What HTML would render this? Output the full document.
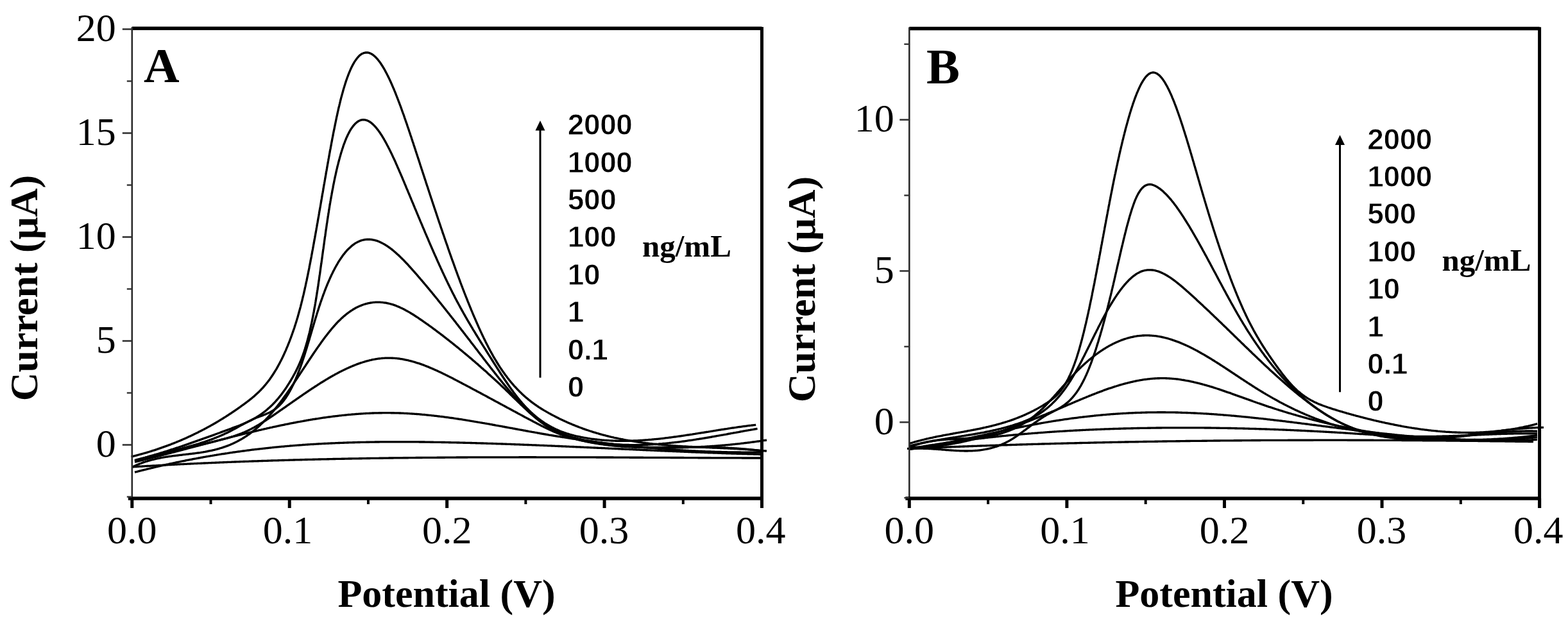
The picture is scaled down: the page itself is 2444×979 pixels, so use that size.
<!DOCTYPE html>
<html><head><meta charset="utf-8"><style>
html,body{margin:0;padding:0;background:#fff;}
svg{display:block;}
.tl{font-family:"Liberation Serif",serif;font-size:62px;fill:#000;}
.ti{font-family:"Liberation Serif",serif;font-weight:bold;font-size:62px;fill:#000;}
.pl{font-family:"Liberation Serif",serif;font-weight:bold;font-size:77px;fill:#000;}
.lg{font-family:"Liberation Sans",sans-serif;font-weight:bold;font-size:46px;fill:#000;letter-spacing:-0.4px;stroke:#fff;stroke-width:0.9px;}
.un{font-family:"Liberation Serif",serif;font-weight:bold;font-size:49px;fill:#000;}
.cv path{fill:none;stroke:#000;stroke-width:3.35;stroke-linejoin:round;stroke-linecap:butt;}
</style></head><body>
<svg width="2444" height="979" viewBox="0 0 2444 979">
<rect width="2444" height="979" fill="#fff"/>
<g class="cv">
<path d="M204.5,712.0 L206.0,711.6 L207.4,711.3 L208.9,710.9 L210.3,710.5 L211.8,710.2 L213.2,709.8 L214.7,709.4 L216.1,709.0 L217.6,708.6 L219.0,708.2 L220.5,707.8 L221.9,707.4 L223.4,707.0 L224.8,706.6 L226.3,706.2 L227.7,705.8 L229.1,705.3 L230.6,704.9 L232.0,704.5 L233.5,704.0 L234.9,703.6 L236.3,703.1 L237.8,702.7 L239.2,702.2 L240.6,701.8 L242.0,701.3 L243.5,700.8 L244.9,700.4 L246.3,699.9 L247.7,699.4 L249.2,698.9 L250.6,698.4 L252.0,697.9 L253.4,697.4 L254.8,696.9 L256.2,696.4 L257.7,695.9 L259.1,695.4 L260.5,694.9 L261.9,694.4 L263.3,693.8 L264.7,693.3 L266.1,692.8 L267.5,692.2 L268.9,691.7 L270.3,691.1 L271.7,690.6 L273.1,690.0 L274.5,689.5 L275.9,688.9 L277.3,688.3 L278.6,687.8 L280.0,687.2 L281.4,686.6 L282.8,686.0 L284.2,685.4 L285.5,684.8 L286.9,684.2 L288.3,683.6 L289.7,683.0 L291.0,682.4 L292.4,681.8 L293.8,681.1 L295.1,680.5 L296.5,679.9 L297.9,679.2 L299.2,678.6 L300.6,678.0 L301.9,677.3 L303.3,676.6 L304.6,676.0 L306.0,675.3 L307.3,674.7 L308.7,674.0 L310.0,673.3 L311.4,672.6 L312.7,672.0 L314.0,671.3 L315.4,670.6 L316.7,669.9 L318.0,669.2 L319.3,668.5 L320.7,667.8 L322.0,667.1 L323.3,666.3 L324.6,665.6 L325.9,664.9 L327.3,664.2 L328.6,663.4 L329.9,662.7 L331.2,662.0 L332.5,661.2 L333.8,660.5 L335.1,659.7 L336.4,659.0 L337.7,658.2 L339.0,657.4 L340.3,656.7 L341.6,655.9 L342.8,655.1 L344.1,654.3 L345.4,653.6 L346.7,652.8 L348.0,652.0 L349.2,651.2 L350.5,650.4 L351.8,649.6 L353.0,648.8 L354.3,648.0 L355.6,647.1 L356.8,646.3 L358.1,645.5 L359.3,644.7 L360.6,643.9 L361.8,643.0 L363.1,642.2 L364.3,641.3 L365.6,640.5 L366.8,639.7 L368.0,638.8 L369.3,637.9 L370.5,637.1 L371.7,636.2 L373.0,635.4 L374.2,634.5 L375.4,633.6 L376.6,632.7 L377.8,631.9 L379.1,631.0 L380.3,630.1 L381.5,629.2 L382.7,628.3 L383.9,627.4 L385.1,626.5 L386.3,625.6 L387.5,624.7 L388.7,623.8 L389.8,622.8 L391.0,621.9 L392.2,621.0 L393.3,620.0 L394.5,619.0 L395.6,618.1 L396.8,617.1 L397.9,616.1 L399.0,615.1 L400.1,614.1 L401.2,613.1 L402.3,612.0 L403.4,611.0 L404.5,609.9 L405.5,608.9 L406.6,607.8 L407.6,606.7 L408.6,605.6 L409.7,604.5 L410.7,603.4 L411.6,602.2 L412.6,601.1 L413.6,600.0 L414.6,598.8 L415.5,597.6 L416.4,596.5 L417.4,595.3 L418.3,594.1 L419.2,592.9 L420.1,591.7 L421.0,590.5 L421.8,589.2 L422.7,588.0 L423.5,586.8 L424.4,585.5 L425.2,584.3 L426.0,583.0 L426.8,581.8 L427.6,580.5 L428.4,579.2 L429.2,577.9 L430.0,576.6 L430.8,575.4 L431.5,574.1 L432.3,572.7 L433.0,571.4 L433.7,570.1 L434.4,568.8 L435.1,567.5 L435.9,566.2 L436.5,564.8 L437.2,563.5 L437.9,562.2 L438.6,560.8 L439.3,559.5 L439.9,558.1 L440.6,556.8 L441.2,555.4 L441.9,554.1 L442.5,552.7 L443.1,551.3 L443.7,550.0 L444.3,548.6 L445.0,547.2 L445.6,545.8 L446.1,544.5 L446.7,543.1 L447.3,541.7 L447.9,540.3 L448.5,538.9 L449.0,537.5 L449.6,536.1 L450.2,534.7 L450.7,533.3 L451.3,531.9 L451.8,530.5 L452.3,529.1 L452.9,527.7 L453.4,526.3 L453.9,524.9 L454.4,523.5 L454.9,522.1 L455.4,520.7 L455.9,519.3 L456.4,517.9 L456.9,516.4 L457.4,515.0 L457.9,513.6 L458.4,512.2 L458.9,510.7 L459.3,509.3 L459.8,507.9 L460.2,506.5 L460.7,505.0 L461.1,503.6 L461.6,502.2 L462.0,500.7 L462.5,499.3 L462.9,497.9 L463.3,496.4 L463.8,495.0 L464.2,493.5 L464.6,492.1 L465.0,490.6 L465.4,489.2 L465.8,487.8 L466.2,486.3 L466.6,484.9 L467.0,483.4 L467.4,482.0 L467.8,480.5 L468.2,479.1 L468.6,477.6 L468.9,476.2 L469.3,474.7 L469.7,473.2 L470.0,471.8 L470.4,470.3 L470.8,468.9 L471.1,467.4 L471.5,466.0 L471.8,464.5 L472.2,463.0 L472.5,461.6 L472.9,460.1 L473.2,458.7 L473.6,457.2 L473.9,455.7 L474.2,454.3 L474.6,452.8 L474.9,451.3 L475.2,449.9 L475.5,448.4 L475.9,446.9 L476.2,445.5 L476.5,444.0 L476.8,442.5 L477.1,441.1 L477.4,439.6 L477.8,438.1 L478.1,436.7 L478.4,435.2 L478.7,433.7 L479.0,432.2 L479.3,430.8 L479.6,429.3 L479.9,427.8 L480.2,426.4 L480.5,424.9 L480.8,423.4 L481.1,421.9 L481.4,420.5 L481.7,419.0 L482.0,417.5 L482.2,416.0 L482.5,414.6 L482.8,413.1 L483.1,411.6 L483.4,410.2 L483.7,408.7 L484.0,407.2 L484.2,405.7 L484.5,404.3 L484.8,402.8 L485.1,401.3 L485.4,399.8 L485.6,398.4 L485.9,396.9 L486.2,395.4 L486.5,393.9 L486.7,392.4 L487.0,391.0 L487.3,389.5 L487.6,388.0 L487.8,386.5 L488.1,385.1 L488.4,383.6 L488.6,382.1 L488.9,380.6 L489.2,379.2 L489.4,377.7 L489.7,376.2 L490.0,374.7 L490.2,373.2 L490.5,371.8 L490.8,370.3 L491.0,368.8 L491.3,367.3 L491.6,365.9 L491.8,364.4 L492.1,362.9 L492.4,361.4 L492.6,359.9 L492.9,358.5 L493.1,357.0 L493.4,355.5 L493.7,354.0 L493.9,352.5 L494.2,351.1 L494.4,349.6 L494.7,348.1 L495.0,346.6 L495.2,345.2 L495.5,343.7 L495.7,342.2 L496.0,340.7 L496.3,339.2 L496.5,337.8 L496.8,336.3 L497.0,334.8 L497.3,333.3 L497.5,331.8 L497.8,330.4 L498.0,328.9 L498.3,327.4 L498.6,325.9 L498.8,324.4 L499.1,323.0 L499.3,321.5 L499.6,320.0 L499.8,318.5 L500.1,317.0 L500.3,315.6 L500.6,314.1 L500.9,312.6 L501.1,311.1 L501.4,309.6 L501.6,308.2 L501.9,306.7 L502.1,305.2 L502.4,303.7 L502.6,302.2 L502.9,300.8 L503.2,299.3 L503.4,297.8 L503.7,296.3 L503.9,294.8 L504.2,293.4 L504.4,291.9 L504.7,290.4 L504.9,288.9 L505.2,287.4 L505.5,286.0 L505.7,284.5 L506.0,283.0 L506.2,281.5 L506.5,280.0 L506.7,278.6 L507.0,277.1 L507.3,275.6 L507.5,274.1 L507.8,272.6 L508.0,271.2 L508.3,269.7 L508.5,268.2 L508.8,266.7 L509.1,265.3 L509.3,263.8 L509.6,262.3 L509.8,260.8 L510.1,259.3 L510.4,257.9 L510.6,256.4 L510.9,254.9 L511.2,253.4 L511.4,251.9 L511.7,250.5 L511.9,249.0 L512.2,247.5 L512.5,246.0 L512.7,244.6 L513.0,243.1 L513.3,241.6 L513.5,240.1 L513.8,238.6 L514.1,237.2 L514.3,235.7 L514.6,234.2 L514.9,232.7 L515.2,231.3 L515.4,229.8 L515.7,228.3 L516.0,226.8 L516.3,225.4 L516.5,223.9 L516.8,222.4 L517.1,220.9 L517.4,219.4 L517.6,218.0 L517.9,216.5 L518.2,215.0 L518.5,213.5 L518.8,212.1 L519.1,210.6 L519.3,209.1 L519.6,207.6 L519.9,206.2 L520.2,204.7 L520.5,203.2 L520.8,201.8 L521.1,200.3 L521.4,198.8 L521.7,197.3 L522.0,195.9 L522.3,194.4 L522.6,192.9 L522.9,191.5 L523.2,190.0 L523.5,188.5 L523.8,187.0 L524.1,185.6 L524.4,184.1 L524.7,182.6 L525.0,181.2 L525.4,179.7 L525.7,178.2 L526.0,176.8 L526.3,175.3 L526.6,173.8 L527.0,172.4 L527.3,170.9 L527.6,169.4 L528.0,168.0 L528.3,166.5 L528.7,165.1 L529.0,163.6 L529.4,162.1 L529.7,160.7 L530.1,159.2 L530.4,157.8 L530.8,156.3 L531.2,154.8 L531.5,153.4 L531.9,151.9 L532.3,150.5 L532.7,149.0 L533.1,147.6 L533.5,146.1 L533.9,144.7 L534.3,143.2 L534.7,141.8 L535.1,140.3 L535.5,138.9 L535.9,137.5 L536.4,136.0 L536.8,134.6 L537.2,133.2 L537.7,131.7 L538.1,130.3 L538.6,128.9 L539.1,127.4 L539.5,126.0 L540.0,124.6 L540.5,123.2 L541.0,121.8 L541.5,120.3 L542.1,118.9 L542.6,117.5 L543.1,116.1 L543.7,114.7 L544.2,113.3 L544.8,112.0 L545.4,110.6 L546.0,109.2 L546.6,107.8 L547.2,106.5 L547.9,105.1 L548.5,103.8 L549.2,102.4 L549.9,101.1 L550.6,99.8 L551.4,98.5 L552.1,97.2 L552.9,95.9 L553.8,94.6 L554.6,93.4 L555.5,92.2 L556.4,91.0 L557.4,89.8 L558.4,88.7 L559.4,87.6 L560.5,86.6 L561.6,85.6 L562.9,84.7 L564.1,83.9 L565.5,83.3 L566.8,82.7 L568.3,82.3 L569.8,82.0 L571.3,81.9 L572.8,82.0 L574.2,82.2 L575.7,82.6 L577.1,83.1 L578.4,83.8 L579.8,84.5 L581.0,85.3 L582.2,86.2 L583.4,87.2 L584.5,88.2 L585.6,89.2 L586.6,90.3 L587.6,91.4 L588.6,92.5 L589.6,93.7 L590.5,94.9 L591.4,96.1 L592.3,97.3 L593.2,98.5 L594.0,99.8 L594.8,101.0 L595.6,102.3 L596.4,103.5 L597.2,104.8 L598.0,106.1 L598.7,107.4 L599.5,108.7 L600.2,110.0 L600.9,111.4 L601.6,112.7 L602.3,114.0 L603.0,115.3 L603.7,116.7 L604.4,118.0 L605.0,119.4 L605.7,120.7 L606.4,122.1 L607.0,123.4 L607.6,124.8 L608.3,126.2 L608.9,127.5 L609.5,128.9 L610.1,130.3 L610.7,131.6 L611.3,133.0 L611.9,134.4 L612.5,135.8 L613.1,137.2 L613.7,138.5 L614.3,139.9 L614.8,141.3 L615.4,142.7 L616.0,144.1 L616.5,145.5 L617.1,146.9 L617.6,148.3 L618.2,149.7 L618.7,151.1 L619.3,152.5 L619.8,153.9 L620.4,155.3 L620.9,156.7 L621.4,158.1 L622.0,159.5 L622.5,160.9 L623.0,162.3 L623.5,163.7 L624.1,165.1 L624.6,166.5 L625.1,167.9 L625.6,169.3 L626.1,170.8 L626.6,172.2 L627.1,173.6 L627.6,175.0 L628.1,176.4 L628.7,177.8 L629.2,179.2 L629.7,180.7 L630.2,182.1 L630.6,183.5 L631.1,184.9 L631.6,186.3 L632.1,187.7 L632.6,189.2 L633.1,190.6 L633.6,192.0 L634.1,193.4 L634.6,194.8 L635.0,196.3 L635.5,197.7 L636.0,199.1 L636.5,200.5 L637.0,202.0 L637.5,203.4 L637.9,204.8 L638.4,206.2 L638.9,207.6 L639.4,209.1 L639.8,210.5 L640.3,211.9 L640.8,213.3 L641.3,214.8 L641.7,216.2 L642.2,217.6 L642.7,219.1 L643.1,220.5 L643.6,221.9 L644.1,223.3 L644.6,224.8 L645.0,226.2 L645.5,227.6 L646.0,229.0 L646.4,230.5 L646.9,231.9 L647.4,233.3 L647.8,234.7 L648.3,236.2 L648.8,237.6 L649.2,239.0 L649.7,240.5 L650.2,241.9 L650.6,243.3 L651.1,244.7 L651.6,246.2 L652.0,247.6 L652.5,249.0 L653.0,250.4 L653.4,251.9 L653.9,253.3 L654.4,254.7 L654.8,256.2 L655.3,257.6 L655.7,259.0 L656.2,260.4 L656.7,261.9 L657.1,263.3 L657.6,264.7 L658.1,266.1 L658.5,267.6 L659.0,269.0 L659.5,270.4 L659.9,271.9 L660.4,273.3 L660.9,274.7 L661.3,276.1 L661.8,277.6 L662.3,279.0 L662.7,280.4 L663.2,281.8 L663.7,283.3 L664.1,284.7 L664.6,286.1 L665.1,287.6 L665.5,289.0 L666.0,290.4 L666.5,291.8 L667.0,293.3 L667.4,294.7 L667.9,296.1 L668.4,297.5 L668.8,299.0 L669.3,300.4 L669.8,301.8 L670.2,303.3 L670.7,304.7 L671.2,306.1 L671.6,307.5 L672.1,309.0 L672.6,310.4 L673.1,311.8 L673.5,313.2 L674.0,314.7 L674.5,316.1 L674.9,317.5 L675.4,318.9 L675.9,320.4 L676.4,321.8 L676.8,323.2 L677.3,324.6 L677.8,326.1 L678.3,327.5 L678.7,328.9 L679.2,330.3 L679.7,331.8 L680.2,333.2 L680.6,334.6 L681.1,336.0 L681.6,337.5 L682.1,338.9 L682.5,340.3 L683.0,341.7 L683.5,343.2 L684.0,344.6 L684.4,346.0 L684.9,347.4 L685.4,348.8 L685.9,350.3 L686.4,351.7 L686.8,353.1 L687.3,354.5 L687.8,356.0 L688.3,357.4 L688.8,358.8 L689.3,360.2 L689.7,361.6 L690.2,363.1 L690.7,364.5 L691.2,365.9 L691.7,367.3 L692.2,368.7 L692.7,370.2 L693.1,371.6 L693.6,373.0 L694.1,374.4 L694.6,375.9 L695.1,377.3 L695.6,378.7 L696.1,380.1 L696.6,381.5 L697.1,382.9 L697.6,384.4 L698.1,385.8 L698.5,387.2 L699.0,388.6 L699.5,390.0 L700.0,391.5 L700.5,392.9 L701.0,394.3 L701.5,395.7 L702.0,397.1 L702.5,398.5 L703.0,399.9 L703.5,401.4 L704.0,402.8 L704.5,404.2 L705.0,405.6 L705.5,407.0 L706.1,408.4 L706.6,409.9 L707.1,411.3 L707.6,412.7 L708.1,414.1 L708.6,415.5 L709.1,416.9 L709.6,418.3 L710.1,419.7 L710.6,421.1 L711.2,422.6 L711.7,424.0 L712.2,425.4 L712.7,426.8 L713.2,428.2 L713.7,429.6 L714.3,431.0 L714.8,432.4 L715.3,433.8 L715.8,435.2 L716.4,436.6 L716.9,438.1 L717.4,439.5 L717.9,440.9 L718.5,442.3 L719.0,443.7 L719.5,445.1 L720.1,446.5 L720.6,447.9 L721.1,449.3 L721.7,450.7 L722.2,452.1 L722.8,453.5 L723.3,454.9 L723.8,456.3 L724.4,457.7 L724.9,459.1 L725.5,460.5 L726.0,461.9 L726.6,463.3 L727.1,464.7 L727.7,466.1 L728.2,467.5 L728.8,468.9 L729.3,470.3 L729.9,471.7 L730.5,473.1 L731.0,474.4 L731.6,475.8 L732.1,477.2 L732.7,478.6 L733.3,480.0 L733.9,481.4 L734.4,482.8 L735.0,484.2 L735.6,485.6 L736.2,486.9 L736.7,488.3 L737.3,489.7 L737.9,491.1 L738.5,492.5 L739.1,493.9 L739.7,495.2 L740.3,496.6 L740.9,498.0 L741.5,499.4 L742.1,500.8 L742.7,502.1 L743.3,503.5 L743.9,504.9 L744.5,506.3 L745.1,507.6 L745.7,509.0 L746.3,510.4 L746.9,511.7 L747.6,513.1 L748.2,514.5 L748.8,515.8 L749.4,517.2 L750.1,518.6 L750.7,519.9 L751.3,521.3 L752.0,522.6 L752.6,524.0 L753.3,525.3 L753.9,526.7 L754.6,528.0 L755.2,529.4 L755.9,530.7 L756.6,532.1 L757.2,533.4 L757.9,534.8 L758.6,536.1 L759.3,537.5 L760.0,538.8 L760.6,540.1 L761.3,541.5 L762.0,542.8 L762.7,544.1 L763.4,545.4 L764.1,546.8 L764.9,548.1 L765.6,549.4 L766.3,550.7 L767.0,552.0 L767.8,553.3 L768.5,554.7 L769.2,556.0 L770.0,557.3 L770.8,558.6 L771.5,559.9 L772.3,561.1 L773.1,562.4 L773.8,563.7 L774.6,565.0 L775.4,566.3 L776.2,567.5 L777.0,568.8 L777.8,570.1 L778.6,571.3 L779.4,572.6 L780.3,573.9 L781.1,575.1 L781.9,576.3 L782.8,577.6 L783.6,578.8 L784.5,580.1 L785.4,581.3 L786.3,582.5 L787.1,583.7 L788.0,584.9 L788.9,586.1 L789.8,587.3 L790.7,588.5 L791.6,589.7 L792.6,590.9 L793.5,592.1 L794.4,593.2 L795.4,594.4 L796.3,595.6 L797.3,596.7 L798.3,597.9 L799.3,599.0 L800.2,600.1 L801.2,601.3 L802.2,602.4 L803.3,603.5 L804.3,604.6 L805.3,605.7 L806.3,606.8 L807.4,607.9 L808.4,608.9 L809.5,610.0 L810.6,611.1 L811.6,612.1 L812.7,613.1 L813.8,614.2 L814.9,615.2 L816.0,616.2 L817.1,617.2 L818.2,618.2 L819.4,619.2 L820.5,620.2 L821.7,621.1 L822.8,622.1 L824.0,623.1 L825.2,624.0 L826.3,624.9 L827.5,625.9 L828.7,626.8 L829.9,627.7 L831.1,628.6 L832.3,629.4 L833.5,630.3 L834.8,631.2 L836.0,632.0 L837.2,632.9 L838.5,633.7 L839.7,634.6 L841.0,635.4 L842.3,636.2 L843.5,637.0 L844.8,637.8 L846.1,638.6 L847.4,639.4 L848.7,640.1 L850.0,640.9 L851.3,641.6 L852.6,642.4 L853.9,643.1 L855.2,643.9 L856.5,644.6 L857.8,645.3 L859.1,646.0 L860.4,646.7 L861.8,647.4 L863.1,648.1 L864.4,648.8 L865.8,649.5 L867.1,650.2 L868.4,650.9 L869.8,651.5 L871.1,652.2 L872.5,652.9 L873.8,653.5 L875.2,654.2 L876.5,654.8 L877.9,655.5 L879.3,656.1 L880.6,656.7 L882.0,657.3 L883.4,658.0 L884.7,658.6 L886.1,659.2 L887.5,659.8 L888.9,660.4 L890.3,660.9 L891.6,661.5 L893.0,662.1 L894.4,662.7 L895.8,663.2 L897.2,663.8 L898.6,664.3 L900.0,664.9 L901.4,665.4 L902.8,666.0 L904.2,666.5 L905.6,667.0 L907.0,667.5 L908.4,668.1 L909.8,668.6 L911.3,669.1 L912.7,669.6 L914.1,670.1 L915.5,670.5 L916.9,671.0 L918.4,671.5 L919.8,672.0 L921.2,672.4 L922.7,672.9 L924.1,673.3 L925.5,673.8 L927.0,674.2 L928.4,674.7 L929.8,675.1 L931.3,675.5 L932.7,675.9 L934.2,676.4 L935.6,676.8 L937.0,677.2 L938.5,677.6 L939.9,678.0 L941.4,678.3 L942.8,678.7 L944.3,679.1 L945.8,679.5 L947.2,679.8 L948.7,680.2 L950.1,680.6 L951.6,680.9 L953.0,681.3 L954.5,681.6 L956.0,681.9 L957.4,682.3 L958.9,682.6 L960.4,682.9 L961.8,683.2 L963.3,683.5 L964.8,683.9 L966.2,684.2 L967.7,684.5 L969.2,684.7 L970.7,685.0 L972.1,685.3 L973.6,685.6 L975.1,685.9 L976.6,686.1 L978.0,686.4 L979.5,686.7 L981.0,686.9 L982.5,687.2 L984.0,687.4 L985.4,687.7 L986.9,687.9 L988.4,688.1 L989.9,688.4 L991.4,688.6 L992.9,688.8 L994.4,689.1 L995.8,689.3 L997.3,689.5 L998.8,689.7 L1000.3,689.9 L1001.8,690.1 L1003.3,690.3 L1004.8,690.5 L1006.3,690.7 L1007.7,690.9 L1009.2,691.0 L1010.7,691.2 L1012.2,691.4 L1013.7,691.6 L1015.2,691.7 L1016.7,691.9 L1018.2,692.1 L1019.7,692.2 L1021.2,692.4 L1022.7,692.5 L1024.2,692.7 L1025.7,692.8 L1027.2,693.0 L1028.6,693.1 L1030.1,693.2 L1031.6,693.4 L1033.1,693.5 L1034.6,693.6 L1036.1,693.8 L1037.6,693.9 L1039.1,694.0 L1040.6,694.1 L1042.1,694.3 L1043.6,694.4 L1045.1,694.5 L1046.6,694.6 L1048.1,694.7 L1049.6,694.8 L1051.1,694.9 L1052.6,695.0 L1054.1,695.1 L1055.6,695.2 L1057.1,695.3 L1058.6,695.4 L1060.1,695.5 L1061.6,695.6 L1063.1,695.7 L1064.6,695.8 L1066.1,695.8 L1067.6,695.9 L1069.1,696.0 L1070.6,696.1 L1072.1,696.2 L1073.6,696.3 L1075.1,696.3 L1076.6,696.4 L1078.1,696.5 L1079.6,696.6 L1081.1,696.6 L1082.6,696.7 L1084.1,696.8 L1085.6,696.8 L1087.1,696.9 L1088.6,697.0 L1090.1,697.1 L1091.6,697.1 L1093.1,697.2 L1094.6,697.2 L1096.1,697.3 L1097.6,697.4 L1099.1,697.4 L1100.6,697.5 L1102.1,697.6 L1103.6,697.6 L1105.1,697.7 L1106.6,697.8 L1108.1,697.8 L1109.6,697.9 L1111.1,698.0 L1112.6,698.0 L1114.1,698.1 L1115.6,698.1 L1117.1,698.2 L1118.6,698.3 L1120.1,698.3 L1121.6,698.4 L1123.1,698.5 L1124.6,698.5 L1126.1,698.6 L1127.6,698.7 L1129.1,698.7 L1130.6,698.8 L1132.1,698.9 L1133.6,698.9 L1135.1,699.0 L1136.6,699.1 L1138.1,699.2 L1139.6,699.2 L1141.1,699.3 L1142.6,699.4 L1144.1,699.5 L1145.6,699.5 L1147.1,699.6 L1148.6,699.7 L1150.1,699.8 L1151.6,699.9 L1153.1,700.0 L1154.6,700.0 L1156.1,700.1 L1157.6,700.2 L1159.1,700.3 L1160.6,700.4 L1162.1,700.5 L1163.6,700.6 L1165.1,700.7 L1166.6,700.8 L1168.1,700.9 L1169.6,701.0 L1171.1,701.1 L1172.6,701.2 L1174.1,701.3 L1175.6,701.5 L1177.1,701.6 L1178.5,701.7 L1180.0,701.8 L1181.5,701.9 L1183.0,702.1 L1184.5,702.2 L1186.0,702.3 L1187.5,702.5 L1189.0,702.6 L1190.5,702.8 L1192.0,702.9 L1193.5,703.0 L1195.0,703.2"/>
<path d="M210.0,717.4 L211.5,717.1 L212.9,716.7 L214.4,716.3 L215.8,715.9 L217.3,715.6 L218.7,715.2 L220.2,714.8 L221.6,714.4 L223.1,714.0 L224.5,713.6 L226.0,713.3 L227.4,712.9 L228.9,712.5 L230.3,712.1 L231.8,711.6 L233.2,711.2 L234.7,710.8 L236.1,710.4 L237.6,710.0 L239.0,709.6 L240.4,709.2 L241.9,708.7 L243.3,708.3 L244.8,707.9 L246.2,707.5 L247.6,707.0 L249.1,706.6 L250.5,706.2 L252.0,705.7 L253.4,705.3 L254.8,704.8 L256.3,704.4 L257.7,703.9 L259.1,703.5 L260.6,703.0 L262.0,702.6 L263.4,702.1 L264.9,701.7 L266.3,701.2 L267.7,700.7 L269.1,700.3 L270.6,699.8 L272.0,699.4 L273.4,698.9 L274.9,698.4 L276.3,697.9 L277.7,697.5 L279.1,697.0 L280.6,696.5 L282.0,696.0 L283.4,695.6 L284.8,695.1 L286.3,694.6 L287.7,694.1 L289.1,693.6 L290.5,693.1 L291.9,692.7 L293.4,692.2 L294.8,691.7 L296.2,691.2 L297.6,690.7 L299.0,690.2 L300.5,689.7 L301.9,689.2 L303.3,688.7 L304.7,688.2 L306.1,687.7 L307.5,687.2 L309.0,686.7 L310.4,686.2 L311.8,685.7 L313.2,685.2 L314.6,684.7 L316.0,684.2 L317.4,683.7 L318.9,683.2 L320.3,682.7 L321.7,682.2 L323.1,681.7 L324.5,681.1 L325.9,680.6 L327.3,680.1 L328.8,679.6 L330.2,679.1 L331.6,678.6 L333.0,678.1 L334.4,677.6 L335.8,677.0 L337.2,676.5 L338.6,676.0 L340.0,675.5 L341.5,675.0 L342.9,674.5 L344.3,673.9 L345.7,673.4 L347.1,672.9 L348.5,672.4 L349.9,671.9 L351.3,671.4 L352.7,670.8 L354.2,670.3 L355.6,669.8 L357.0,669.3 L358.4,668.8 L359.8,668.3 L361.2,667.7 L362.6,667.2 L364.0,666.7 L365.4,666.2 L366.8,665.7 L368.2,665.1 L369.7,664.6 L371.1,664.1 L372.5,663.5 L373.9,663.0 L375.3,662.4 L376.6,661.9 L378.0,661.3 L379.4,660.7 L380.8,660.1 L382.2,659.5 L383.5,658.9 L384.9,658.3 L386.3,657.6 L387.6,657.0 L389.0,656.3 L390.3,655.7 L391.7,655.0 L393.0,654.3 L394.3,653.6 L395.6,652.8 L396.9,652.1 L398.2,651.3 L399.5,650.6 L400.8,649.8 L402.1,649.0 L403.3,648.2 L404.6,647.4 L405.8,646.5 L407.1,645.7 L408.3,644.8 L409.5,643.9 L410.7,643.0 L411.9,642.1 L413.1,641.2 L414.3,640.2 L415.4,639.3 L416.6,638.3 L417.7,637.3 L418.8,636.3 L420.0,635.3 L421.1,634.3 L422.2,633.3 L423.2,632.2 L424.3,631.2 L425.4,630.1 L426.4,629.0 L427.5,628.0 L428.5,626.9 L429.5,625.8 L430.5,624.6 L431.5,623.5 L432.5,622.4 L433.5,621.2 L434.4,620.1 L435.4,618.9 L436.3,617.7 L437.3,616.6 L438.2,615.4 L439.1,614.2 L440.0,613.0 L440.9,611.8 L441.8,610.6 L442.6,609.4 L443.5,608.1 L444.4,606.9 L445.2,605.7 L446.1,604.4 L446.9,603.2 L447.7,601.9 L448.5,600.6 L449.3,599.4 L450.1,598.1 L450.9,596.8 L451.7,595.5 L452.5,594.3 L453.3,593.0 L454.0,591.7 L454.8,590.4 L455.5,589.1 L456.3,587.8 L457.0,586.5 L457.7,585.1 L458.5,583.8 L459.2,582.5 L459.9,581.2 L460.6,579.8 L461.3,578.5 L461.9,577.2 L462.6,575.8 L463.3,574.5 L463.9,573.1 L464.6,571.8 L465.2,570.4 L465.8,569.0 L466.4,567.7 L467.0,566.3 L467.6,564.9 L468.2,563.5 L468.8,562.1 L469.3,560.7 L469.9,559.3 L470.4,557.9 L471.0,556.5 L471.5,555.1 L472.0,553.7 L472.5,552.3 L473.0,550.9 L473.5,549.5 L474.0,548.0 L474.4,546.6 L474.9,545.2 L475.4,543.8 L475.8,542.3 L476.3,540.9 L476.7,539.4 L477.1,538.0 L477.5,536.6 L478.0,535.1 L478.4,533.7 L478.8,532.2 L479.2,530.8 L479.6,529.3 L479.9,527.9 L480.3,526.4 L480.7,525.0 L481.1,523.5 L481.4,522.1 L481.8,520.6 L482.2,519.1 L482.5,517.7 L482.9,516.2 L483.2,514.8 L483.5,513.3 L483.9,511.8 L484.2,510.4 L484.5,508.9 L484.8,507.4 L485.2,506.0 L485.5,504.5 L485.8,503.0 L486.1,501.5 L486.4,500.1 L486.7,498.6 L487.0,497.1 L487.3,495.7 L487.6,494.2 L487.9,492.7 L488.2,491.2 L488.4,489.8 L488.7,488.3 L489.0,486.8 L489.3,485.3 L489.5,483.9 L489.8,482.4 L490.1,480.9 L490.3,479.4 L490.6,477.9 L490.9,476.5 L491.1,475.0 L491.4,473.5 L491.6,472.0 L491.9,470.5 L492.1,469.1 L492.4,467.6 L492.6,466.1 L492.9,464.6 L493.1,463.1 L493.3,461.6 L493.6,460.2 L493.8,458.7 L494.0,457.2 L494.3,455.7 L494.5,454.2 L494.7,452.7 L495.0,451.3 L495.2,449.8 L495.4,448.3 L495.6,446.8 L495.9,445.3 L496.1,443.8 L496.3,442.3 L496.5,440.9 L496.7,439.4 L497.0,437.9 L497.2,436.4 L497.4,434.9 L497.6,433.4 L497.8,431.9 L498.0,430.4 L498.2,429.0 L498.5,427.5 L498.7,426.0 L498.9,424.5 L499.1,423.0 L499.3,421.5 L499.5,420.0 L499.7,418.5 L499.9,417.1 L500.1,415.6 L500.3,414.1 L500.5,412.6 L500.8,411.1 L501.0,409.6 L501.2,408.1 L501.4,406.6 L501.6,405.2 L501.8,403.7 L502.0,402.2 L502.2,400.7 L502.4,399.2 L502.6,397.7 L502.8,396.2 L503.0,394.7 L503.2,393.3 L503.4,391.8 L503.6,390.3 L503.8,388.8 L504.1,387.3 L504.3,385.8 L504.5,384.3 L504.7,382.8 L504.9,381.3 L505.1,379.9 L505.3,378.4 L505.5,376.9 L505.7,375.4 L505.9,373.9 L506.1,372.4 L506.3,370.9 L506.5,369.4 L506.8,368.0 L507.0,366.5 L507.2,365.0 L507.4,363.5 L507.6,362.0 L507.8,360.5 L508.0,359.0 L508.2,357.5 L508.5,356.1 L508.7,354.6 L508.9,353.1 L509.1,351.6 L509.3,350.1 L509.5,348.6 L509.8,347.1 L510.0,345.7 L510.2,344.2 L510.4,342.7 L510.7,341.2 L510.9,339.7 L511.1,338.2 L511.3,336.7 L511.6,335.3 L511.8,333.8 L512.0,332.3 L512.3,330.8 L512.5,329.3 L512.7,327.8 L513.0,326.4 L513.2,324.9 L513.5,323.4 L513.7,321.9 L513.9,320.4 L514.2,318.9 L514.4,317.5 L514.7,316.0 L514.9,314.5 L515.2,313.0 L515.4,311.5 L515.7,310.1 L516.0,308.6 L516.2,307.1 L516.5,305.6 L516.8,304.1 L517.0,302.7 L517.3,301.2 L517.6,299.7 L517.8,298.2 L518.1,296.8 L518.4,295.3 L518.7,293.8 L519.0,292.3 L519.2,290.9 L519.5,289.4 L519.8,287.9 L520.1,286.4 L520.4,285.0 L520.7,283.5 L521.0,282.0 L521.3,280.5 L521.6,279.1 L521.9,277.6 L522.2,276.1 L522.5,274.7 L522.9,273.2 L523.2,271.7 L523.5,270.3 L523.8,268.8 L524.2,267.3 L524.5,265.9 L524.8,264.4 L525.2,262.9 L525.5,261.5 L525.9,260.0 L526.2,258.6 L526.6,257.1 L527.0,255.6 L527.3,254.2 L527.7,252.7 L528.1,251.3 L528.5,249.8 L528.9,248.4 L529.3,246.9 L529.6,245.5 L530.1,244.0 L530.5,242.6 L530.9,241.1 L531.3,239.7 L531.7,238.3 L532.2,236.8 L532.6,235.4 L533.1,234.0 L533.5,232.5 L534.0,231.1 L534.5,229.7 L534.9,228.2 L535.4,226.8 L535.9,225.4 L536.4,224.0 L537.0,222.6 L537.5,221.2 L538.0,219.8 L538.6,218.4 L539.2,217.0 L539.7,215.6 L540.3,214.2 L541.0,212.9 L541.6,211.5 L542.2,210.1 L542.9,208.8 L543.6,207.4 L544.3,206.1 L545.0,204.8 L545.7,203.5 L546.5,202.2 L547.3,200.9 L548.1,199.7 L549.0,198.5 L549.9,197.2 L550.8,196.1 L551.8,194.9 L552.8,193.8 L553.8,192.7 L554.9,191.7 L556.1,190.7 L557.3,189.8 L558.6,189.0 L559.9,188.3 L561.3,187.7 L562.7,187.2 L564.1,186.9 L565.6,186.7 L567.1,186.7 L568.6,186.9 L570.1,187.2 L571.6,187.6 L573.0,188.1 L574.3,188.8 L575.6,189.5 L576.9,190.3 L578.1,191.2 L579.3,192.1 L580.4,193.1 L581.6,194.1 L582.6,195.1 L583.7,196.2 L584.7,197.3 L585.7,198.4 L586.7,199.6 L587.6,200.7 L588.5,201.9 L589.5,203.1 L590.3,204.3 L591.2,205.5 L592.1,206.8 L592.9,208.0 L593.7,209.3 L594.6,210.5 L595.4,211.8 L596.2,213.1 L596.9,214.4 L597.7,215.7 L598.5,217.0 L599.2,218.3 L600.0,219.6 L600.7,220.9 L601.4,222.2 L602.1,223.5 L602.8,224.8 L603.5,226.2 L604.2,227.5 L604.9,228.8 L605.6,230.2 L606.3,231.5 L607.0,232.8 L607.6,234.2 L608.3,235.5 L609.0,236.9 L609.6,238.2 L610.3,239.6 L610.9,240.9 L611.6,242.3 L612.2,243.7 L612.8,245.0 L613.5,246.4 L614.1,247.7 L614.7,249.1 L615.4,250.5 L616.0,251.8 L616.6,253.2 L617.2,254.6 L617.8,256.0 L618.4,257.3 L619.0,258.7 L619.6,260.1 L620.2,261.5 L620.8,262.8 L621.4,264.2 L622.0,265.6 L622.6,267.0 L623.2,268.4 L623.8,269.7 L624.4,271.1 L625.0,272.5 L625.6,273.9 L626.2,275.3 L626.8,276.6 L627.3,278.0 L627.9,279.4 L628.5,280.8 L629.1,282.2 L629.7,283.6 L630.3,285.0 L630.8,286.3 L631.4,287.7 L632.0,289.1 L632.6,290.5 L633.1,291.9 L633.7,293.3 L634.3,294.7 L634.9,296.0 L635.5,297.4 L636.0,298.8 L636.6,300.2 L637.2,301.6 L637.8,303.0 L638.4,304.4 L638.9,305.7 L639.5,307.1 L640.1,308.5 L640.7,309.9 L641.2,311.3 L641.8,312.7 L642.4,314.1 L643.0,315.5 L643.6,316.8 L644.1,318.2 L644.7,319.6 L645.3,321.0 L645.9,322.4 L646.4,323.8 L647.0,325.2 L647.6,326.5 L648.2,327.9 L648.8,329.3 L649.3,330.7 L649.9,332.1 L650.5,333.5 L651.1,334.9 L651.7,336.2 L652.2,337.6 L652.8,339.0 L653.4,340.4 L654.0,341.8 L654.6,343.2 L655.1,344.6 L655.7,345.9 L656.3,347.3 L656.9,348.7 L657.5,350.1 L658.1,351.5 L658.6,352.9 L659.2,354.3 L659.8,355.6 L660.4,357.0 L661.0,358.4 L661.6,359.8 L662.1,361.2 L662.7,362.6 L663.3,363.9 L663.9,365.3 L664.5,366.7 L665.1,368.1 L665.7,369.5 L666.3,370.8 L666.9,372.2 L667.5,373.6 L668.0,375.0 L668.6,376.4 L669.2,377.7 L669.8,379.1 L670.4,380.5 L671.0,381.9 L671.6,383.3 L672.2,384.6 L672.8,386.0 L673.4,387.4 L674.0,388.8 L674.6,390.1 L675.2,391.5 L675.8,392.9 L676.4,394.3 L677.0,395.6 L677.6,397.0 L678.3,398.4 L678.9,399.8 L679.5,401.1 L680.1,402.5 L680.7,403.9 L681.3,405.3 L681.9,406.6 L682.5,408.0 L683.2,409.4 L683.8,410.7 L684.4,412.1 L685.0,413.5 L685.6,414.8 L686.3,416.2 L686.9,417.6 L687.5,418.9 L688.1,420.3 L688.8,421.7 L689.4,423.0 L690.0,424.4 L690.7,425.8 L691.3,427.1 L691.9,428.5 L692.6,429.8 L693.2,431.2 L693.8,432.6 L694.5,433.9 L695.1,435.3 L695.8,436.6 L696.4,438.0 L697.1,439.3 L697.7,440.7 L698.4,442.0 L699.0,443.4 L699.7,444.7 L700.4,446.1 L701.0,447.4 L701.7,448.8 L702.4,450.1 L703.0,451.5 L703.7,452.8 L704.4,454.2 L705.0,455.5 L705.7,456.9 L706.4,458.2 L707.1,459.5 L707.8,460.9 L708.5,462.2 L709.1,463.5 L709.8,464.9 L710.5,466.2 L711.2,467.5 L711.9,468.9 L712.6,470.2 L713.3,471.5 L714.1,472.8 L714.8,474.2 L715.5,475.5 L716.2,476.8 L716.9,478.1 L717.6,479.4 L718.4,480.8 L719.1,482.1 L719.8,483.4 L720.5,484.7 L721.3,486.0 L722.0,487.3 L722.7,488.6 L723.5,489.9 L724.2,491.2 L725.0,492.6 L725.7,493.9 L726.5,495.2 L727.2,496.5 L728.0,497.8 L728.7,499.1 L729.5,500.4 L730.2,501.7 L731.0,503.0 L731.8,504.2 L732.5,505.5 L733.3,506.8 L734.1,508.1 L734.8,509.4 L735.6,510.7 L736.4,512.0 L737.1,513.3 L737.9,514.6 L738.7,515.8 L739.5,517.1 L740.3,518.4 L741.0,519.7 L741.8,521.0 L742.6,522.3 L743.4,523.5 L744.2,524.8 L745.0,526.1 L745.8,527.4 L746.5,528.7 L747.3,529.9 L748.1,531.2 L748.9,532.5 L749.7,533.8 L750.5,535.0 L751.3,536.3 L752.1,537.6 L752.9,538.9 L753.7,540.1 L754.5,541.4 L755.3,542.7 L756.1,543.9 L756.9,545.2 L757.7,546.5 L758.5,547.8 L759.3,549.0 L760.1,550.3 L760.9,551.6 L761.7,552.9 L762.5,554.1 L763.3,555.4 L764.1,556.7 L764.9,557.9 L765.7,559.2 L766.5,560.5 L767.3,561.8 L768.1,563.0 L768.9,564.3 L769.7,565.6 L770.5,566.8 L771.3,568.1 L772.1,569.4 L772.9,570.6 L773.7,571.9 L774.5,573.2 L775.3,574.4 L776.1,575.7 L777.0,577.0 L777.8,578.2 L778.6,579.5 L779.4,580.8 L780.2,582.0 L781.0,583.3 L781.9,584.5 L782.7,585.8 L783.5,587.0 L784.3,588.3 L785.2,589.5 L786.0,590.8 L786.8,592.0 L787.7,593.3 L788.5,594.5 L789.4,595.8 L790.2,597.0 L791.1,598.3 L791.9,599.5 L792.8,600.7 L793.6,602.0 L794.5,603.2 L795.4,604.4 L796.2,605.6 L797.1,606.9 L798.0,608.1 L798.9,609.3 L799.7,610.5 L800.6,611.7 L801.5,612.9 L802.4,614.1 L803.3,615.3 L804.3,616.5 L805.2,617.7 L806.1,618.9 L807.0,620.1 L808.0,621.2 L808.9,622.4 L809.9,623.6 L810.8,624.7 L811.8,625.9 L812.8,627.0 L813.7,628.2 L814.7,629.3 L815.7,630.4 L816.7,631.5 L817.7,632.7 L818.8,633.8 L819.8,634.9 L820.8,635.9 L821.9,637.0 L822.9,638.1 L824.0,639.1 L825.1,640.2 L826.1,641.2 L827.2,642.3 L828.3,643.3 L829.4,644.3 L830.5,645.3 L831.7,646.3 L832.8,647.3 L833.9,648.3 L835.1,649.2 L836.3,650.2 L837.4,651.1 L838.6,652.1 L839.8,653.0 L841.0,653.9 L842.2,654.8 L843.4,655.7 L844.6,656.5 L845.9,657.4 L847.1,658.2 L848.4,659.1 L849.6,659.9 L850.9,660.7 L852.2,661.5 L853.5,662.3 L854.8,663.0 L856.1,663.8 L857.4,664.5 L858.7,665.2 L860.0,666.0 L861.3,666.6 L862.7,667.3 L864.0,668.0 L865.4,668.6 L866.7,669.3 L868.1,669.9 L869.5,670.5 L870.9,671.1 L872.3,671.7 L873.6,672.2 L875.0,672.8 L876.4,673.3 L877.9,673.8 L879.3,674.4 L880.7,674.8 L882.1,675.3 L883.5,675.8 L885.0,676.2 L886.4,676.7 L887.8,677.1 L889.3,677.5 L890.7,677.9 L892.2,678.3 L893.6,678.7 L895.1,679.1 L896.6,679.4 L898.0,679.8 L899.5,680.1 L901.0,680.4 L902.4,680.7 L903.9,681.0 L905.4,681.3 L906.8,681.6 L908.3,681.9 L909.8,682.2 L911.3,682.4 L912.8,682.7 L914.2,682.9 L915.7,683.2 L917.2,683.4 L918.7,683.6 L920.2,683.9 L921.7,684.1 L923.1,684.3 L924.6,684.5 L926.1,684.7 L927.6,684.9 L929.1,685.0 L930.6,685.2 L932.1,685.4 L933.6,685.5 L935.1,685.7 L936.6,685.8 L938.1,686.0 L939.6,686.1 L941.1,686.2 L942.6,686.3 L944.1,686.4 L945.6,686.5 L947.1,686.6 L948.6,686.7 L950.1,686.8 L951.6,686.9 L953.1,687.0 L954.6,687.0 L956.1,687.1 L957.6,687.1 L959.1,687.2 L960.6,687.2 L962.1,687.3 L963.6,687.3 L965.1,687.3 L966.6,687.3 L968.1,687.3 L969.6,687.3 L971.1,687.3 L972.6,687.3 L974.1,687.3 L975.6,687.3 L977.1,687.3 L978.6,687.3 L980.1,687.2 L981.6,687.2 L983.1,687.2 L984.6,687.1 L986.1,687.1 L987.6,687.0 L989.1,687.0 L990.6,686.9 L992.1,686.8 L993.6,686.8 L995.1,686.7 L996.6,686.6 L998.1,686.5 L999.6,686.4 L1001.1,686.3 L1002.6,686.2 L1004.1,686.1 L1005.6,686.0 L1007.1,685.9 L1008.6,685.8 L1010.1,685.7 L1011.6,685.5 L1013.1,685.4 L1014.6,685.3 L1016.1,685.1 L1017.6,685.0 L1019.1,684.9 L1020.6,684.7 L1022.1,684.6 L1023.6,684.4 L1025.1,684.3 L1026.6,684.1 L1028.0,684.0 L1029.5,683.8 L1031.0,683.6 L1032.5,683.5 L1034.0,683.3 L1035.5,683.1 L1037.0,682.9 L1038.5,682.7 L1040.0,682.6 L1041.5,682.4 L1043.0,682.2 L1044.5,682.0 L1045.9,681.8 L1047.4,681.6 L1048.9,681.4 L1050.4,681.2 L1051.9,681.0 L1053.4,680.8 L1054.9,680.6 L1056.4,680.4 L1057.8,680.2 L1059.3,680.0 L1060.8,679.8 L1062.3,679.5 L1063.8,679.3 L1065.3,679.1 L1066.8,678.9 L1068.3,678.7 L1069.7,678.4 L1071.2,678.2 L1072.7,678.0 L1074.2,677.8 L1075.7,677.5 L1077.2,677.3 L1078.7,677.1 L1080.1,676.8 L1081.6,676.6 L1083.1,676.4 L1084.6,676.1 L1086.1,675.9 L1087.6,675.7 L1089.0,675.4 L1090.5,675.2 L1092.0,675.0 L1093.5,674.7 L1095.0,674.5 L1096.5,674.3 L1097.9,674.0 L1099.4,673.8 L1100.9,673.5 L1102.4,673.3 L1103.9,673.1 L1105.4,672.8 L1106.8,672.6 L1108.3,672.3 L1109.8,672.1 L1111.3,671.9 L1112.8,671.6 L1114.3,671.4 L1115.7,671.2 L1117.2,670.9 L1118.7,670.7 L1120.2,670.4 L1121.7,670.2 L1123.2,670.0 L1124.6,669.7 L1126.1,669.5 L1127.6,669.3 L1129.1,669.0 L1130.6,668.8 L1132.1,668.6 L1133.5,668.4 L1135.0,668.1 L1136.5,667.9 L1138.0,667.7 L1139.5,667.4 L1141.0,667.2 L1142.5,667.0 L1143.9,666.8 L1145.4,666.6 L1146.9,666.4 L1148.4,666.1 L1149.9,665.9 L1151.4,665.7 L1152.9,665.5 L1154.4,665.3 L1155.8,665.1 L1157.3,664.9 L1158.8,664.7 L1160.3,664.5 L1161.8,664.3 L1163.3,664.1 L1164.8,663.9 L1166.3,663.7 L1167.8,663.5 L1169.2,663.3 L1170.7,663.2 L1172.2,663.0 L1173.7,662.8 L1175.2,662.6 L1176.7,662.5 L1178.2,662.3"/>
<path d="M210.0,718.5 L211.4,718.1 L212.9,717.6 L214.3,717.1 L215.7,716.7 L217.2,716.2 L218.6,715.8 L220.0,715.3 L221.5,714.9 L222.9,714.5 L224.3,714.1 L225.8,713.6 L227.2,713.2 L228.7,712.8 L230.1,712.4 L231.6,712.0 L233.0,711.6 L234.5,711.2 L235.9,710.8 L237.4,710.4 L238.8,710.1 L240.3,709.7 L241.7,709.3 L243.2,708.9 L244.6,708.5 L246.1,708.2 L247.6,707.8 L249.0,707.4 L250.5,707.1 L251.9,706.7 L253.4,706.3 L254.8,706.0 L256.3,705.6 L257.8,705.3 L259.2,704.9 L260.7,704.6 L262.1,704.2 L263.6,703.8 L265.1,703.5 L266.5,703.1 L268.0,702.8 L269.4,702.4 L270.9,702.1 L272.4,701.7 L273.8,701.3 L275.3,701.0 L276.7,700.6 L278.2,700.2 L279.6,699.9 L281.1,699.5 L282.6,699.1 L284.0,698.8 L285.5,698.4 L286.9,698.0 L288.4,697.6 L289.8,697.3 L291.3,696.9 L292.7,696.5 L294.2,696.1 L295.6,695.7 L297.1,695.3 L298.5,694.9 L300.0,694.5 L301.4,694.1 L302.9,693.7 L304.3,693.3 L305.7,692.8 L307.2,692.4 L308.6,692.0 L310.1,691.5 L311.5,691.1 L312.9,690.6 L314.4,690.2 L315.8,689.7 L317.2,689.3 L318.7,688.8 L320.1,688.3 L321.5,687.8 L322.9,687.4 L324.3,686.9 L325.8,686.4 L327.2,685.8 L328.6,685.3 L330.0,684.8 L331.4,684.3 L332.8,683.8 L334.2,683.2 L335.6,682.7 L337.0,682.1 L338.4,681.5 L339.8,681.0 L341.2,680.4 L342.6,679.8 L343.9,679.2 L345.3,678.6 L346.7,678.0 L348.1,677.4 L349.4,676.8 L350.8,676.1 L352.1,675.5 L353.5,674.9 L354.9,674.2 L356.2,673.5 L357.5,672.9 L358.9,672.2 L360.2,671.5 L361.6,670.8 L362.9,670.1 L364.2,669.4 L365.5,668.7 L366.9,668.0 L368.2,667.3 L369.5,666.5 L370.8,665.8 L372.1,665.1 L373.4,664.4 L374.8,663.6 L376.1,662.9 L377.4,662.2 L378.7,661.5 L380.0,660.8 L381.3,660.0 L382.7,659.3 L384.0,658.6 L385.3,657.9 L386.7,657.2 L388.0,656.6 L389.3,655.9 L390.7,655.2 L392.1,654.6 L393.4,653.9 L394.8,653.3 L396.2,652.7 L397.5,652.1 L398.9,651.5 L400.3,651.0 L401.7,650.4 L403.1,649.9 L404.5,649.4 L405.9,648.8 L407.3,648.3 L408.8,647.8 L410.2,647.3 L411.6,646.7 L413.0,646.2 L414.4,645.6 L415.7,645.0 L417.1,644.4 L418.5,643.8 L419.8,643.2 L421.2,642.5 L422.5,641.8 L423.8,641.0 L425.1,640.2 L426.4,639.4 L427.6,638.6 L428.8,637.7 L430.0,636.8 L431.2,635.9 L432.4,634.9 L433.5,634.0 L434.6,632.9 L435.7,631.9 L436.7,630.8 L437.8,629.7 L438.8,628.6 L439.8,627.5 L440.7,626.4 L441.7,625.2 L442.6,624.0 L443.5,622.8 L444.4,621.6 L445.3,620.4 L446.1,619.1 L446.9,617.9 L447.7,616.6 L448.5,615.3 L449.3,614.0 L450.1,612.7 L450.8,611.4 L451.6,610.1 L452.3,608.8 L453.0,607.5 L453.7,606.2 L454.4,604.8 L455.1,603.5 L455.7,602.1 L456.4,600.8 L457.1,599.4 L457.7,598.1 L458.3,596.7 L459.0,595.3 L459.6,594.0 L460.2,592.6 L460.8,591.2 L461.4,589.8 L461.9,588.5 L462.5,587.1 L463.1,585.7 L463.7,584.3 L464.2,582.9 L464.8,581.5 L465.3,580.1 L465.9,578.7 L466.4,577.3 L466.9,575.9 L467.4,574.5 L468.0,573.1 L468.5,571.7 L469.0,570.2 L469.5,568.8 L470.0,567.4 L470.5,566.0 L471.0,564.6 L471.4,563.1 L471.9,561.7 L472.4,560.3 L472.9,558.9 L473.3,557.4 L473.8,556.0 L474.3,554.6 L474.7,553.2 L475.2,551.7 L475.6,550.3 L476.1,548.9 L476.5,547.4 L477.0,546.0 L477.4,544.5 L477.9,543.1 L478.3,541.7 L478.7,540.2 L479.2,538.8 L479.6,537.4 L480.0,535.9 L480.5,534.5 L480.9,533.0 L481.3,531.6 L481.8,530.2 L482.2,528.7 L482.6,527.3 L483.0,525.8 L483.5,524.4 L483.9,523.0 L484.3,521.5 L484.7,520.1 L485.2,518.6 L485.6,517.2 L486.0,515.8 L486.4,514.3 L486.9,512.9 L487.3,511.4 L487.7,510.0 L488.2,508.6 L488.6,507.1 L489.0,505.7 L489.4,504.2 L489.9,502.8 L490.3,501.4 L490.7,499.9 L491.2,498.5 L491.6,497.0 L492.0,495.6 L492.5,494.2 L492.9,492.7 L493.4,491.3 L493.8,489.9 L494.2,488.4 L494.7,487.0 L495.1,485.6 L495.6,484.1 L496.1,482.7 L496.5,481.3 L497.0,479.8 L497.4,478.4 L497.9,477.0 L498.4,475.6 L498.9,474.1 L499.3,472.7 L499.8,471.3 L500.3,469.9 L500.8,468.4 L501.3,467.0 L501.8,465.6 L502.3,464.2 L502.8,462.8 L503.3,461.4 L503.8,459.9 L504.3,458.5 L504.9,457.1 L505.4,455.7 L505.9,454.3 L506.4,452.9 L507.0,451.5 L507.5,450.1 L508.1,448.7 L508.6,447.3 L509.2,445.9 L509.8,444.5 L510.3,443.1 L510.9,441.8 L511.5,440.4 L512.1,439.0 L512.7,437.6 L513.3,436.2 L513.9,434.9 L514.5,433.5 L515.1,432.1 L515.8,430.8 L516.4,429.4 L517.0,428.0 L517.7,426.7 L518.4,425.3 L519.0,424.0 L519.7,422.6 L520.4,421.3 L521.1,420.0 L521.8,418.6 L522.5,417.3 L523.2,416.0 L523.9,414.7 L524.7,413.4 L525.4,412.1 L526.2,410.8 L526.9,409.5 L527.7,408.2 L528.5,406.9 L529.3,405.7 L530.1,404.4 L531.0,403.2 L531.8,401.9 L532.7,400.7 L533.5,399.5 L534.4,398.2 L535.3,397.0 L536.3,395.9 L537.2,394.7 L538.1,393.5 L539.1,392.4 L540.1,391.2 L541.1,390.1 L542.1,389.0 L543.2,388.0 L544.3,386.9 L545.4,385.9 L546.5,384.9 L547.6,383.9 L548.8,382.9 L549.9,382.0 L551.2,381.1 L552.4,380.2 L553.6,379.4 L554.9,378.6 L556.2,377.9 L557.6,377.2 L558.9,376.6 L560.3,376.0 L561.7,375.4 L563.1,374.9 L564.6,374.5 L566.0,374.1 L567.5,373.8 L569.0,373.5 L570.4,373.4 L571.9,373.2 L573.4,373.2 L575.0,373.2 L576.5,373.2 L577.9,373.4 L579.4,373.5 L580.9,373.8 L582.4,374.1 L583.9,374.4 L585.3,374.8 L586.7,375.2 L588.2,375.7 L589.6,376.2 L591.0,376.8 L592.4,377.4 L593.7,378.0 L595.1,378.7 L596.4,379.4 L597.7,380.1 L599.0,380.8 L600.3,381.6 L601.6,382.4 L602.9,383.2 L604.1,384.0 L605.3,384.9 L606.6,385.7 L607.8,386.6 L609.0,387.5 L610.2,388.4 L611.4,389.4 L612.5,390.3 L613.7,391.3 L614.8,392.2 L616.0,393.2 L617.1,394.2 L618.2,395.2 L619.3,396.2 L620.5,397.2 L621.6,398.3 L622.6,399.3 L623.7,400.3 L624.8,401.4 L625.9,402.4 L626.9,403.5 L628.0,404.6 L629.1,405.6 L630.1,406.7 L631.1,407.8 L632.2,408.9 L633.2,410.0 L634.3,411.0 L635.3,412.1 L636.3,413.2 L637.3,414.4 L638.3,415.5 L639.3,416.6 L640.3,417.7 L641.3,418.8 L642.3,419.9 L643.3,421.1 L644.3,422.2 L645.3,423.3 L646.3,424.4 L647.3,425.6 L648.3,426.7 L649.3,427.8 L650.3,429.0 L651.3,430.1 L652.2,431.2 L653.2,432.4 L654.2,433.5 L655.2,434.7 L656.1,435.8 L657.1,436.9 L658.1,438.1 L659.1,439.2 L660.0,440.4 L661.0,441.5 L662.0,442.7 L662.9,443.8 L663.9,445.0 L664.9,446.1 L665.8,447.3 L666.8,448.4 L667.8,449.6 L668.7,450.7 L669.7,451.9 L670.6,453.1 L671.6,454.2 L672.6,455.4 L673.5,456.5 L674.5,457.7 L675.4,458.9 L676.4,460.0 L677.3,461.2 L678.3,462.4 L679.2,463.5 L680.2,464.7 L681.1,465.8 L682.1,467.0 L683.0,468.2 L683.9,469.4 L684.9,470.5 L685.8,471.7 L686.8,472.9 L687.7,474.0 L688.7,475.2 L689.6,476.4 L690.5,477.5 L691.5,478.7 L692.4,479.9 L693.3,481.1 L694.3,482.2 L695.2,483.4 L696.1,484.6 L697.1,485.8 L698.0,487.0 L698.9,488.1 L699.9,489.3 L700.8,490.5 L701.7,491.7 L702.7,492.9 L703.6,494.0 L704.5,495.2 L705.5,496.4 L706.4,497.6 L707.3,498.8 L708.2,499.9 L709.2,501.1 L710.1,502.3 L711.0,503.5 L711.9,504.7 L712.9,505.9 L713.8,507.0 L714.7,508.2 L715.6,509.4 L716.5,510.6 L717.5,511.8 L718.4,513.0 L719.3,514.2 L720.2,515.4 L721.2,516.5 L722.1,517.7 L723.0,518.9 L723.9,520.1 L724.8,521.3 L725.7,522.5 L726.7,523.7 L727.6,524.9 L728.5,526.0 L729.4,527.2 L730.3,528.4 L731.3,529.6 L732.2,530.8 L733.1,532.0 L734.0,533.2 L734.9,534.4 L735.8,535.6 L736.8,536.8 L737.7,538.0 L738.6,539.1 L739.5,540.3 L740.4,541.5 L741.3,542.7 L742.2,543.9 L743.2,545.1 L744.1,546.3 L745.0,547.5 L745.9,548.7 L746.8,549.9 L747.7,551.1 L748.6,552.3 L749.6,553.4 L750.5,554.6 L751.4,555.8 L752.3,557.0 L753.2,558.2 L754.1,559.4 L755.0,560.6 L756.0,561.8 L756.9,563.0 L757.8,564.2 L758.7,565.4 L759.6,566.5 L760.6,567.7 L761.5,568.9 L762.4,570.1 L763.3,571.3 L764.2,572.5 L765.2,573.7 L766.1,574.9 L767.0,576.0 L767.9,577.2 L768.9,578.4 L769.8,579.6 L770.7,580.8 L771.6,582.0 L772.6,583.1 L773.5,584.3 L774.4,585.5 L775.4,586.7 L776.3,587.8 L777.2,589.0 L778.2,590.2 L779.1,591.4 L780.1,592.5 L781.0,593.7 L782.0,594.9 L782.9,596.0 L783.9,597.2 L784.8,598.4 L785.8,599.5 L786.7,600.7 L787.7,601.8 L788.6,603.0 L789.6,604.1 L790.6,605.3 L791.5,606.4 L792.5,607.6 L793.5,608.7 L794.4,609.9 L795.4,611.0 L796.4,612.2 L797.4,613.3 L798.4,614.4 L799.4,615.6 L800.4,616.7 L801.4,617.8 L802.3,618.9 L803.4,620.1 L804.4,621.2 L805.4,622.3 L806.4,623.4 L807.4,624.5 L808.4,625.6 L809.4,626.7 L810.5,627.8 L811.5,628.9 L812.5,630.0 L813.6,631.1 L814.6,632.1 L815.7,633.2 L816.7,634.3 L817.8,635.4 L818.8,636.4 L819.9,637.5 L821.0,638.5 L822.1,639.6 L823.1,640.6 L824.2,641.6 L825.3,642.7 L826.4,643.7 L827.5,644.7 L828.6,645.7 L829.8,646.7 L830.9,647.7 L832.0,648.7 L833.2,649.7 L834.3,650.7 L835.4,651.6 L836.6,652.6 L837.8,653.5 L838.9,654.5 L840.1,655.4 L841.3,656.3 L842.5,657.2 L843.7,658.1 L844.9,659.0 L846.1,659.9 L847.4,660.8 L848.6,661.6 L849.9,662.5 L851.1,663.3 L852.4,664.1 L853.6,664.9 L854.9,665.7 L856.2,666.5 L857.5,667.2 L858.8,668.0 L860.1,668.7 L861.5,669.4 L862.8,670.1 L864.1,670.8 L865.5,671.5 L866.8,672.1 L868.2,672.8 L869.5,673.4 L870.9,674.0 L872.3,674.6 L873.7,675.2 L875.1,675.7 L876.5,676.3 L877.9,676.8 L879.3,677.4 L880.7,677.9 L882.1,678.4 L883.5,678.9 L884.9,679.4 L886.4,679.8 L887.8,680.3 L889.2,680.7 L890.7,681.1 L892.1,681.6 L893.6,682.0 L895.0,682.4 L896.5,682.7 L897.9,683.1 L899.4,683.5 L900.8,683.8 L902.3,684.2 L903.8,684.5 L905.2,684.8 L906.7,685.2 L908.2,685.5 L909.6,685.8 L911.1,686.1 L912.6,686.4 L914.1,686.7 L915.5,687.0 L917.0,687.2 L918.5,687.5 L920.0,687.8 L921.4,688.0 L922.9,688.3 L924.4,688.5 L925.9,688.8 L927.4,689.0 L928.9,689.2 L930.3,689.5 L931.8,689.7 L933.3,689.9 L934.8,690.1 L936.3,690.3 L937.8,690.5 L939.3,690.7 L940.8,690.8 L942.3,691.0 L943.8,691.2 L945.3,691.4 L946.7,691.5 L948.2,691.7 L949.7,691.8 L951.2,691.9 L952.7,692.1 L954.2,692.2 L955.7,692.3 L957.2,692.5 L958.7,692.6 L960.2,692.7 L961.7,692.8 L963.2,692.9 L964.7,693.0 L966.2,693.0 L967.7,693.1 L969.2,693.2 L970.7,693.3 L972.2,693.3 L973.7,693.4 L975.2,693.4 L976.7,693.5 L978.2,693.5 L979.7,693.5 L981.2,693.6 L982.7,693.6 L984.2,693.6 L985.7,693.6 L987.2,693.6 L988.7,693.6 L990.2,693.6 L991.7,693.6 L993.2,693.6 L994.7,693.6 L996.3,693.6 L997.8,693.6 L999.3,693.5 L1000.8,693.5 L1002.3,693.4 L1003.8,693.4 L1005.3,693.3 L1006.8,693.3 L1008.3,693.2 L1009.8,693.2 L1011.3,693.1 L1012.8,693.0 L1014.3,692.9 L1015.8,692.9 L1017.3,692.8 L1018.8,692.7 L1020.3,692.6 L1021.8,692.5 L1023.3,692.4 L1024.8,692.3 L1026.3,692.2 L1027.8,692.0 L1029.3,691.9 L1030.8,691.8 L1032.3,691.7 L1033.7,691.5 L1035.2,691.4 L1036.7,691.3 L1038.2,691.1 L1039.7,691.0 L1041.2,690.8 L1042.7,690.7 L1044.2,690.5 L1045.7,690.4 L1047.2,690.2 L1048.7,690.0 L1050.2,689.9 L1051.7,689.7 L1053.2,689.5 L1054.7,689.3 L1056.2,689.1 L1057.6,689.0 L1059.1,688.8 L1060.6,688.6 L1062.1,688.4 L1063.6,688.2 L1065.1,688.0 L1066.6,687.8 L1068.1,687.6 L1069.6,687.4 L1071.0,687.2 L1072.5,686.9 L1074.0,686.7 L1075.5,686.5 L1077.0,686.3 L1078.5,686.1 L1080.0,685.9 L1081.5,685.6 L1082.9,685.4 L1084.4,685.2 L1085.9,684.9 L1087.4,684.7 L1088.9,684.5 L1090.4,684.2 L1091.8,684.0 L1093.3,683.8 L1094.8,683.5 L1096.3,683.3 L1097.8,683.0 L1099.3,682.8 L1100.7,682.5 L1102.2,682.3 L1103.7,682.0 L1105.2,681.8 L1106.7,681.5 L1108.1,681.3 L1109.6,681.0 L1111.1,680.7 L1112.6,680.5 L1114.1,680.2 L1115.5,680.0 L1117.0,679.7 L1118.5,679.4 L1120.0,679.2 L1121.5,678.9 L1122.9,678.7 L1124.4,678.4 L1125.9,678.1 L1127.4,677.9 L1128.8,677.6 L1130.3,677.3 L1131.8,677.1 L1133.3,676.8 L1134.8,676.5 L1136.2,676.2 L1137.7,676.0 L1139.2,675.7 L1140.7,675.4 L1142.2,675.2 L1143.6,674.9 L1145.1,674.6 L1146.6,674.4 L1148.1,674.1 L1149.5,673.8 L1151.0,673.6 L1152.5,673.3 L1154.0,673.0 L1155.5,672.7 L1156.9,672.5 L1158.4,672.2 L1159.9,671.9 L1161.4,671.7 L1162.8,671.4 L1164.3,671.1 L1165.8,670.9 L1167.3,670.6 L1168.8,670.4 L1170.2,670.1 L1171.7,669.8 L1173.2,669.6 L1174.7,669.3 L1176.2,669.0 L1177.6,668.8 L1179.1,668.5 L1180.6,668.3"/>
<path d="M206.7,727.9 L208.1,727.2 L209.4,726.6 L210.8,726.0 L212.1,725.3 L213.5,724.7 L214.9,724.2 L216.3,723.6 L217.7,723.0 L219.1,722.5 L220.5,722.0 L221.9,721.4 L223.3,720.9 L224.8,720.4 L226.2,720.0 L227.6,719.5 L229.0,719.1 L230.5,718.6 L231.9,718.2 L233.4,717.8 L234.8,717.4 L236.3,717.0 L237.7,716.6 L239.2,716.3 L240.6,715.9 L242.1,715.6 L243.6,715.2 L245.0,714.9 L246.5,714.6 L248.0,714.3 L249.4,714.0 L250.9,713.7 L252.4,713.4 L253.9,713.2 L255.4,712.9 L256.8,712.7 L258.3,712.4 L259.8,712.2 L261.3,712.0 L262.8,711.7 L264.3,711.5 L265.7,711.3 L267.2,711.1 L268.7,710.9 L270.2,710.7 L271.7,710.5 L273.2,710.3 L274.7,710.1 L276.2,710.0 L277.7,709.8 L279.2,709.6 L280.6,709.4 L282.1,709.3 L283.6,709.1 L285.1,708.9 L286.6,708.7 L288.1,708.6 L289.6,708.4 L291.1,708.2 L292.6,708.1 L294.1,707.9 L295.6,707.7 L297.1,707.5 L298.6,707.4 L300.0,707.2 L301.5,707.0 L303.0,706.8 L304.5,706.6 L306.0,706.4 L307.5,706.2 L309.0,706.0 L310.5,705.8 L312.0,705.6 L313.4,705.3 L314.9,705.1 L316.4,704.9 L317.9,704.6 L319.4,704.4 L320.8,704.1 L322.3,703.8 L323.8,703.5 L325.3,703.2 L326.7,702.9 L328.2,702.6 L329.7,702.3 L331.2,702.0 L332.6,701.6 L334.1,701.3 L335.5,700.9 L337.0,700.6 L338.4,700.2 L339.9,699.8 L341.3,699.4 L342.8,698.9 L344.2,698.5 L345.7,698.1 L347.1,697.6 L348.5,697.1 L349.9,696.6 L351.3,696.2 L352.8,695.6 L354.2,695.1 L355.6,694.6 L357.0,694.0 L358.4,693.5 L359.7,692.9 L361.1,692.3 L362.5,691.7 L363.9,691.0 L365.2,690.4 L366.6,689.8 L367.9,689.1 L369.3,688.4 L370.6,687.7 L371.9,687.0 L373.2,686.3 L374.6,685.6 L375.9,684.8 L377.2,684.1 L378.4,683.3 L379.7,682.5 L381.0,681.7 L382.3,680.9 L383.5,680.1 L384.8,679.3 L386.0,678.4 L387.2,677.5 L388.5,676.7 L389.7,675.8 L390.9,674.9 L392.1,674.0 L393.3,673.1 L394.5,672.2 L395.6,671.2 L396.8,670.3 L398.0,669.3 L399.1,668.3 L400.3,667.4 L401.4,666.4 L402.5,665.4 L403.6,664.4 L404.7,663.4 L405.8,662.4 L406.9,661.3 L408.0,660.3 L409.1,659.2 L410.2,658.2 L411.2,657.1 L412.3,656.1 L413.4,655.0 L414.4,653.9 L415.4,652.8 L416.5,651.7 L417.5,650.6 L418.5,649.5 L419.5,648.4 L420.5,647.3 L421.5,646.2 L422.5,645.0 L423.5,643.9 L424.5,642.8 L425.4,641.6 L426.4,640.5 L427.4,639.3 L428.3,638.1 L429.3,637.0 L430.2,635.8 L431.1,634.6 L432.1,633.5 L433.0,632.3 L433.9,631.1 L434.8,629.9 L435.7,628.7 L436.7,627.5 L437.6,626.3 L438.5,625.1 L439.4,623.9 L440.3,622.7 L441.1,621.5 L442.0,620.3 L442.9,619.1 L443.8,617.8 L444.7,616.6 L445.6,615.4 L446.4,614.2 L447.3,613.0 L448.2,611.7 L449.0,610.5 L449.9,609.3 L450.7,608.0 L451.6,606.8 L452.4,605.6 L453.3,604.3 L454.2,603.1 L455.0,601.8 L455.8,600.6 L456.7,599.4 L457.5,598.1 L458.4,596.9 L459.2,595.6 L460.0,594.4 L460.9,593.1 L461.7,591.9 L462.5,590.6 L463.4,589.4 L464.2,588.1 L465.0,586.9 L465.9,585.6 L466.7,584.4 L467.5,583.1 L468.3,581.9 L469.2,580.6 L470.0,579.3 L470.8,578.1 L471.6,576.8 L472.5,575.6 L473.3,574.3 L474.1,573.1 L475.0,571.8 L475.8,570.6 L476.6,569.3 L477.4,568.0 L478.3,566.8 L479.1,565.5 L479.9,564.3 L480.7,563.0 L481.6,561.8 L482.4,560.5 L483.2,559.3 L484.1,558.0 L484.9,556.8 L485.7,555.5 L486.6,554.3 L487.4,553.0 L488.2,551.8 L489.1,550.5 L489.9,549.3 L490.8,548.1 L491.6,546.8 L492.5,545.6 L493.3,544.3 L494.2,543.1 L495.0,541.9 L495.9,540.6 L496.8,539.4 L497.6,538.2 L498.5,536.9 L499.4,535.7 L500.2,534.5 L501.1,533.3 L502.0,532.1 L502.9,530.8 L503.8,529.6 L504.6,528.4 L505.5,527.2 L506.4,526.0 L507.3,524.8 L508.3,523.6 L509.2,522.4 L510.1,521.2 L511.0,520.1 L511.9,518.9 L512.9,517.7 L513.8,516.5 L514.8,515.4 L515.7,514.2 L516.7,513.0 L517.6,511.9 L518.6,510.8 L519.6,509.6 L520.6,508.5 L521.6,507.4 L522.6,506.2 L523.6,505.1 L524.6,504.0 L525.6,502.9 L526.7,501.8 L527.7,500.8 L528.8,499.7 L529.9,498.7 L531.0,497.6 L532.0,496.6 L533.1,495.6 L534.3,494.6 L535.4,493.6 L536.5,492.6 L537.7,491.6 L538.8,490.7 L540.0,489.7 L541.2,488.8 L542.4,487.9 L543.6,487.0 L544.8,486.1 L546.1,485.3 L547.3,484.4 L548.6,483.6 L549.8,482.8 L551.1,482.0 L552.4,481.3 L553.7,480.5 L555.0,479.8 L556.4,479.1 L557.7,478.5 L559.1,477.8 L560.5,477.2 L561.8,476.6 L563.2,476.1 L564.6,475.5 L566.0,475.0 L567.5,474.5 L568.9,474.1 L570.3,473.7 L571.8,473.3 L573.3,472.9 L574.7,472.6 L576.2,472.3 L577.7,472.0 L579.2,471.8 L580.6,471.6 L582.1,471.4 L583.6,471.3 L585.1,471.2 L586.6,471.1 L588.1,471.1 L589.6,471.1 L591.1,471.1 L592.6,471.2 L594.1,471.3 L595.6,471.4 L597.1,471.6 L598.6,471.8 L600.1,472.0 L601.6,472.2 L603.1,472.5 L604.5,472.8 L606.0,473.1 L607.5,473.5 L608.9,473.9 L610.4,474.3 L611.8,474.7 L613.2,475.2 L614.6,475.7 L616.1,476.2 L617.5,476.7 L618.9,477.3 L620.3,477.8 L621.6,478.4 L623.0,479.0 L624.4,479.7 L625.7,480.3 L627.1,480.9 L628.4,481.6 L629.8,482.3 L631.1,483.0 L632.4,483.7 L633.8,484.4 L635.1,485.2 L636.4,485.9 L637.7,486.6 L639.0,487.4 L640.3,488.2 L641.5,489.0 L642.8,489.7 L644.1,490.5 L645.4,491.3 L646.6,492.2 L647.9,493.0 L649.1,493.8 L650.4,494.6 L651.7,495.4 L652.9,496.3 L654.1,497.1 L655.4,498.0 L656.6,498.8 L657.9,499.7 L659.1,500.5 L660.3,501.4 L661.6,502.3 L662.8,503.1 L664.0,504.0 L665.2,504.9 L666.5,505.7 L667.7,506.6 L668.9,507.5 L670.1,508.4 L671.3,509.2 L672.6,510.1 L673.8,511.0 L675.0,511.9 L676.2,512.8 L677.4,513.7 L678.6,514.6 L679.8,515.5 L681.0,516.4 L682.2,517.3 L683.4,518.2 L684.6,519.1 L685.8,520.0 L687.0,520.9 L688.2,521.8 L689.4,522.7 L690.6,523.6 L691.8,524.6 L693.0,525.5 L694.1,526.4 L695.3,527.3 L696.5,528.3 L697.7,529.2 L698.9,530.1 L700.1,531.0 L701.2,532.0 L702.4,532.9 L703.6,533.8 L704.8,534.8 L705.9,535.7 L707.1,536.6 L708.3,537.6 L709.5,538.5 L710.6,539.5 L711.8,540.4 L713.0,541.4 L714.1,542.3 L715.3,543.3 L716.4,544.2 L717.6,545.2 L718.8,546.1 L719.9,547.1 L721.1,548.0 L722.2,549.0 L723.4,550.0 L724.6,550.9 L725.7,551.9 L726.9,552.8 L728.0,553.8 L729.2,554.8 L730.3,555.7 L731.5,556.7 L732.6,557.7 L733.8,558.6 L734.9,559.6 L736.0,560.6 L737.2,561.6 L738.3,562.5 L739.5,563.5 L740.6,564.5 L741.7,565.5 L742.9,566.5 L744.0,567.4 L745.2,568.4 L746.3,569.4 L747.4,570.4 L748.6,571.4 L749.7,572.4 L750.8,573.4 L751.9,574.4 L753.1,575.4 L754.2,576.4 L755.3,577.4 L756.4,578.3 L757.6,579.3 L758.7,580.3 L759.8,581.4 L760.9,582.4 L762.0,583.4 L763.1,584.4 L764.3,585.4 L765.4,586.4 L766.5,587.4 L767.6,588.4 L768.7,589.4 L769.8,590.4 L770.9,591.5 L772.0,592.5 L773.1,593.5 L774.2,594.5 L775.3,595.5 L776.4,596.6 L777.5,597.6 L778.6,598.6 L779.7,599.6 L780.8,600.7 L781.9,601.7 L783.0,602.7 L784.1,603.8 L785.2,604.8 L786.3,605.8 L787.4,606.9 L788.4,607.9 L789.5,608.9 L790.6,610.0 L791.7,611.0 L792.8,612.1 L793.8,613.1 L794.9,614.2 L796.0,615.2 L797.1,616.3 L798.2,617.3 L799.2,618.4 L800.3,619.4 L801.4,620.5 L802.5,621.5 L803.5,622.5 L804.6,623.6 L805.7,624.6 L806.8,625.7 L807.9,626.7 L808.9,627.8 L810.0,628.8 L811.1,629.9 L812.2,630.9 L813.3,631.9 L814.4,633.0 L815.5,634.0 L816.5,635.0 L817.6,636.1 L818.7,637.1 L819.8,638.1 L820.9,639.1 L822.1,640.1 L823.2,641.2 L824.3,642.2 L825.4,643.2 L826.5,644.2 L827.6,645.2 L828.8,646.2 L829.9,647.1 L831.0,648.1 L832.2,649.1 L833.3,650.1 L834.5,651.0 L835.6,652.0 L836.8,652.9 L838.0,653.9 L839.1,654.8 L840.3,655.7 L841.5,656.7 L842.7,657.6 L843.9,658.5 L845.1,659.4 L846.3,660.2 L847.6,661.1 L848.8,662.0 L850.0,662.8 L851.3,663.7 L852.5,664.5 L853.8,665.3 L855.1,666.1 L856.4,666.9 L857.7,667.6 L859.0,668.4 L860.3,669.1 L861.6,669.9 L862.9,670.6 L864.2,671.3 L865.6,672.0 L866.9,672.7 L868.2,673.3 L869.6,674.0 L871.0,674.6 L872.3,675.2 L873.7,675.8 L875.1,676.4 L876.5,677.0 L877.8,677.6 L879.2,678.2 L880.6,678.7 L882.0,679.2 L883.5,679.8 L884.9,680.3 L886.3,680.8 L887.7,681.2 L889.1,681.7 L890.6,682.2 L892.0,682.6 L893.4,683.1 L894.9,683.5 L896.3,683.9 L897.8,684.3 L899.2,684.7 L900.7,685.1 L902.1,685.5 L903.6,685.9 L905.0,686.2 L906.5,686.6 L907.9,686.9 L909.4,687.3 L910.9,687.6 L912.3,687.9 L913.8,688.3 L915.3,688.6 L916.7,688.9 L918.2,689.2 L919.7,689.5 L921.2,689.8 L922.6,690.0 L924.1,690.3 L925.6,690.6 L927.1,690.8 L928.6,691.1 L930.0,691.4 L931.5,691.6 L933.0,691.8 L934.5,692.1 L936.0,692.3 L937.5,692.5 L938.9,692.7 L940.4,692.9 L941.9,693.2 L943.4,693.4 L944.9,693.5 L946.4,693.7 L947.9,693.9 L949.4,694.1 L950.9,694.3 L952.4,694.4 L953.9,694.6 L955.3,694.8 L956.8,694.9 L958.3,695.1 L959.8,695.2 L961.3,695.3 L962.8,695.5 L964.3,695.6 L965.8,695.7 L967.3,695.9 L968.8,696.0 L970.3,696.1 L971.8,696.2 L973.3,696.3 L974.8,696.4 L976.3,696.5 L977.8,696.6 L979.3,696.7 L980.8,696.8 L982.3,696.9 L983.8,696.9 L985.3,697.0 L986.8,697.1 L988.3,697.2 L989.8,697.2 L991.3,697.3 L992.8,697.3 L994.3,697.4 L995.8,697.5 L997.3,697.5 L998.8,697.6 L1000.3,697.6 L1001.8,697.6 L1003.3,697.7 L1004.8,697.7 L1006.3,697.8 L1007.8,697.8 L1009.3,697.8 L1010.8,697.9 L1012.3,697.9 L1013.8,697.9 L1015.3,698.0 L1016.8,698.0 L1018.3,698.0 L1019.8,698.0 L1021.3,698.0 L1022.8,698.0 L1024.3,698.1 L1025.8,698.1 L1027.4,698.1 L1028.9,698.1 L1030.4,698.1 L1031.9,698.1 L1033.4,698.1 L1034.9,698.1 L1036.4,698.1 L1037.9,698.1 L1039.4,698.1 L1040.9,698.1 L1042.4,698.1 L1043.9,698.1 L1045.4,698.1 L1046.9,698.0 L1048.4,698.0 L1049.9,698.0 L1051.4,698.0 L1052.9,698.0 L1054.4,697.9 L1055.9,697.9 L1057.4,697.9 L1058.9,697.8 L1060.4,697.8 L1061.9,697.8 L1063.4,697.7 L1064.9,697.7 L1066.4,697.6 L1067.9,697.6 L1069.4,697.6 L1070.9,697.5 L1072.4,697.5 L1073.9,697.4 L1075.4,697.3 L1076.9,697.3 L1078.4,697.2 L1079.9,697.2 L1081.4,697.1 L1082.9,697.0 L1084.4,697.0 L1085.9,696.9 L1087.4,696.8 L1088.9,696.8 L1090.4,696.7 L1091.9,696.6 L1093.4,696.5 L1094.9,696.4 L1096.4,696.4 L1097.9,696.3 L1099.4,696.2 L1100.9,696.1 L1102.4,696.0 L1103.9,695.9 L1105.4,695.8 L1106.9,695.7 L1108.4,695.6 L1109.9,695.5 L1111.4,695.4 L1112.9,695.3 L1114.4,695.2 L1115.9,695.1 L1117.4,695.0 L1118.9,694.9 L1120.4,694.7 L1121.9,694.6 L1123.4,694.5 L1124.9,694.4 L1126.4,694.2 L1127.9,694.1 L1129.4,694.0 L1130.9,693.8 L1132.4,693.7 L1133.9,693.6 L1135.4,693.4 L1136.9,693.3 L1138.4,693.1 L1139.9,693.0 L1141.4,692.9 L1142.8,692.7 L1144.3,692.6 L1145.8,692.4 L1147.3,692.2 L1148.8,692.1 L1150.3,691.9 L1151.8,691.8 L1153.3,691.6 L1154.8,691.4 L1156.3,691.2 L1157.8,691.1 L1159.3,690.9 L1160.8,690.7 L1162.3,690.5 L1163.7,690.4 L1165.2,690.2 L1166.7,690.0 L1168.2,689.8 L1169.7,689.6 L1171.2,689.4 L1172.7,689.2 L1174.2,689.0 L1175.7,688.8 L1177.2,688.6 L1178.6,688.4 L1180.1,688.2 L1181.6,688.0 L1183.1,687.8 L1184.6,687.6 L1186.1,687.4 L1187.6,687.2 L1189.1,686.9 L1190.5,686.7 L1192.0,686.5 L1193.5,686.3 L1195.0,686.0"/>
<path d="M210.0,718.2 L211.5,717.8 L212.9,717.4 L214.4,717.1 L215.8,716.7 L217.3,716.3 L218.7,716.0 L220.2,715.6 L221.7,715.2 L223.1,714.9 L224.6,714.5 L226.0,714.1 L227.5,713.8 L229.0,713.4 L230.4,713.0 L231.9,712.7 L233.3,712.3 L234.8,712.0 L236.3,711.6 L237.7,711.3 L239.2,710.9 L240.6,710.6 L242.1,710.2 L243.6,709.9 L245.0,709.5 L246.5,709.1 L248.0,708.8 L249.4,708.4 L250.9,708.1 L252.3,707.8 L253.8,707.4 L255.3,707.1 L256.7,706.7 L258.2,706.4 L259.7,706.0 L261.1,705.7 L262.6,705.3 L264.1,705.0 L265.5,704.6 L267.0,704.3 L268.4,703.9 L269.9,703.6 L271.4,703.3 L272.8,702.9 L274.3,702.6 L275.8,702.2 L277.2,701.9 L278.7,701.5 L280.2,701.2 L281.6,700.8 L283.1,700.5 L284.6,700.2 L286.0,699.8 L287.5,699.5 L288.9,699.1 L290.4,698.8 L291.9,698.4 L293.3,698.1 L294.8,697.7 L296.3,697.4 L297.7,697.1 L299.2,696.7 L300.7,696.4 L302.1,696.0 L303.6,695.7 L305.0,695.3 L306.5,695.0 L308.0,694.6 L309.4,694.3 L310.9,693.9 L312.4,693.6 L313.8,693.2 L315.3,692.9 L316.7,692.5 L318.2,692.2 L319.7,691.8 L321.1,691.4 L322.6,691.1 L324.0,690.7 L325.5,690.4 L327.0,690.0 L328.4,689.6 L329.9,689.3 L331.3,688.9 L332.8,688.6 L334.3,688.2 L335.7,687.8 L337.2,687.5 L338.6,687.1 L340.1,686.7 L341.6,686.4 L343.0,686.0 L344.5,685.6 L345.9,685.2 L347.4,684.9 L348.8,684.5 L350.3,684.1 L351.7,683.7 L353.2,683.3 L354.6,682.9 L356.1,682.5 L357.5,682.0 L359.0,681.6 L360.4,681.2 L361.8,680.7 L363.3,680.3 L364.7,679.8 L366.1,679.4 L367.6,678.9 L369.0,678.4 L370.4,677.9 L371.8,677.4 L373.2,676.9 L374.6,676.3 L376.0,675.8 L377.4,675.2 L378.8,674.6 L380.2,674.1 L381.6,673.5 L383.0,672.8 L384.3,672.2 L385.7,671.6 L387.0,670.9 L388.4,670.3 L389.7,669.6 L391.1,668.9 L392.4,668.2 L393.7,667.5 L395.1,666.8 L396.4,666.1 L397.7,665.3 L399.0,664.6 L400.3,663.8 L401.6,663.1 L402.9,662.3 L404.2,661.6 L405.5,660.8 L406.8,660.0 L408.0,659.2 L409.3,658.4 L410.6,657.6 L411.9,656.8 L413.1,656.0 L414.4,655.2 L415.7,654.4 L416.9,653.5 L418.2,652.7 L419.4,651.9 L420.7,651.0 L421.9,650.2 L423.2,649.4 L424.4,648.5 L425.7,647.7 L426.9,646.8 L428.1,646.0 L429.4,645.1 L430.6,644.3 L431.9,643.4 L433.1,642.6 L434.3,641.7 L435.6,640.8 L436.8,640.0 L438.0,639.1 L439.3,638.3 L440.5,637.4 L441.7,636.5 L443.0,635.7 L444.2,634.8 L445.4,634.0 L446.7,633.1 L447.9,632.2 L449.1,631.4 L450.4,630.5 L451.6,629.6 L452.8,628.8 L454.1,627.9 L455.3,627.1 L456.5,626.2 L457.8,625.3 L459.0,624.5 L460.2,623.6 L461.5,622.8 L462.7,621.9 L463.9,621.0 L465.2,620.2 L466.4,619.3 L467.6,618.5 L468.9,617.6 L470.1,616.8 L471.3,615.9 L472.6,615.1 L473.8,614.2 L475.1,613.4 L476.3,612.5 L477.6,611.7 L478.8,610.8 L480.0,610.0 L481.3,609.1 L482.5,608.3 L483.8,607.5 L485.0,606.6 L486.3,605.8 L487.6,605.0 L488.8,604.2 L490.1,603.3 L491.3,602.5 L492.6,601.7 L493.9,600.9 L495.1,600.1 L496.4,599.2 L497.7,598.4 L498.9,597.6 L500.2,596.8 L501.5,596.0 L502.8,595.2 L504.0,594.5 L505.3,593.7 L506.6,592.9 L507.9,592.1 L509.2,591.3 L510.5,590.6 L511.8,589.8 L513.1,589.0 L514.4,588.3 L515.7,587.5 L517.0,586.8 L518.3,586.0 L519.6,585.3 L520.9,584.6 L522.2,583.8 L523.5,583.1 L524.9,582.4 L526.2,581.7 L527.5,581.0 L528.8,580.3 L530.2,579.6 L531.5,578.9 L532.9,578.2 L534.2,577.6 L535.6,576.9 L536.9,576.2 L538.3,575.6 L539.6,575.0 L541.0,574.3 L542.4,573.7 L543.7,573.1 L545.1,572.5 L546.5,571.9 L547.9,571.3 L549.2,570.7 L550.6,570.1 L552.0,569.6 L553.4,569.0 L554.8,568.5 L556.2,567.9 L557.6,567.4 L559.1,566.9 L560.5,566.4 L561.9,565.9 L563.3,565.4 L564.8,565.0 L566.2,564.5 L567.6,564.1 L569.1,563.6 L570.5,563.2 L572.0,562.8 L573.4,562.4 L574.9,562.1 L576.3,561.7 L577.8,561.4 L579.3,561.0 L580.7,560.7 L582.2,560.4 L583.7,560.2 L585.2,559.9 L586.7,559.6 L588.1,559.4 L589.6,559.2 L591.1,559.0 L592.6,558.8 L594.1,558.7 L595.6,558.5 L597.1,558.4 L598.6,558.3 L600.1,558.2 L601.6,558.1 L603.1,558.1 L604.6,558.1 L606.1,558.1 L607.6,558.1 L609.1,558.1 L610.6,558.2 L612.1,558.2 L613.6,558.3 L615.1,558.4 L616.6,558.6 L618.1,558.7 L619.6,558.9 L621.1,559.0 L622.6,559.2 L624.1,559.5 L625.6,559.7 L627.1,559.9 L628.6,560.2 L630.0,560.5 L631.5,560.8 L633.0,561.1 L634.4,561.4 L635.9,561.7 L637.4,562.1 L638.8,562.4 L640.3,562.8 L641.7,563.2 L643.2,563.6 L644.6,564.0 L646.1,564.4 L647.5,564.9 L649.0,565.3 L650.4,565.8 L651.8,566.2 L653.3,566.7 L654.7,567.2 L656.1,567.7 L657.5,568.2 L658.9,568.7 L660.3,569.2 L661.7,569.7 L663.2,570.3 L664.6,570.8 L666.0,571.4 L667.3,571.9 L668.7,572.5 L670.1,573.1 L671.5,573.7 L672.9,574.3 L674.3,574.9 L675.7,575.5 L677.0,576.1 L678.4,576.7 L679.8,577.3 L681.2,577.9 L682.5,578.5 L683.9,579.2 L685.2,579.8 L686.6,580.4 L688.0,581.1 L689.3,581.7 L690.7,582.4 L692.0,583.1 L693.4,583.7 L694.7,584.4 L696.1,585.1 L697.4,585.7 L698.8,586.4 L700.1,587.1 L701.4,587.8 L702.8,588.4 L704.1,589.1 L705.5,589.8 L706.8,590.5 L708.1,591.2 L709.5,591.9 L710.8,592.6 L712.1,593.3 L713.5,594.0 L714.8,594.7 L716.1,595.4 L717.5,596.1 L718.8,596.8 L720.1,597.5 L721.4,598.2 L722.8,598.9 L724.1,599.6 L725.4,600.3 L726.8,601.0 L728.1,601.7 L729.4,602.4 L730.7,603.1 L732.1,603.8 L733.4,604.5 L734.7,605.2 L736.1,605.9 L737.4,606.7 L738.7,607.4 L740.0,608.1 L741.4,608.8 L742.7,609.5 L744.0,610.2 L745.3,610.9 L746.7,611.6 L748.0,612.3 L749.3,613.0 L750.6,613.8 L752.0,614.5 L753.3,615.2 L754.6,615.9 L755.9,616.6 L757.3,617.3 L758.6,618.0 L759.9,618.7 L761.2,619.5 L762.6,620.2 L763.9,620.9 L765.2,621.6 L766.5,622.3 L767.8,623.0 L769.2,623.7 L770.5,624.5 L771.8,625.2 L773.1,625.9 L774.5,626.6 L775.8,627.3 L777.1,628.0 L778.4,628.8 L779.8,629.5 L781.1,630.2 L782.4,630.9 L783.7,631.6 L785.0,632.3 L786.4,633.0 L787.7,633.8 L789.0,634.5 L790.3,635.2 L791.7,635.9 L793.0,636.6 L794.3,637.3 L795.6,638.0 L797.0,638.8 L798.3,639.5 L799.6,640.2 L800.9,640.9 L802.3,641.6 L803.6,642.3 L804.9,643.0 L806.2,643.8 L807.5,644.5 L808.9,645.2 L810.2,645.9 L811.5,646.6 L812.8,647.3 L814.2,648.0 L815.5,648.7 L816.8,649.5 L818.1,650.2 L819.5,650.9 L820.8,651.6 L822.1,652.3 L823.4,653.0 L824.8,653.7 L826.1,654.4 L827.4,655.1 L828.8,655.8 L830.1,656.5 L831.4,657.2 L832.7,657.9 L834.1,658.6 L835.4,659.3 L836.7,660.0 L838.1,660.7 L839.4,661.4 L840.7,662.1 L842.1,662.8 L843.4,663.5 L844.8,664.2 L846.1,664.8 L847.5,665.5 L848.8,666.2 L850.2,666.8 L851.5,667.5 L852.9,668.1 L854.2,668.8 L855.6,669.4 L857.0,670.1 L858.3,670.7 L859.7,671.3 L861.1,671.9 L862.4,672.5 L863.8,673.1 L865.2,673.7 L866.6,674.3 L868.0,674.9 L869.4,675.5 L870.8,676.0 L872.2,676.6 L873.6,677.1 L875.0,677.6 L876.4,678.2 L877.8,678.7 L879.2,679.2 L880.6,679.7 L882.1,680.1 L883.5,680.6 L884.9,681.1 L886.4,681.5 L887.8,682.0 L889.2,682.4 L890.7,682.8 L892.1,683.2 L893.6,683.6 L895.0,684.0 L896.5,684.4 L897.9,684.7 L899.4,685.1 L900.9,685.4 L902.3,685.8 L903.8,686.1 L905.3,686.5 L906.7,686.8 L908.2,687.1 L909.7,687.4 L911.1,687.7 L912.6,688.0 L914.1,688.3 L915.6,688.6 L917.0,688.9 L918.5,689.2 L920.0,689.4 L921.5,689.7 L923.0,689.9 L924.4,690.2 L925.9,690.4 L927.4,690.7 L928.9,690.9 L930.4,691.2 L931.9,691.4 L933.4,691.6 L934.9,691.8 L936.3,692.0 L937.8,692.2 L939.3,692.4 L940.8,692.6 L942.3,692.8 L943.8,693.0 L945.3,693.2 L946.8,693.4 L948.3,693.5 L949.8,693.7 L951.3,693.9 L952.8,694.0 L954.3,694.2 L955.8,694.3 L957.3,694.5 L958.7,694.6 L960.2,694.8 L961.7,694.9 L963.2,695.0 L964.7,695.1 L966.2,695.3 L967.7,695.4 L969.2,695.5 L970.7,695.6 L972.2,695.7 L973.7,695.8 L975.2,695.9 L976.7,696.0 L978.2,696.1 L979.7,696.2 L981.2,696.2 L982.7,696.3 L984.3,696.4 L985.8,696.5 L987.3,696.5 L988.8,696.6 L990.3,696.7 L991.8,696.7 L993.3,696.8 L994.8,696.8 L996.3,696.9 L997.8,696.9 L999.3,697.0 L1000.8,697.0 L1002.3,697.1 L1003.8,697.1 L1005.3,697.1 L1006.8,697.2 L1008.3,697.2 L1009.8,697.2 L1011.3,697.3 L1012.8,697.3 L1014.3,697.3 L1015.8,697.3 L1017.3,697.3 L1018.8,697.4 L1020.3,697.4 L1021.8,697.4 L1023.3,697.4 L1024.8,697.4 L1026.3,697.4 L1027.8,697.4 L1029.4,697.4 L1030.9,697.4 L1032.4,697.4 L1033.9,697.4 L1035.4,697.4 L1036.9,697.4 L1038.4,697.4 L1039.9,697.4 L1041.4,697.4 L1042.9,697.4 L1044.4,697.4 L1045.9,697.4 L1047.4,697.4 L1048.9,697.4 L1050.4,697.4 L1051.9,697.4 L1053.4,697.4 L1054.9,697.4 L1056.4,697.4 L1057.9,697.4 L1059.4,697.4 L1060.9,697.3 L1062.4,697.3 L1063.9,697.3 L1065.4,697.3 L1066.9,697.3 L1068.5,697.3 L1070.0,697.3 L1071.5,697.3 L1073.0,697.3 L1074.5,697.3 L1076.0,697.3 L1077.5,697.3 L1079.0,697.3 L1080.5,697.3 L1082.0,697.3 L1083.5,697.3 L1085.0,697.3 L1086.5,697.3 L1088.0,697.3 L1089.5,697.3 L1091.0,697.3 L1092.5,697.3 L1094.0,697.3 L1095.5,697.3 L1097.0,697.3 L1098.5,697.3 L1100.0,697.3 L1101.5,697.3 L1103.0,697.4 L1104.5,697.4 L1106.0,697.4 L1107.6,697.4 L1109.1,697.4 L1110.6,697.5 L1112.1,697.5 L1113.6,697.5 L1115.1,697.6 L1116.6,697.6 L1118.1,697.6 L1119.6,697.7 L1121.1,697.7 L1122.6,697.8 L1124.1,697.8 L1125.6,697.9 L1127.1,697.9 L1128.6,698.0 L1130.1,698.0 L1131.6,698.1 L1133.1,698.2 L1134.6,698.2 L1136.1,698.3 L1137.6,698.4 L1139.1,698.5 L1140.6,698.5 L1142.1,698.6 L1143.6,698.7 L1145.1,698.8 L1146.6,698.9 L1148.1,699.0 L1149.6,699.1 L1151.1,699.2 L1152.6,699.3 L1154.1,699.4 L1155.6,699.6 L1157.1,699.7 L1158.6,699.8 L1160.1,699.9 L1161.6,700.1 L1163.1,700.2 L1164.6,700.4 L1166.1,700.5 L1167.6,700.7 L1169.1,700.8 L1170.6,701.0 L1172.1,701.1 L1173.6,701.3 L1175.1,701.5 L1176.6,701.7 L1178.1,701.9 L1179.6,702.0 L1181.0,702.2 L1182.5,702.4 L1184.0,702.6 L1185.5,702.9 L1187.0,703.1"/>
<path d="M210.0,720.2 L211.5,719.9 L212.9,719.5 L214.4,719.2 L215.8,718.8 L217.3,718.5 L218.8,718.1 L220.2,717.7 L221.7,717.4 L223.2,717.0 L224.6,716.7 L226.1,716.3 L227.5,715.9 L229.0,715.6 L230.5,715.2 L231.9,714.9 L233.4,714.5 L234.8,714.1 L236.3,713.8 L237.7,713.4 L239.2,713.0 L240.7,712.6 L242.1,712.3 L243.6,711.9 L245.0,711.5 L246.5,711.2 L248.0,710.8 L249.4,710.4 L250.9,710.0 L252.3,709.7 L253.8,709.3 L255.2,708.9 L256.7,708.5 L258.1,708.2 L259.6,707.8 L261.1,707.4 L262.5,707.0 L264.0,706.7 L265.4,706.3 L266.9,705.9 L268.3,705.5 L269.8,705.1 L271.2,704.8 L272.7,704.4 L274.2,704.0 L275.6,703.6 L277.1,703.2 L278.5,702.8 L280.0,702.5 L281.4,702.1 L282.9,701.7 L284.3,701.3 L285.8,700.9 L287.2,700.5 L288.7,700.2 L290.2,699.8 L291.6,699.4 L293.1,699.0 L294.5,698.6 L296.0,698.2 L297.4,697.9 L298.9,697.5 L300.3,697.1 L301.8,696.7 L303.2,696.3 L304.7,695.9 L306.2,695.5 L307.6,695.2 L309.1,694.8 L310.5,694.4 L312.0,694.0 L313.4,693.6 L314.9,693.2 L316.3,692.9 L317.8,692.5 L319.2,692.1 L320.7,691.7 L322.2,691.3 L323.6,690.9 L325.1,690.6 L326.5,690.2 L328.0,689.8 L329.4,689.4 L330.9,689.0 L332.3,688.6 L333.8,688.3 L335.2,687.9 L336.7,687.5 L338.2,687.1 L339.6,686.7 L341.1,686.4 L342.5,686.0 L344.0,685.6 L345.4,685.2 L346.9,684.9 L348.3,684.5 L349.8,684.1 L351.3,683.7 L352.7,683.4 L354.2,683.0 L355.6,682.6 L357.1,682.2 L358.5,681.9 L360.0,681.5 L361.5,681.1 L362.9,680.7 L364.4,680.4 L365.8,680.0 L367.3,679.6 L368.8,679.3 L370.2,678.9 L371.7,678.5 L373.1,678.2 L374.6,677.8 L376.0,677.5 L377.5,677.1 L379.0,676.7 L380.4,676.4 L381.9,676.0 L383.4,675.6 L384.8,675.3 L386.3,674.9 L387.7,674.6 L389.2,674.2 L390.7,673.9 L392.1,673.5 L393.6,673.2 L395.0,672.8 L396.5,672.5 L398.0,672.1 L399.4,671.8 L400.9,671.4 L402.4,671.1 L403.8,670.7 L405.3,670.4 L406.8,670.1 L408.2,669.7 L409.7,669.4 L411.2,669.0 L412.6,668.7 L414.1,668.4 L415.6,668.0 L417.0,667.7 L418.5,667.4 L420.0,667.0 L421.4,666.7 L422.9,666.4 L424.4,666.1 L425.8,665.7 L427.3,665.4 L428.8,665.1 L430.2,664.8 L431.7,664.5 L433.2,664.1 L434.7,663.8 L436.1,663.5 L437.6,663.2 L439.1,662.9 L440.5,662.6 L442.0,662.3 L443.5,662.0 L445.0,661.7 L446.4,661.4 L447.9,661.1 L449.4,660.8 L450.9,660.5 L452.3,660.2 L453.8,659.9 L455.3,659.6 L456.8,659.3 L458.2,659.0 L459.7,658.8 L461.2,658.5 L462.7,658.2 L464.1,657.9 L465.6,657.6 L467.1,657.4 L468.6,657.1 L470.1,656.8 L471.5,656.6 L473.0,656.3 L474.5,656.0 L476.0,655.8 L477.5,655.5 L478.9,655.2 L480.4,655.0 L481.9,654.7 L483.4,654.5 L484.9,654.2 L486.4,654.0 L487.8,653.7 L489.3,653.5 L490.8,653.3 L492.3,653.0 L493.8,652.8 L495.3,652.6 L496.8,652.3 L498.3,652.1 L499.7,651.9 L501.2,651.7 L502.7,651.4 L504.2,651.2 L505.7,651.0 L507.2,650.8 L508.7,650.6 L510.2,650.4 L511.6,650.2 L513.1,650.0 L514.6,649.8 L516.1,649.6 L517.6,649.4 L519.1,649.2 L520.6,649.0 L522.1,648.8 L523.6,648.6 L525.1,648.5 L526.6,648.3 L528.1,648.1 L529.6,647.9 L531.1,647.8 L532.6,647.6 L534.0,647.4 L535.5,647.3 L537.0,647.1 L538.5,647.0 L540.0,646.8 L541.5,646.7 L543.0,646.5 L544.5,646.4 L546.0,646.3 L547.5,646.1 L549.0,646.0 L550.5,645.9 L552.0,645.8 L553.5,645.6 L555.0,645.5 L556.5,645.4 L558.0,645.3 L559.5,645.2 L561.0,645.1 L562.5,645.0 L564.0,644.9 L565.5,644.8 L567.0,644.7 L568.5,644.6 L570.0,644.5 L571.5,644.4 L573.0,644.4 L574.5,644.3 L576.0,644.2 L577.5,644.2 L579.0,644.1 L580.5,644.0 L582.0,644.0 L583.5,643.9 L585.1,643.9 L586.6,643.8 L588.1,643.8 L589.6,643.8 L591.1,643.7 L592.6,643.7 L594.1,643.7 L595.6,643.7 L597.1,643.6 L598.6,643.6 L600.1,643.6 L601.6,643.6 L603.1,643.6 L604.6,643.6 L606.1,643.6 L607.6,643.6 L609.1,643.7 L610.6,643.7 L612.1,643.7 L613.6,643.7 L615.1,643.8 L616.6,643.8 L618.1,643.8 L619.6,643.9 L621.1,643.9 L622.6,644.0 L624.2,644.0 L625.7,644.1 L627.2,644.1 L628.7,644.2 L630.2,644.3 L631.7,644.4 L633.2,644.4 L634.7,644.5 L636.2,644.6 L637.7,644.7 L639.2,644.8 L640.7,644.9 L642.2,645.0 L643.7,645.1 L645.2,645.2 L646.7,645.3 L648.2,645.4 L649.7,645.5 L651.2,645.6 L652.7,645.7 L654.2,645.9 L655.7,646.0 L657.2,646.1 L658.7,646.3 L660.2,646.4 L661.7,646.5 L663.2,646.7 L664.7,646.8 L666.2,647.0 L667.7,647.1 L669.2,647.3 L670.6,647.4 L672.1,647.6 L673.6,647.8 L675.1,647.9 L676.6,648.1 L678.1,648.3 L679.6,648.4 L681.1,648.6 L682.6,648.8 L684.1,649.0 L685.6,649.2 L687.1,649.3 L688.6,649.5 L690.1,649.7 L691.6,649.9 L693.1,650.1 L694.5,650.3 L696.0,650.5 L697.5,650.7 L699.0,650.9 L700.5,651.1 L702.0,651.3 L703.5,651.5 L705.0,651.7 L706.5,651.9 L708.0,652.2 L709.4,652.4 L710.9,652.6 L712.4,652.8 L713.9,653.0 L715.4,653.3 L716.9,653.5 L718.4,653.7 L719.9,653.9 L721.3,654.2 L722.8,654.4 L724.3,654.6 L725.8,654.9 L727.3,655.1 L728.8,655.4 L730.3,655.6 L731.7,655.8 L733.2,656.1 L734.7,656.3 L736.2,656.6 L737.7,656.8 L739.2,657.1 L740.6,657.3 L742.1,657.6 L743.6,657.8 L745.1,658.1 L746.6,658.3 L748.1,658.6 L749.5,658.8 L751.0,659.1 L752.5,659.4 L754.0,659.6 L755.5,659.9 L756.9,660.1 L758.4,660.4 L759.9,660.7 L761.4,660.9 L762.9,661.2 L764.3,661.5 L765.8,661.7 L767.3,662.0 L768.8,662.3 L770.3,662.5 L771.7,662.8 L773.2,663.1 L774.7,663.3 L776.2,663.6 L777.7,663.9 L779.1,664.1 L780.6,664.4 L782.1,664.7 L783.6,665.0 L785.1,665.2 L786.5,665.5 L788.0,665.8 L789.5,666.0 L791.0,666.3 L792.5,666.6 L793.9,666.9 L795.4,667.1 L796.9,667.4 L798.4,667.7 L799.9,668.0 L801.3,668.2 L802.8,668.5 L804.3,668.8 L805.8,669.0 L807.3,669.3 L808.7,669.6 L810.2,669.9 L811.7,670.1 L813.2,670.4 L814.6,670.7 L816.1,671.0 L817.6,671.2 L819.1,671.5 L820.6,671.8 L822.0,672.0 L823.5,672.3 L825.0,672.6 L826.5,672.8 L828.0,673.1 L829.4,673.4 L830.9,673.6 L832.4,673.9 L833.9,674.2 L835.4,674.4 L836.8,674.7 L838.3,675.0 L839.8,675.2 L841.3,675.5 L842.8,675.8 L844.3,676.0 L845.7,676.3 L847.2,676.5 L848.7,676.8 L850.2,677.0 L851.7,677.3 L853.1,677.5 L854.6,677.8 L856.1,678.1 L857.6,678.3 L859.1,678.5 L860.6,678.8 L862.0,679.0 L863.5,679.3 L865.0,679.5 L866.5,679.8 L868.0,680.0 L869.5,680.3 L871.0,680.5 L872.4,680.7 L873.9,681.0 L875.4,681.2 L876.9,681.5 L878.4,681.7 L879.9,681.9 L881.4,682.2 L882.8,682.4 L884.3,682.6 L885.8,682.8 L887.3,683.1 L888.8,683.3 L890.3,683.5 L891.8,683.8 L893.2,684.0 L894.7,684.2 L896.2,684.4 L897.7,684.6 L899.2,684.9 L900.7,685.1 L902.2,685.3 L903.7,685.5 L905.2,685.7 L906.6,685.9 L908.1,686.2 L909.6,686.4 L911.1,686.6 L912.6,686.8 L914.1,687.0 L915.6,687.2 L917.1,687.4 L918.6,687.6 L920.0,687.8 L921.5,688.0 L923.0,688.2 L924.5,688.4 L926.0,688.6 L927.5,688.8 L929.0,689.0 L930.5,689.2 L932.0,689.4 L933.5,689.6 L935.0,689.8 L936.5,690.0 L937.9,690.2 L939.4,690.4 L940.9,690.6 L942.4,690.7 L943.9,690.9 L945.4,691.1 L946.9,691.3 L948.4,691.5 L949.9,691.7 L951.4,691.8 L952.9,692.0 L954.4,692.2 L955.9,692.4 L957.4,692.6 L958.8,692.7 L960.3,692.9 L961.8,693.1 L963.3,693.2 L964.8,693.4 L966.3,693.6 L967.8,693.8 L969.3,693.9 L970.8,694.1 L972.3,694.2 L973.8,694.4 L975.3,694.6 L976.8,694.7 L978.3,694.9 L979.8,695.0 L981.3,695.2 L982.8,695.4 L984.3,695.5 L985.8,695.7 L987.3,695.8 L988.8,696.0 L990.3,696.1 L991.8,696.3 L993.2,696.4 L994.7,696.6 L996.2,696.7 L997.7,696.9 L999.2,697.0 L1000.7,697.1 L1002.2,697.3 L1003.7,697.4 L1005.2,697.6 L1006.7,697.7 L1008.2,697.8 L1009.7,698.0 L1011.2,698.1 L1012.7,698.2 L1014.2,698.4 L1015.7,698.5 L1017.2,698.6 L1018.7,698.7 L1020.2,698.9 L1021.7,699.0 L1023.2,699.1 L1024.7,699.2 L1026.2,699.4 L1027.7,699.5 L1029.2,699.6 L1030.7,699.7 L1032.2,699.8 L1033.7,699.9 L1035.2,700.1 L1036.7,700.2 L1038.2,700.3 L1039.7,700.4 L1041.2,700.5 L1042.7,700.6 L1044.2,700.7 L1045.7,700.8 L1047.2,700.9 L1048.7,701.0 L1050.2,701.1 L1051.7,701.2 L1053.2,701.3 L1054.7,701.4 L1056.2,701.5 L1057.7,701.6 L1059.2,701.7 L1060.7,701.8 L1062.2,701.9 L1063.7,702.0 L1065.2,702.1 L1066.7,702.1 L1068.2,702.2 L1069.7,702.3 L1071.2,702.4 L1072.7,702.5 L1074.2,702.6 L1075.7,702.6 L1077.2,702.7 L1078.7,702.8 L1080.2,702.9 L1081.7,703.0 L1083.2,703.0 L1084.7,703.1 L1086.3,703.2 L1087.8,703.2 L1089.3,703.3 L1090.8,703.4 L1092.3,703.4 L1093.8,703.5 L1095.3,703.6 L1096.8,703.6 L1098.3,703.7 L1099.8,703.8 L1101.3,703.8 L1102.8,703.9 L1104.3,703.9 L1105.8,704.0 L1107.3,704.0 L1108.8,704.1 L1110.3,704.1 L1111.8,704.2 L1113.3,704.2 L1114.8,704.3 L1116.3,704.3 L1117.8,704.4 L1119.3,704.4 L1120.8,704.5 L1122.3,704.5 L1123.8,704.5 L1125.3,704.6 L1126.8,704.6 L1128.3,704.6 L1129.8,704.7 L1131.3,704.7 L1132.9,704.7 L1134.4,704.8 L1135.9,704.8 L1137.4,704.8 L1138.9,704.9 L1140.4,704.9 L1141.9,704.9 L1143.4,704.9 L1144.9,704.9 L1146.4,705.0 L1147.9,705.0 L1149.4,705.0 L1150.9,705.0 L1152.4,705.0 L1153.9,705.0 L1155.4,705.1 L1156.9,705.1 L1158.4,705.1 L1159.9,705.1 L1161.4,705.1 L1162.9,705.1 L1164.4,705.1 L1165.9,705.1 L1167.4,705.1 L1169.0,705.1 L1170.5,705.1 L1172.0,705.1 L1173.5,705.1 L1175.0,705.1 L1176.5,705.1 L1178.0,705.1 L1179.5,705.1 L1181.0,705.1 L1182.5,705.0 L1184.0,705.0 L1185.5,705.0 L1187.0,705.0"/>
<path d="M210.0,736.2 L211.5,735.8 L212.9,735.4 L214.4,735.1 L215.8,734.7 L217.3,734.3 L218.7,733.9 L220.2,733.6 L221.6,733.2 L223.1,732.8 L224.6,732.5 L226.0,732.1 L227.5,731.8 L228.9,731.4 L230.4,731.0 L231.9,730.7 L233.3,730.3 L234.8,730.0 L236.2,729.6 L237.7,729.3 L239.2,728.9 L240.6,728.6 L242.1,728.2 L243.5,727.9 L245.0,727.5 L246.5,727.2 L247.9,726.9 L249.4,726.5 L250.9,726.2 L252.3,725.9 L253.8,725.5 L255.3,725.2 L256.7,724.9 L258.2,724.5 L259.7,724.2 L261.1,723.9 L262.6,723.6 L264.1,723.2 L265.5,722.9 L267.0,722.6 L268.5,722.3 L269.9,722.0 L271.4,721.6 L272.9,721.3 L274.4,721.0 L275.8,720.7 L277.3,720.4 L278.8,720.1 L280.2,719.8 L281.7,719.5 L283.2,719.2 L284.7,718.9 L286.1,718.6 L287.6,718.3 L289.1,718.0 L290.5,717.7 L292.0,717.4 L293.5,717.1 L295.0,716.8 L296.4,716.5 L297.9,716.3 L299.4,716.0 L300.9,715.7 L302.3,715.4 L303.8,715.1 L305.3,714.9 L306.8,714.6 L308.3,714.3 L309.7,714.0 L311.2,713.8 L312.7,713.5 L314.2,713.2 L315.6,713.0 L317.1,712.7 L318.6,712.4 L320.1,712.2 L321.6,711.9 L323.0,711.6 L324.5,711.4 L326.0,711.1 L327.5,710.9 L329.0,710.6 L330.5,710.4 L331.9,710.1 L333.4,709.9 L334.9,709.6 L336.4,709.4 L337.9,709.1 L339.3,708.9 L340.8,708.7 L342.3,708.4 L343.8,708.2 L345.3,707.9 L346.8,707.7 L348.3,707.5 L349.7,707.3 L351.2,707.0 L352.7,706.8 L354.2,706.6 L355.7,706.3 L357.2,706.1 L358.6,705.9 L360.1,705.7 L361.6,705.5 L363.1,705.2 L364.6,705.0 L366.1,704.8 L367.6,704.6 L369.1,704.4 L370.5,704.2 L372.0,704.0 L373.5,703.8 L375.0,703.6 L376.5,703.4 L378.0,703.2 L379.5,703.0 L381.0,702.8 L382.5,702.6 L384.0,702.4 L385.4,702.2 L386.9,702.0 L388.4,701.8 L389.9,701.6 L391.4,701.4 L392.9,701.2 L394.4,701.0 L395.9,700.9 L397.4,700.7 L398.9,700.5 L400.4,700.3 L401.8,700.1 L403.3,700.0 L404.8,699.8 L406.3,699.6 L407.8,699.5 L409.3,699.3 L410.8,699.1 L412.3,699.0 L413.8,698.8 L415.3,698.6 L416.8,698.5 L418.3,698.3 L419.8,698.1 L421.3,698.0 L422.8,697.8 L424.3,697.7 L425.7,697.5 L427.2,697.4 L428.7,697.2 L430.2,697.1 L431.7,696.9 L433.2,696.8 L434.7,696.6 L436.2,696.5 L437.7,696.4 L439.2,696.2 L440.7,696.1 L442.2,696.0 L443.7,695.8 L445.2,695.7 L446.7,695.6 L448.2,695.4 L449.7,695.3 L451.2,695.2 L452.7,695.0 L454.2,694.9 L455.7,694.8 L457.2,694.7 L458.7,694.6 L460.2,694.4 L461.7,694.3 L463.2,694.2 L464.7,694.1 L466.2,694.0 L467.7,693.9 L469.2,693.8 L470.7,693.7 L472.2,693.5 L473.7,693.4 L475.2,693.3 L476.7,693.2 L478.2,693.1 L479.7,693.0 L481.2,692.9 L482.7,692.8 L484.2,692.7 L485.7,692.6 L487.2,692.6 L488.7,692.5 L490.2,692.4 L491.7,692.3 L493.2,692.2 L494.7,692.1 L496.2,692.0 L497.7,691.9 L499.2,691.9 L500.7,691.8 L502.2,691.7 L503.7,691.6 L505.2,691.5 L506.7,691.5 L508.2,691.4 L509.7,691.3 L511.2,691.2 L512.7,691.2 L514.2,691.1 L515.7,691.0 L517.2,691.0 L518.7,690.9 L520.2,690.8 L521.7,690.8 L523.2,690.7 L524.7,690.6 L526.2,690.6 L527.7,690.5 L529.2,690.5 L530.7,690.4 L532.2,690.3 L533.7,690.3 L535.2,690.2 L536.7,690.2 L538.2,690.1 L539.7,690.1 L541.2,690.0 L542.7,690.0 L544.2,689.9 L545.7,689.9 L547.2,689.8 L548.7,689.8 L550.2,689.7 L551.7,689.7 L553.2,689.7 L554.7,689.6 L556.2,689.6 L557.7,689.5 L559.2,689.5 L560.7,689.5 L562.2,689.4 L563.7,689.4 L565.2,689.4 L566.7,689.3 L568.2,689.3 L569.7,689.3 L571.2,689.2 L572.7,689.2 L574.2,689.2 L575.7,689.2 L577.3,689.1 L578.8,689.1 L580.3,689.1 L581.8,689.1 L583.3,689.1 L584.8,689.0 L586.3,689.0 L587.8,689.0 L589.3,689.0 L590.8,689.0 L592.3,688.9 L593.8,688.9 L595.3,688.9 L596.8,688.9 L598.3,688.9 L599.8,688.9 L601.3,688.9 L602.8,688.9 L604.3,688.8 L605.8,688.8 L607.3,688.8 L608.8,688.8 L610.3,688.8 L611.8,688.8 L613.3,688.8 L614.8,688.8 L616.3,688.8 L617.8,688.8 L619.3,688.8 L620.8,688.8 L622.3,688.8 L623.8,688.8 L625.3,688.8 L626.8,688.8 L628.3,688.8 L629.8,688.8 L631.3,688.8 L632.9,688.8 L634.4,688.8 L635.9,688.8 L637.4,688.8 L638.9,688.8 L640.4,688.9 L641.9,688.9 L643.4,688.9 L644.9,688.9 L646.4,688.9 L647.9,688.9 L649.4,688.9 L650.9,688.9 L652.4,688.9 L653.9,689.0 L655.4,689.0 L656.9,689.0 L658.4,689.0 L659.9,689.0 L661.4,689.0 L662.9,689.1 L664.4,689.1 L665.9,689.1 L667.4,689.1 L668.9,689.1 L670.4,689.2 L671.9,689.2 L673.4,689.2 L674.9,689.2 L676.4,689.3 L677.9,689.3 L679.4,689.3 L680.9,689.3 L682.4,689.4 L683.9,689.4 L685.4,689.4 L686.9,689.4 L688.4,689.5 L690.0,689.5 L691.5,689.5 L693.0,689.5 L694.5,689.6 L696.0,689.6 L697.5,689.6 L699.0,689.7 L700.5,689.7 L702.0,689.7 L703.5,689.8 L705.0,689.8 L706.5,689.8 L708.0,689.9 L709.5,689.9 L711.0,689.9 L712.5,690.0 L714.0,690.0 L715.5,690.0 L717.0,690.1 L718.5,690.1 L720.0,690.1 L721.5,690.2 L723.0,690.2 L724.5,690.2 L726.0,690.3 L727.5,690.3 L729.0,690.4 L730.5,690.4 L732.0,690.4 L733.5,690.5 L735.0,690.5 L736.5,690.6 L738.0,690.6 L739.5,690.6 L741.0,690.7 L742.5,690.7 L744.0,690.8 L745.5,690.8 L747.0,690.9 L748.5,690.9 L750.0,691.0 L751.5,691.0 L753.0,691.0 L754.6,691.1 L756.1,691.1 L757.6,691.2 L759.1,691.2 L760.6,691.3 L762.1,691.3 L763.6,691.4 L765.1,691.4 L766.6,691.5 L768.1,691.5 L769.6,691.6 L771.1,691.6 L772.6,691.7 L774.1,691.7 L775.6,691.8 L777.1,691.8 L778.6,691.9 L780.1,691.9 L781.6,692.0 L783.1,692.0 L784.6,692.1 L786.1,692.1 L787.6,692.2 L789.1,692.2 L790.6,692.3 L792.1,692.3 L793.6,692.4 L795.1,692.4 L796.6,692.5 L798.1,692.6 L799.6,692.6 L801.1,692.7 L802.6,692.7 L804.1,692.8 L805.6,692.8 L807.1,692.9 L808.6,692.9 L810.1,693.0 L811.6,693.1 L813.1,693.1 L814.6,693.2 L816.1,693.2 L817.6,693.3 L819.1,693.3 L820.6,693.4 L822.1,693.5 L823.6,693.5 L825.1,693.6 L826.6,693.6 L828.1,693.7 L829.6,693.8 L831.1,693.8 L832.6,693.9 L834.1,693.9 L835.6,694.0 L837.1,694.1 L838.7,694.1 L840.2,694.2 L841.7,694.3 L843.2,694.3 L844.7,694.4 L846.2,694.4 L847.7,694.5 L849.2,694.6 L850.7,694.6 L852.2,694.7 L853.7,694.8 L855.2,694.8 L856.7,694.9 L858.2,694.9 L859.7,695.0 L861.2,695.1 L862.7,695.1 L864.2,695.2 L865.7,695.3 L867.2,695.3 L868.7,695.4 L870.2,695.5 L871.7,695.5 L873.2,695.6 L874.7,695.7 L876.2,695.7 L877.7,695.8 L879.2,695.9 L880.7,695.9 L882.2,696.0 L883.7,696.1 L885.2,696.1 L886.7,696.2 L888.2,696.3 L889.7,696.3 L891.2,696.4 L892.7,696.5 L894.2,696.5 L895.7,696.6 L897.2,696.7 L898.7,696.7 L900.2,696.8 L901.7,696.9 L903.2,696.9 L904.7,697.0 L906.2,697.1 L907.7,697.1 L909.2,697.2 L910.7,697.3 L912.2,697.3 L913.7,697.4 L915.2,697.5 L916.7,697.5 L918.2,697.6 L919.7,697.7 L921.2,697.7 L922.7,697.8 L924.2,697.9 L925.7,698.0 L927.2,698.0 L928.7,698.1 L930.2,698.2 L931.7,698.2 L933.2,698.3 L934.7,698.4 L936.2,698.4 L937.7,698.5 L939.2,698.6 L940.7,698.6 L942.2,698.7 L943.7,698.8 L945.2,698.8 L946.7,698.9 L948.2,699.0 L949.7,699.1 L951.2,699.1 L952.7,699.2 L954.2,699.3 L955.8,699.3 L957.3,699.4 L958.8,699.5 L960.3,699.5 L961.8,699.6 L963.3,699.7 L964.8,699.7 L966.3,699.8 L967.8,699.9 L969.3,700.0 L970.8,700.0 L972.3,700.1 L973.8,700.2 L975.3,700.2 L976.8,700.3 L978.3,700.4 L979.8,700.4 L981.3,700.5 L982.8,700.6 L984.3,700.6 L985.8,700.7 L987.3,700.8 L988.8,700.8 L990.3,700.9 L991.8,701.0 L993.3,701.1 L994.8,701.1 L996.3,701.2 L997.8,701.3 L999.3,701.3 L1000.8,701.4 L1002.3,701.5 L1003.8,701.5 L1005.3,701.6 L1006.8,701.7 L1008.3,701.7 L1009.8,701.8 L1011.3,701.9 L1012.8,701.9 L1014.3,702.0 L1015.8,702.1 L1017.3,702.1 L1018.8,702.2 L1020.3,702.3 L1021.8,702.3 L1023.3,702.4 L1024.8,702.5 L1026.3,702.5 L1027.8,702.6 L1029.3,702.7 L1030.8,702.7 L1032.3,702.8 L1033.8,702.9 L1035.3,702.9 L1036.8,703.0 L1038.3,703.1 L1039.8,703.1 L1041.3,703.2 L1042.8,703.2 L1044.3,703.3 L1045.8,703.4 L1047.3,703.4 L1048.8,703.5 L1050.3,703.6 L1051.8,703.6 L1053.3,703.7 L1054.8,703.8 L1056.3,703.8 L1057.8,703.9 L1059.3,703.9 L1060.8,704.0 L1062.3,704.1 L1063.8,704.1 L1065.3,704.2 L1066.8,704.3 L1068.3,704.3 L1069.8,704.4 L1071.4,704.4 L1072.9,704.5 L1074.4,704.6 L1075.9,704.6 L1077.4,704.7 L1078.9,704.7 L1080.4,704.8 L1081.9,704.9 L1083.4,704.9 L1084.9,705.0 L1086.4,705.0 L1087.9,705.1 L1089.4,705.1 L1090.9,705.2 L1092.4,705.3 L1093.9,705.3 L1095.4,705.4 L1096.9,705.4 L1098.4,705.5 L1099.9,705.5 L1101.4,705.6 L1102.9,705.7 L1104.4,705.7 L1105.9,705.8 L1107.4,705.8 L1108.9,705.9 L1110.4,705.9 L1111.9,706.0 L1113.4,706.0 L1114.9,706.1 L1116.4,706.1 L1117.9,706.2 L1119.4,706.3 L1120.9,706.3 L1122.4,706.4 L1123.9,706.4 L1125.4,706.5 L1126.9,706.5 L1128.4,706.6 L1129.9,706.6 L1131.4,706.7 L1132.9,706.7 L1134.4,706.8 L1135.9,706.8 L1137.4,706.9 L1138.9,706.9 L1140.4,707.0 L1141.9,707.0 L1143.4,707.1 L1144.9,707.1 L1146.4,707.1 L1147.9,707.2 L1149.4,707.2 L1150.9,707.3 L1152.4,707.3 L1154.0,707.4 L1155.5,707.4 L1157.0,707.5 L1158.5,707.5 L1160.0,707.5 L1161.5,707.6 L1163.0,707.6 L1164.5,707.7 L1166.0,707.7 L1167.5,707.8 L1169.0,707.8 L1170.5,707.8 L1172.0,707.9 L1173.5,707.9 L1175.0,708.0 L1176.5,708.0 L1178.0,708.0 L1179.5,708.1 L1181.0,708.1 L1182.5,708.2 L1184.0,708.2 L1185.5,708.2 L1187.0,708.3"/>
<path d="M206.7,727.9 L208.2,727.8 L209.7,727.7 L211.2,727.6 L212.7,727.5 L214.2,727.4 L215.7,727.3 L217.2,727.2 L218.7,727.1 L220.2,727.1 L221.7,727.0 L223.2,726.9 L224.7,726.8 L226.2,726.7 L227.7,726.6 L229.2,726.5 L230.7,726.4 L232.2,726.4 L233.7,726.3 L235.2,726.2 L236.7,726.1 L238.2,726.0 L239.7,725.9 L241.2,725.9 L242.7,725.8 L244.2,725.7 L245.7,725.6 L247.2,725.5 L248.7,725.4 L250.2,725.4 L251.7,725.3 L253.2,725.2 L254.7,725.1 L256.3,725.0 L257.8,725.0 L259.3,724.9 L260.8,724.8 L262.3,724.7 L263.8,724.6 L265.3,724.6 L266.8,724.5 L268.3,724.4 L269.8,724.3 L271.3,724.3 L272.8,724.2 L274.3,724.1 L275.8,724.0 L277.3,723.9 L278.8,723.9 L280.3,723.8 L281.8,723.7 L283.3,723.6 L284.8,723.6 L286.3,723.5 L287.8,723.4 L289.3,723.4 L290.8,723.3 L292.3,723.2 L293.8,723.1 L295.3,723.1 L296.8,723.0 L298.3,722.9 L299.8,722.9 L301.3,722.8 L302.8,722.7 L304.3,722.6 L305.8,722.6 L307.3,722.5 L308.8,722.4 L310.3,722.4 L311.8,722.3 L313.3,722.2 L314.8,722.2 L316.3,722.1 L317.8,722.0 L319.3,722.0 L320.8,721.9 L322.3,721.8 L323.8,721.8 L325.4,721.7 L326.9,721.6 L328.4,721.6 L329.9,721.5 L331.4,721.4 L332.9,721.4 L334.4,721.3 L335.9,721.2 L337.4,721.2 L338.9,721.1 L340.4,721.1 L341.9,721.0 L343.4,720.9 L344.9,720.9 L346.4,720.8 L347.9,720.7 L349.4,720.7 L350.9,720.6 L352.4,720.6 L353.9,720.5 L355.4,720.4 L356.9,720.4 L358.4,720.3 L359.9,720.3 L361.4,720.2 L362.9,720.1 L364.4,720.1 L365.9,720.0 L367.4,720.0 L368.9,719.9 L370.4,719.9 L371.9,719.8 L373.4,719.7 L374.9,719.7 L376.4,719.6 L377.9,719.6 L379.5,719.5 L381.0,719.5 L382.5,719.4 L384.0,719.4 L385.5,719.3 L387.0,719.3 L388.5,719.2 L390.0,719.1 L391.5,719.1 L393.0,719.0 L394.5,719.0 L396.0,718.9 L397.5,718.9 L399.0,718.8 L400.5,718.8 L402.0,718.7 L403.5,718.7 L405.0,718.6 L406.5,718.6 L408.0,718.5 L409.5,718.5 L411.0,718.4 L412.5,718.4 L414.0,718.3 L415.5,718.3 L417.0,718.2 L418.5,718.2 L420.0,718.1 L421.5,718.1 L423.0,718.0 L424.5,718.0 L426.0,717.9 L427.6,717.9 L429.1,717.9 L430.6,717.8 L432.1,717.8 L433.6,717.7 L435.1,717.7 L436.6,717.6 L438.1,717.6 L439.6,717.5 L441.1,717.5 L442.6,717.5 L444.1,717.4 L445.6,717.4 L447.1,717.3 L448.6,717.3 L450.1,717.2 L451.6,717.2 L453.1,717.1 L454.6,717.1 L456.1,717.1 L457.6,717.0 L459.1,717.0 L460.6,716.9 L462.1,716.9 L463.6,716.9 L465.1,716.8 L466.6,716.8 L468.1,716.7 L469.6,716.7 L471.1,716.7 L472.7,716.6 L474.2,716.6 L475.7,716.5 L477.2,716.5 L478.7,716.5 L480.2,716.4 L481.7,716.4 L483.2,716.4 L484.7,716.3 L486.2,716.3 L487.7,716.2 L489.2,716.2 L490.7,716.2 L492.2,716.1 L493.7,716.1 L495.2,716.1 L496.7,716.0 L498.2,716.0 L499.7,716.0 L501.2,715.9 L502.7,715.9 L504.2,715.9 L505.7,715.8 L507.2,715.8 L508.7,715.8 L510.2,715.7 L511.7,715.7 L513.2,715.7 L514.8,715.6 L516.3,715.6 L517.8,715.6 L519.3,715.5 L520.8,715.5 L522.3,715.5 L523.8,715.4 L525.3,715.4 L526.8,715.4 L528.3,715.3 L529.8,715.3 L531.3,715.3 L532.8,715.2 L534.3,715.2 L535.8,715.2 L537.3,715.2 L538.8,715.1 L540.3,715.1 L541.8,715.1 L543.3,715.0 L544.8,715.0 L546.3,715.0 L547.8,715.0 L549.3,714.9 L550.8,714.9 L552.3,714.9 L553.8,714.9 L555.3,714.8 L556.9,714.8 L558.4,714.8 L559.9,714.7 L561.4,714.7 L562.9,714.7 L564.4,714.7 L565.9,714.6 L567.4,714.6 L568.9,714.6 L570.4,714.6 L571.9,714.5 L573.4,714.5 L574.9,714.5 L576.4,714.5 L577.9,714.4 L579.4,714.4 L580.9,714.4 L582.4,714.4 L583.9,714.4 L585.4,714.3 L586.9,714.3 L588.4,714.3 L589.9,714.3 L591.4,714.2 L592.9,714.2 L594.4,714.2 L596.0,714.2 L597.5,714.2 L599.0,714.1 L600.5,714.1 L602.0,714.1 L603.5,714.1 L605.0,714.1 L606.5,714.0 L608.0,714.0 L609.5,714.0 L611.0,714.0 L612.5,714.0 L614.0,713.9 L615.5,713.9 L617.0,713.9 L618.5,713.9 L620.0,713.9 L621.5,713.8 L623.0,713.8 L624.5,713.8 L626.0,713.8 L627.5,713.8 L629.0,713.7 L630.5,713.7 L632.0,713.7 L633.5,713.7 L635.1,713.7 L636.6,713.7 L638.1,713.6 L639.6,713.6 L641.1,713.6 L642.6,713.6 L644.1,713.6 L645.6,713.6 L647.1,713.6 L648.6,713.5 L650.1,713.5 L651.6,713.5 L653.1,713.5 L654.6,713.5 L656.1,713.5 L657.6,713.5 L659.1,713.4 L660.6,713.4 L662.1,713.4 L663.6,713.4 L665.1,713.4 L666.6,713.4 L668.1,713.4 L669.6,713.3 L671.1,713.3 L672.6,713.3 L674.2,713.3 L675.7,713.3 L677.2,713.3 L678.7,713.3 L680.2,713.3 L681.7,713.2 L683.2,713.2 L684.7,713.2 L686.2,713.2 L687.7,713.2 L689.2,713.2 L690.7,713.2 L692.2,713.2 L693.7,713.2 L695.2,713.1 L696.7,713.1 L698.2,713.1 L699.7,713.1 L701.2,713.1 L702.7,713.1 L704.2,713.1 L705.7,713.1 L707.2,713.1 L708.7,713.1 L710.2,713.1 L711.8,713.0 L713.3,713.0 L714.8,713.0 L716.3,713.0 L717.8,713.0 L719.3,713.0 L720.8,713.0 L722.3,713.0 L723.8,713.0 L725.3,713.0 L726.8,713.0 L728.3,713.0 L729.8,712.9 L731.3,712.9 L732.8,712.9 L734.3,712.9 L735.8,712.9 L737.3,712.9 L738.8,712.9 L740.3,712.9 L741.8,712.9 L743.3,712.9 L744.8,712.9 L746.3,712.9 L747.8,712.9 L749.3,712.9 L750.9,712.9 L752.4,712.9 L753.9,712.9 L755.4,712.8 L756.9,712.8 L758.4,712.8 L759.9,712.8 L761.4,712.8 L762.9,712.8 L764.4,712.8 L765.9,712.8 L767.4,712.8 L768.9,712.8 L770.4,712.8 L771.9,712.8 L773.4,712.8 L774.9,712.8 L776.4,712.8 L777.9,712.8 L779.4,712.8 L780.9,712.8 L782.4,712.8 L783.9,712.8 L785.4,712.8 L786.9,712.8 L788.5,712.8 L790.0,712.8 L791.5,712.8 L793.0,712.8 L794.5,712.8 L796.0,712.8 L797.5,712.8 L799.0,712.8 L800.5,712.8 L802.0,712.8 L803.5,712.8 L805.0,712.8 L806.5,712.8 L808.0,712.8 L809.5,712.7 L811.0,712.7 L812.5,712.7 L814.0,712.7 L815.5,712.7 L817.0,712.7 L818.5,712.7 L820.0,712.7 L821.5,712.7 L823.0,712.7 L824.5,712.7 L826.1,712.7 L827.6,712.7 L829.1,712.7 L830.6,712.7 L832.1,712.7 L833.6,712.7 L835.1,712.7 L836.6,712.8 L838.1,712.8 L839.6,712.8 L841.1,712.8 L842.6,712.8 L844.1,712.8 L845.6,712.8 L847.1,712.8 L848.6,712.8 L850.1,712.8 L851.6,712.8 L853.1,712.8 L854.6,712.8 L856.1,712.8 L857.6,712.8 L859.1,712.8 L860.6,712.8 L862.1,712.8 L863.7,712.8 L865.2,712.8 L866.7,712.8 L868.2,712.8 L869.7,712.8 L871.2,712.8 L872.7,712.8 L874.2,712.8 L875.7,712.8 L877.2,712.8 L878.7,712.8 L880.2,712.8 L881.7,712.8 L883.2,712.8 L884.7,712.8 L886.2,712.8 L887.7,712.8 L889.2,712.8 L890.7,712.8 L892.2,712.8 L893.7,712.8 L895.2,712.8 L896.7,712.9 L898.2,712.9 L899.7,712.9 L901.2,712.9 L902.8,712.9 L904.3,712.9 L905.8,712.9 L907.3,712.9 L908.8,712.9 L910.3,712.9 L911.8,712.9 L913.3,712.9 L914.8,712.9 L916.3,712.9 L917.8,712.9 L919.3,712.9 L920.8,712.9 L922.3,712.9 L923.8,712.9 L925.3,712.9 L926.8,712.9 L928.3,712.9 L929.8,713.0 L931.3,713.0 L932.8,713.0 L934.3,713.0 L935.8,713.0 L937.3,713.0 L938.8,713.0 L940.4,713.0 L941.9,713.0 L943.4,713.0 L944.9,713.0 L946.4,713.0 L947.9,713.0 L949.4,713.0 L950.9,713.0 L952.4,713.0 L953.9,713.0 L955.4,713.0 L956.9,713.1 L958.4,713.1 L959.9,713.1 L961.4,713.1 L962.9,713.1 L964.4,713.1 L965.9,713.1 L967.4,713.1 L968.9,713.1 L970.4,713.1 L971.9,713.1 L973.4,713.1 L974.9,713.1 L976.4,713.1 L978.0,713.1 L979.5,713.1 L981.0,713.2 L982.5,713.2 L984.0,713.2 L985.5,713.2 L987.0,713.2 L988.5,713.2 L990.0,713.2 L991.5,713.2 L993.0,713.2 L994.5,713.2 L996.0,713.2 L997.5,713.2 L999.0,713.2 L1000.5,713.2 L1002.0,713.2 L1003.5,713.3 L1005.0,713.3 L1006.5,713.3 L1008.0,713.3 L1009.5,713.3 L1011.0,713.3 L1012.5,713.3 L1014.0,713.3 L1015.5,713.3 L1017.1,713.3 L1018.6,713.3 L1020.1,713.3 L1021.6,713.3 L1023.1,713.3 L1024.6,713.4 L1026.1,713.4 L1027.6,713.4 L1029.1,713.4 L1030.6,713.4 L1032.1,713.4 L1033.6,713.4 L1035.1,713.4 L1036.6,713.4 L1038.1,713.4 L1039.6,713.4 L1041.1,713.4 L1042.6,713.4 L1044.1,713.4 L1045.6,713.5 L1047.1,713.5 L1048.6,713.5 L1050.1,713.5 L1051.6,713.5 L1053.1,713.5 L1054.7,713.5 L1056.2,713.5 L1057.7,713.5 L1059.2,713.5 L1060.7,713.5 L1062.2,713.5 L1063.7,713.5 L1065.2,713.5 L1066.7,713.6 L1068.2,713.6 L1069.7,713.6 L1071.2,713.6 L1072.7,713.6 L1074.2,713.6 L1075.7,713.6 L1077.2,713.6 L1078.7,713.6 L1080.2,713.6 L1081.7,713.6 L1083.2,713.6 L1084.7,713.6 L1086.2,713.6 L1087.7,713.7 L1089.2,713.7 L1090.7,713.7 L1092.3,713.7 L1093.8,713.7 L1095.3,713.7 L1096.8,713.7 L1098.3,713.7 L1099.8,713.7 L1101.3,713.7 L1102.8,713.7 L1104.3,713.7 L1105.8,713.7 L1107.3,713.7 L1108.8,713.8 L1110.3,713.8 L1111.8,713.8 L1113.3,713.8 L1114.8,713.8 L1116.3,713.8 L1117.8,713.8 L1119.3,713.8 L1120.8,713.8 L1122.3,713.8 L1123.8,713.8 L1125.3,713.8 L1126.8,713.8 L1128.3,713.8 L1129.8,713.8 L1131.4,713.9 L1132.9,713.9 L1134.4,713.9 L1135.9,713.9 L1137.4,713.9 L1138.9,713.9 L1140.4,713.9 L1141.9,713.9 L1143.4,713.9 L1144.9,713.9 L1146.4,713.9 L1147.9,713.9 L1149.4,713.9 L1150.9,713.9 L1152.4,713.9 L1153.9,713.9 L1155.4,713.9 L1156.9,714.0 L1158.4,714.0 L1159.9,714.0 L1161.4,714.0 L1162.9,714.0 L1164.4,714.0 L1165.9,714.0 L1167.4,714.0 L1169.0,714.0 L1170.5,714.0 L1172.0,714.0 L1173.5,714.0 L1175.0,714.0 L1176.5,714.0 L1178.0,714.0 L1179.5,714.0 L1181.0,714.0 L1182.5,714.0 L1184.0,714.0 L1185.5,714.1 L1187.0,714.1"/>
<path d="M1418.0,691.3 L1419.4,690.8 L1420.9,690.4 L1422.3,690.0 L1423.8,689.5 L1425.2,689.1 L1426.6,688.7 L1428.1,688.3 L1429.5,687.9 L1431.0,687.5 L1432.4,687.1 L1433.9,686.8 L1435.4,686.4 L1436.8,686.0 L1438.3,685.6 L1439.7,685.3 L1441.2,684.9 L1442.6,684.6 L1444.1,684.2 L1445.6,683.9 L1447.0,683.6 L1448.5,683.2 L1450.0,682.9 L1451.4,682.6 L1452.9,682.3 L1454.4,682.0 L1455.8,681.6 L1457.3,681.3 L1458.8,681.0 L1460.3,680.7 L1461.7,680.4 L1463.2,680.1 L1464.7,679.8 L1466.2,679.6 L1467.6,679.3 L1469.1,679.0 L1470.6,678.7 L1472.1,678.4 L1473.5,678.2 L1475.0,677.9 L1476.5,677.6 L1478.0,677.3 L1479.4,677.1 L1480.9,676.8 L1482.4,676.5 L1483.9,676.3 L1485.4,676.0 L1486.8,675.7 L1488.3,675.5 L1489.8,675.2 L1491.3,674.9 L1492.8,674.7 L1494.2,674.4 L1495.7,674.1 L1497.2,673.9 L1498.7,673.6 L1500.2,673.3 L1501.6,673.1 L1503.1,672.8 L1504.6,672.5 L1506.1,672.3 L1507.5,672.0 L1509.0,671.7 L1510.5,671.4 L1512.0,671.2 L1513.5,670.9 L1514.9,670.6 L1516.4,670.3 L1517.9,670.0 L1519.4,669.8 L1520.8,669.5 L1522.3,669.2 L1523.8,668.9 L1525.2,668.6 L1526.7,668.3 L1528.2,668.0 L1529.7,667.7 L1531.1,667.3 L1532.6,667.0 L1534.1,666.7 L1535.5,666.4 L1537.0,666.0 L1538.5,665.7 L1539.9,665.4 L1541.4,665.0 L1542.9,664.7 L1544.3,664.3 L1545.8,664.0 L1547.2,663.6 L1548.7,663.2 L1550.1,662.9 L1551.6,662.5 L1553.0,662.1 L1554.5,661.7 L1555.9,661.3 L1557.4,660.9 L1558.8,660.5 L1560.3,660.1 L1561.7,659.7 L1563.2,659.2 L1564.6,658.8 L1566.0,658.4 L1567.5,657.9 L1568.9,657.5 L1570.3,657.0 L1571.8,656.5 L1573.2,656.1 L1574.6,655.6 L1576.0,655.1 L1577.5,654.6 L1578.9,654.1 L1580.3,653.6 L1581.7,653.1 L1583.1,652.5 L1584.5,652.0 L1585.9,651.5 L1587.3,650.9 L1588.7,650.4 L1590.1,649.8 L1591.5,649.2 L1592.9,648.6 L1594.3,648.1 L1595.6,647.5 L1597.0,646.9 L1598.4,646.2 L1599.8,645.6 L1601.1,645.0 L1602.5,644.4 L1603.8,643.7 L1605.2,643.1 L1606.5,642.4 L1607.9,641.7 L1609.2,641.1 L1610.6,640.4 L1611.9,639.7 L1613.2,639.0 L1614.6,638.3 L1615.9,637.6 L1617.2,636.9 L1618.5,636.1 L1619.8,635.4 L1621.1,634.6 L1622.4,633.9 L1623.7,633.1 L1625.0,632.4 L1626.3,631.6 L1627.6,630.8 L1628.9,630.0 L1630.1,629.2 L1631.4,628.4 L1632.7,627.6 L1633.9,626.7 L1635.2,625.9 L1636.4,625.0 L1637.6,624.2 L1638.8,623.3 L1640.0,622.3 L1641.2,621.4 L1642.3,620.4 L1643.5,619.5 L1644.6,618.5 L1645.7,617.4 L1646.8,616.4 L1647.8,615.3 L1648.9,614.2 L1649.9,613.1 L1650.9,612.0 L1651.8,610.8 L1652.8,609.7 L1653.7,608.5 L1654.6,607.3 L1655.5,606.1 L1656.4,604.9 L1657.2,603.6 L1658.1,602.4 L1658.9,601.1 L1659.7,599.8 L1660.4,598.6 L1661.2,597.3 L1662.0,596.0 L1662.7,594.6 L1663.4,593.3 L1664.1,592.0 L1664.8,590.7 L1665.5,589.3 L1666.1,588.0 L1666.8,586.6 L1667.4,585.3 L1668.1,583.9 L1668.7,582.5 L1669.3,581.1 L1669.9,579.8 L1670.5,578.4 L1671.0,577.0 L1671.6,575.6 L1672.1,574.2 L1672.7,572.8 L1673.2,571.4 L1673.8,570.0 L1674.3,568.6 L1674.8,567.2 L1675.3,565.8 L1675.8,564.3 L1676.3,562.9 L1676.8,561.5 L1677.3,560.1 L1677.8,558.7 L1678.2,557.2 L1678.7,555.8 L1679.1,554.4 L1679.6,552.9 L1680.0,551.5 L1680.5,550.1 L1680.9,548.6 L1681.3,547.2 L1681.8,545.7 L1682.2,544.3 L1682.6,542.9 L1683.0,541.4 L1683.4,540.0 L1683.8,538.5 L1684.2,537.1 L1684.6,535.6 L1685.0,534.2 L1685.4,532.7 L1685.8,531.3 L1686.2,529.8 L1686.6,528.4 L1686.9,526.9 L1687.3,525.5 L1687.7,524.0 L1688.1,522.5 L1688.4,521.1 L1688.8,519.6 L1689.2,518.2 L1689.5,516.7 L1689.9,515.3 L1690.2,513.8 L1690.6,512.3 L1690.9,510.9 L1691.3,509.4 L1691.6,507.9 L1692.0,506.5 L1692.3,505.0 L1692.7,503.6 L1693.0,502.1 L1693.3,500.6 L1693.7,499.2 L1694.0,497.7 L1694.3,496.2 L1694.7,494.8 L1695.0,493.3 L1695.3,491.8 L1695.6,490.4 L1696.0,488.9 L1696.3,487.4 L1696.6,486.0 L1696.9,484.5 L1697.2,483.0 L1697.6,481.6 L1697.9,480.1 L1698.2,478.6 L1698.5,477.1 L1698.8,475.7 L1699.1,474.2 L1699.4,472.7 L1699.7,471.3 L1700.0,469.8 L1700.3,468.3 L1700.7,466.9 L1701.0,465.4 L1701.3,463.9 L1701.6,462.4 L1701.9,461.0 L1702.2,459.5 L1702.4,458.0 L1702.7,456.5 L1703.0,455.1 L1703.3,453.6 L1703.6,452.1 L1703.9,450.7 L1704.2,449.2 L1704.5,447.7 L1704.8,446.2 L1705.1,444.8 L1705.4,443.3 L1705.7,441.8 L1706.0,440.3 L1706.2,438.9 L1706.5,437.4 L1706.8,435.9 L1707.1,434.4 L1707.4,433.0 L1707.7,431.5 L1707.9,430.0 L1708.2,428.5 L1708.5,427.1 L1708.8,425.6 L1709.1,424.1 L1709.4,422.6 L1709.6,421.1 L1709.9,419.7 L1710.2,418.2 L1710.5,416.7 L1710.8,415.2 L1711.0,413.8 L1711.3,412.3 L1711.6,410.8 L1711.9,409.3 L1712.1,407.9 L1712.4,406.4 L1712.7,404.9 L1713.0,403.4 L1713.3,402.0 L1713.5,400.5 L1713.8,399.0 L1714.1,397.5 L1714.4,396.0 L1714.6,394.6 L1714.9,393.1 L1715.2,391.6 L1715.5,390.1 L1715.7,388.7 L1716.0,387.2 L1716.3,385.7 L1716.5,384.2 L1716.8,382.7 L1717.1,381.3 L1717.4,379.8 L1717.6,378.3 L1717.9,376.8 L1718.2,375.4 L1718.5,373.9 L1718.7,372.4 L1719.0,370.9 L1719.3,369.5 L1719.6,368.0 L1719.8,366.5 L1720.1,365.0 L1720.4,363.5 L1720.7,362.1 L1720.9,360.6 L1721.2,359.1 L1721.5,357.6 L1721.7,356.2 L1722.0,354.7 L1722.3,353.2 L1722.6,351.7 L1722.8,350.2 L1723.1,348.8 L1723.4,347.3 L1723.7,345.8 L1723.9,344.3 L1724.2,342.9 L1724.5,341.4 L1724.8,339.9 L1725.1,338.4 L1725.3,337.0 L1725.6,335.5 L1725.9,334.0 L1726.2,332.5 L1726.4,331.0 L1726.7,329.6 L1727.0,328.1 L1727.3,326.6 L1727.6,325.1 L1727.8,323.7 L1728.1,322.2 L1728.4,320.7 L1728.7,319.2 L1729.0,317.8 L1729.2,316.3 L1729.5,314.8 L1729.8,313.3 L1730.1,311.9 L1730.4,310.4 L1730.7,308.9 L1731.0,307.4 L1731.2,306.0 L1731.5,304.5 L1731.8,303.0 L1732.1,301.5 L1732.4,300.1 L1732.7,298.6 L1733.0,297.1 L1733.3,295.6 L1733.6,294.2 L1733.9,292.7 L1734.1,291.2 L1734.4,289.7 L1734.7,288.3 L1735.0,286.8 L1735.3,285.3 L1735.6,283.8 L1735.9,282.4 L1736.2,280.9 L1736.5,279.4 L1736.8,278.0 L1737.1,276.5 L1737.4,275.0 L1737.7,273.5 L1738.0,272.1 L1738.4,270.6 L1738.7,269.1 L1739.0,267.7 L1739.3,266.2 L1739.6,264.7 L1739.9,263.2 L1740.2,261.8 L1740.5,260.3 L1740.8,258.8 L1741.2,257.4 L1741.5,255.9 L1741.8,254.4 L1742.1,253.0 L1742.4,251.5 L1742.8,250.0 L1743.1,248.6 L1743.4,247.1 L1743.7,245.6 L1744.1,244.2 L1744.4,242.7 L1744.7,241.2 L1745.0,239.8 L1745.4,238.3 L1745.7,236.8 L1746.0,235.4 L1746.4,233.9 L1746.7,232.4 L1747.1,231.0 L1747.4,229.5 L1747.7,228.1 L1748.1,226.6 L1748.4,225.1 L1748.8,223.7 L1749.1,222.2 L1749.5,220.7 L1749.8,219.3 L1750.2,217.8 L1750.6,216.4 L1750.9,214.9 L1751.3,213.4 L1751.6,212.0 L1752.0,210.5 L1752.4,209.1 L1752.7,207.6 L1753.1,206.2 L1753.5,204.7 L1753.9,203.3 L1754.2,201.8 L1754.6,200.3 L1755.0,198.9 L1755.4,197.4 L1755.8,196.0 L1756.2,194.5 L1756.6,193.1 L1757.0,191.6 L1757.4,190.2 L1757.8,188.7 L1758.2,187.3 L1758.6,185.9 L1759.0,184.4 L1759.4,183.0 L1759.8,181.5 L1760.3,180.1 L1760.7,178.6 L1761.1,177.2 L1761.5,175.8 L1762.0,174.3 L1762.4,172.9 L1762.9,171.4 L1763.3,170.0 L1763.8,168.6 L1764.2,167.2 L1764.7,165.7 L1765.2,164.3 L1765.6,162.9 L1766.1,161.4 L1766.6,160.0 L1767.1,158.6 L1767.6,157.2 L1768.1,155.8 L1768.6,154.4 L1769.1,152.9 L1769.7,151.5 L1770.2,150.1 L1770.7,148.7 L1771.3,147.3 L1771.8,145.9 L1772.4,144.5 L1773.0,143.2 L1773.6,141.8 L1774.2,140.4 L1774.8,139.0 L1775.4,137.7 L1776.0,136.3 L1776.7,134.9 L1777.3,133.6 L1778.0,132.3 L1778.7,130.9 L1779.4,129.6 L1780.2,128.3 L1781.0,127.0 L1781.7,125.7 L1782.6,124.5 L1783.4,123.2 L1784.3,122.0 L1785.2,120.8 L1786.1,119.6 L1787.2,118.5 L1788.2,117.5 L1789.3,116.5 L1790.5,115.5 L1791.8,114.7 L1793.1,114.0 L1794.5,113.5 L1796.0,113.1 L1797.4,113.0 L1798.9,113.1 L1800.4,113.5 L1801.8,114.0 L1803.2,114.7 L1804.4,115.5 L1805.6,116.4 L1806.8,117.3 L1807.9,118.4 L1808.9,119.5 L1809.9,120.6 L1810.9,121.7 L1811.8,122.9 L1812.7,124.1 L1813.5,125.4 L1814.4,126.6 L1815.2,127.9 L1816.0,129.2 L1816.7,130.5 L1817.5,131.8 L1818.2,133.1 L1819.0,134.4 L1819.7,135.7 L1820.3,137.0 L1821.0,138.4 L1821.7,139.7 L1822.3,141.1 L1823.0,142.4 L1823.6,143.8 L1824.2,145.2 L1824.9,146.5 L1825.5,147.9 L1826.1,149.3 L1826.7,150.7 L1827.2,152.1 L1827.8,153.5 L1828.4,154.8 L1828.9,156.2 L1829.5,157.6 L1830.1,159.0 L1830.6,160.4 L1831.1,161.8 L1831.7,163.2 L1832.2,164.6 L1832.7,166.0 L1833.3,167.4 L1833.8,168.9 L1834.3,170.3 L1834.8,171.7 L1835.3,173.1 L1835.8,174.5 L1836.3,175.9 L1836.8,177.3 L1837.3,178.8 L1837.8,180.2 L1838.3,181.6 L1838.8,183.0 L1839.3,184.5 L1839.8,185.9 L1840.2,187.3 L1840.7,188.7 L1841.2,190.2 L1841.6,191.6 L1842.1,193.0 L1842.6,194.4 L1843.0,195.9 L1843.5,197.3 L1844.0,198.7 L1844.4,200.2 L1844.9,201.6 L1845.3,203.0 L1845.8,204.5 L1846.2,205.9 L1846.7,207.3 L1847.1,208.8 L1847.6,210.2 L1848.0,211.6 L1848.5,213.1 L1848.9,214.5 L1849.4,215.9 L1849.8,217.4 L1850.2,218.8 L1850.7,220.2 L1851.1,221.7 L1851.5,223.1 L1852.0,224.6 L1852.4,226.0 L1852.8,227.4 L1853.3,228.9 L1853.7,230.3 L1854.1,231.8 L1854.6,233.2 L1855.0,234.6 L1855.4,236.1 L1855.8,237.5 L1856.3,239.0 L1856.7,240.4 L1857.1,241.8 L1857.5,243.3 L1858.0,244.7 L1858.4,246.2 L1858.8,247.6 L1859.2,249.1 L1859.6,250.5 L1860.1,251.9 L1860.5,253.4 L1860.9,254.8 L1861.3,256.3 L1861.7,257.7 L1862.2,259.2 L1862.6,260.6 L1863.0,262.0 L1863.4,263.5 L1863.8,264.9 L1864.3,266.4 L1864.7,267.8 L1865.1,269.3 L1865.5,270.7 L1865.9,272.1 L1866.3,273.6 L1866.8,275.0 L1867.2,276.5 L1867.6,277.9 L1868.0,279.4 L1868.4,280.8 L1868.9,282.2 L1869.3,283.7 L1869.7,285.1 L1870.1,286.6 L1870.5,288.0 L1870.9,289.5 L1871.4,290.9 L1871.8,292.3 L1872.2,293.8 L1872.6,295.2 L1873.1,296.7 L1873.5,298.1 L1873.9,299.6 L1874.3,301.0 L1874.7,302.4 L1875.2,303.9 L1875.6,305.3 L1876.0,306.8 L1876.5,308.2 L1876.9,309.6 L1877.3,311.1 L1877.7,312.5 L1878.2,314.0 L1878.6,315.4 L1879.0,316.8 L1879.5,318.3 L1879.9,319.7 L1880.3,321.2 L1880.8,322.6 L1881.2,324.0 L1881.6,325.5 L1882.1,326.9 L1882.5,328.3 L1882.9,329.8 L1883.4,331.2 L1883.8,332.7 L1884.3,334.1 L1884.7,335.5 L1885.1,337.0 L1885.6,338.4 L1886.0,339.8 L1886.5,341.3 L1886.9,342.7 L1887.4,344.1 L1887.8,345.6 L1888.3,347.0 L1888.7,348.4 L1889.2,349.9 L1889.6,351.3 L1890.1,352.7 L1890.5,354.2 L1891.0,355.6 L1891.4,357.0 L1891.9,358.5 L1892.3,359.9 L1892.8,361.3 L1893.3,362.8 L1893.7,364.2 L1894.2,365.6 L1894.6,367.1 L1895.1,368.5 L1895.6,369.9 L1896.0,371.3 L1896.5,372.8 L1897.0,374.2 L1897.4,375.6 L1897.9,377.1 L1898.4,378.5 L1898.9,379.9 L1899.3,381.3 L1899.8,382.8 L1900.3,384.2 L1900.8,385.6 L1901.2,387.0 L1901.7,388.5 L1902.2,389.9 L1902.7,391.3 L1903.2,392.7 L1903.7,394.1 L1904.1,395.6 L1904.6,397.0 L1905.1,398.4 L1905.6,399.8 L1906.1,401.3 L1906.6,402.7 L1907.1,404.1 L1907.6,405.5 L1908.1,406.9 L1908.6,408.3 L1909.1,409.8 L1909.6,411.2 L1910.1,412.6 L1910.6,414.0 L1911.1,415.4 L1911.6,416.8 L1912.1,418.2 L1912.6,419.7 L1913.1,421.1 L1913.7,422.5 L1914.2,423.9 L1914.7,425.3 L1915.2,426.7 L1915.7,428.1 L1916.3,429.5 L1916.8,430.9 L1917.3,432.3 L1917.8,433.8 L1918.4,435.2 L1918.9,436.6 L1919.4,438.0 L1920.0,439.4 L1920.5,440.8 L1921.1,442.2 L1921.6,443.6 L1922.2,445.0 L1922.7,446.4 L1923.3,447.8 L1923.8,449.2 L1924.4,450.6 L1924.9,452.0 L1925.5,453.4 L1926.0,454.8 L1926.6,456.1 L1927.2,457.5 L1927.7,458.9 L1928.3,460.3 L1928.9,461.7 L1929.5,463.1 L1930.0,464.5 L1930.6,465.9 L1931.2,467.2 L1931.8,468.6 L1932.4,470.0 L1933.0,471.4 L1933.6,472.8 L1934.2,474.1 L1934.8,475.5 L1935.4,476.9 L1936.0,478.3 L1936.6,479.6 L1937.2,481.0 L1937.8,482.4 L1938.5,483.8 L1939.1,485.1 L1939.7,486.5 L1940.4,487.8 L1941.0,489.2 L1941.6,490.6 L1942.3,491.9 L1942.9,493.3 L1943.6,494.6 L1944.2,496.0 L1944.9,497.3 L1945.6,498.7 L1946.2,500.0 L1946.9,501.4 L1947.6,502.7 L1948.3,504.0 L1949.0,505.4 L1949.7,506.7 L1950.4,508.0 L1951.1,509.4 L1951.8,510.7 L1952.5,512.0 L1953.2,513.3 L1953.9,514.7 L1954.6,516.0 L1955.4,517.3 L1956.1,518.6 L1956.8,519.9 L1957.6,521.2 L1958.3,522.5 L1959.1,523.8 L1959.8,525.1 L1960.6,526.4 L1961.4,527.7 L1962.1,529.0 L1962.9,530.3 L1963.7,531.6 L1964.5,532.9 L1965.2,534.1 L1966.0,535.4 L1966.8,536.7 L1967.6,538.0 L1968.4,539.2 L1969.2,540.5 L1970.0,541.8 L1970.9,543.0 L1971.7,544.3 L1972.5,545.6 L1973.3,546.8 L1974.1,548.1 L1975.0,549.3 L1975.8,550.6 L1976.7,551.8 L1977.5,553.1 L1978.3,554.3 L1979.2,555.5 L1980.0,556.8 L1980.9,558.0 L1981.7,559.3 L1982.6,560.5 L1983.5,561.7 L1984.3,562.9 L1985.2,564.2 L1986.0,565.4 L1986.9,566.6 L1987.8,567.9 L1988.7,569.1 L1989.5,570.3 L1990.4,571.5 L1991.3,572.7 L1992.2,573.9 L1993.1,575.2 L1994.0,576.4 L1994.9,577.6 L1995.8,578.8 L1996.7,580.0 L1997.6,581.2 L1998.5,582.4 L1999.4,583.6 L2000.3,584.7 L2001.3,585.9 L2002.2,587.1 L2003.1,588.3 L2004.1,589.4 L2005.0,590.6 L2006.0,591.8 L2007.0,592.9 L2007.9,594.0 L2008.9,595.2 L2009.9,596.3 L2010.9,597.4 L2011.9,598.6 L2012.9,599.7 L2014.0,600.8 L2015.0,601.9 L2016.0,602.9 L2017.1,604.0 L2018.2,605.1 L2019.2,606.1 L2020.3,607.1 L2021.4,608.2 L2022.5,609.2 L2023.7,610.2 L2024.8,611.1 L2026.0,612.1 L2027.1,613.1 L2028.3,614.0 L2029.5,614.9 L2030.7,615.8 L2031.9,616.7 L2033.1,617.6 L2034.4,618.4 L2035.6,619.2 L2036.9,620.1 L2038.2,620.9 L2039.4,621.6 L2040.7,622.4 L2042.0,623.2 L2043.3,623.9 L2044.7,624.6 L2046.0,625.3 L2047.3,626.0 L2048.7,626.7 L2050.0,627.3 L2051.4,627.9 L2052.8,628.6 L2054.1,629.2 L2055.5,629.8 L2056.9,630.3 L2058.3,630.9 L2059.7,631.4 L2061.1,632.0 L2062.5,632.5 L2063.9,633.0 L2065.3,633.5 L2066.8,634.0 L2068.2,634.5 L2069.6,635.0 L2071.0,635.5 L2072.5,635.9 L2073.9,636.4 L2075.3,636.9 L2076.7,637.3 L2078.2,637.8 L2079.6,638.2 L2081.0,638.7 L2082.5,639.1 L2083.9,639.6 L2085.4,640.0 L2086.8,640.5 L2088.2,640.9 L2089.7,641.3 L2091.1,641.7 L2092.6,642.2 L2094.0,642.6 L2095.4,643.0 L2096.9,643.4 L2098.3,643.8 L2099.8,644.3 L2101.2,644.7 L2102.7,645.1 L2104.1,645.5 L2105.6,645.9 L2107.0,646.3 L2108.5,646.7 L2109.9,647.1 L2111.4,647.5 L2112.8,647.9 L2114.3,648.3 L2115.7,648.6 L2117.2,649.0 L2118.6,649.4 L2120.1,649.8 L2121.5,650.2 L2123.0,650.5 L2124.4,650.9 L2125.9,651.3 L2127.3,651.7 L2128.8,652.0 L2130.3,652.4 L2131.7,652.8 L2133.2,653.1 L2134.6,653.5 L2136.1,653.8 L2137.5,654.2 L2139.0,654.6 L2140.5,654.9 L2141.9,655.3 L2143.4,655.6 L2144.9,656.0 L2146.3,656.3 L2147.8,656.6 L2149.2,657.0 L2150.7,657.3 L2152.2,657.6 L2153.6,658.0 L2155.1,658.3 L2156.6,658.6 L2158.0,658.9 L2159.5,659.3 L2161.0,659.6 L2162.4,659.9 L2163.9,660.2 L2165.4,660.5 L2166.9,660.8 L2168.3,661.1 L2169.8,661.4 L2171.3,661.7 L2172.7,662.0 L2174.2,662.3 L2175.7,662.6 L2177.2,662.9 L2178.6,663.2 L2180.1,663.5 L2181.6,663.7 L2183.1,664.0 L2184.6,664.3 L2186.0,664.6 L2187.5,664.8 L2189.0,665.1 L2190.5,665.3 L2191.9,665.6 L2193.4,665.9 L2194.9,666.1 L2196.4,666.4 L2197.9,666.6 L2199.4,666.8 L2200.8,667.1 L2202.3,667.3 L2203.8,667.5 L2205.3,667.8 L2206.8,668.0 L2208.3,668.2 L2209.8,668.4 L2211.2,668.7 L2212.7,668.9 L2214.2,669.1 L2215.7,669.3 L2217.2,669.5 L2218.7,669.7 L2220.2,669.9 L2221.7,670.1 L2223.2,670.2 L2224.6,670.4 L2226.1,670.6 L2227.6,670.8 L2229.1,670.9 L2230.6,671.1 L2232.1,671.3 L2233.6,671.4 L2235.1,671.6 L2236.6,671.7 L2238.1,671.9 L2239.6,672.0 L2241.1,672.2 L2242.6,672.3 L2244.1,672.4 L2245.6,672.6 L2247.1,672.7 L2248.6,672.8 L2250.1,672.9 L2251.6,673.0 L2253.1,673.2 L2254.6,673.3 L2256.1,673.4 L2257.6,673.4 L2259.1,673.5 L2260.6,673.6 L2262.1,673.7 L2263.6,673.8 L2265.1,673.9 L2266.6,673.9 L2268.1,674.0 L2269.6,674.0 L2271.1,674.1 L2272.6,674.2 L2274.1,674.2 L2275.6,674.2 L2277.1,674.3 L2278.6,674.3 L2280.1,674.3 L2281.6,674.4 L2283.1,674.4 L2284.6,674.4 L2286.1,674.4 L2287.6,674.4 L2289.1,674.4 L2290.6,674.4 L2292.1,674.4 L2293.6,674.4 L2295.1,674.3 L2296.6,674.3 L2298.1,674.3 L2299.6,674.3 L2301.1,674.2 L2302.6,674.2 L2304.1,674.1 L2305.6,674.1 L2307.1,674.0 L2308.6,673.9 L2310.1,673.9 L2311.6,673.8 L2313.1,673.7 L2314.6,673.6 L2316.1,673.5 L2317.6,673.4 L2319.1,673.3 L2320.6,673.2 L2322.1,673.1 L2323.6,673.0 L2325.1,672.9 L2326.6,672.8 L2328.1,672.6 L2329.6,672.5 L2331.1,672.4 L2332.6,672.2 L2334.1,672.1 L2335.6,671.9 L2337.1,671.7 L2338.6,671.6 L2340.1,671.4 L2341.6,671.2 L2343.1,671.0 L2344.5,670.8 L2346.0,670.6 L2347.5,670.4 L2349.0,670.2 L2350.5,670.0 L2352.0,669.8 L2353.5,669.6 L2355.0,669.3 L2356.4,669.1 L2357.9,668.9 L2359.4,668.6 L2360.9,668.4 L2362.4,668.1 L2363.8,667.8 L2365.3,667.6 L2366.8,667.3 L2368.3,667.0 L2369.8,666.7 L2371.2,666.4 L2372.7,666.2 L2374.2,665.9 L2375.6,665.5 L2377.1,665.2 L2378.6,664.9 L2380.0,664.6 L2381.5,664.3 L2383.0,663.9 L2384.4,663.6 L2385.9,663.2 L2387.4,662.9 L2388.8,662.5 L2390.3,662.2 L2391.7,661.8 L2393.2,661.4 L2394.6,661.0 L2396.1,660.7"/>
<path d="M1418.0,699.7 L1419.5,699.6 L1421.0,699.5 L1422.5,699.4 L1424.0,699.3 L1425.5,699.2 L1427.0,699.2 L1428.5,699.2 L1430.0,699.1 L1431.5,699.1 L1433.0,699.1 L1434.5,699.1 L1436.0,699.1 L1437.5,699.1 L1439.0,699.2 L1440.5,699.2 L1442.0,699.2 L1443.5,699.3 L1445.0,699.4 L1446.5,699.4 L1448.0,699.5 L1449.5,699.6 L1451.0,699.7 L1452.5,699.8 L1454.0,699.9 L1455.5,700.0 L1457.0,700.1 L1458.5,700.2 L1460.0,700.3 L1461.5,700.4 L1463.0,700.5 L1464.5,700.6 L1466.0,700.7 L1467.5,700.9 L1469.0,701.0 L1470.5,701.1 L1472.0,701.2 L1473.5,701.3 L1475.0,701.5 L1476.5,701.6 L1478.0,701.7 L1479.5,701.8 L1481.0,701.9 L1482.5,702.0 L1484.0,702.1 L1485.5,702.2 L1487.0,702.3 L1488.5,702.4 L1490.0,702.5 L1491.5,702.6 L1493.0,702.6 L1494.5,702.7 L1496.0,702.8 L1497.5,702.8 L1499.0,702.9 L1500.5,702.9 L1502.0,702.9 L1503.5,703.0 L1505.0,703.0 L1506.5,703.0 L1508.0,703.0 L1509.5,702.9 L1511.0,702.9 L1512.5,702.9 L1514.0,702.8 L1515.5,702.8 L1517.0,702.7 L1518.5,702.6 L1520.0,702.5 L1521.5,702.4 L1523.0,702.3 L1524.5,702.1 L1526.0,702.0 L1527.5,701.8 L1529.0,701.6 L1530.5,701.4 L1532.0,701.2 L1533.5,700.9 L1534.9,700.7 L1536.4,700.4 L1537.9,700.1 L1539.4,699.8 L1540.8,699.5 L1542.3,699.2 L1543.8,698.8 L1545.2,698.4 L1546.7,698.0 L1548.1,697.6 L1549.5,697.2 L1551.0,696.7 L1552.4,696.3 L1553.8,695.8 L1555.3,695.3 L1556.7,694.8 L1558.1,694.2 L1559.5,693.7 L1560.9,693.1 L1562.2,692.5 L1563.6,691.9 L1565.0,691.3 L1566.3,690.6 L1567.7,690.0 L1569.0,689.3 L1570.3,688.6 L1571.7,687.9 L1573.0,687.2 L1574.3,686.4 L1575.6,685.7 L1576.9,684.9 L1578.2,684.1 L1579.4,683.3 L1580.7,682.5 L1581.9,681.7 L1583.2,680.8 L1584.4,680.0 L1585.7,679.1 L1586.9,678.3 L1588.1,677.4 L1589.4,676.5 L1590.6,675.7 L1591.8,674.8 L1593.0,673.9 L1594.2,673.0 L1595.4,672.1 L1596.6,671.2 L1597.9,670.3 L1599.1,669.4 L1600.3,668.5 L1601.5,667.6 L1602.7,666.7 L1603.9,665.8 L1605.1,664.9 L1606.3,664.0 L1607.5,663.1 L1608.7,662.2 L1609.9,661.3 L1611.1,660.4 L1612.3,659.5 L1613.5,658.7 L1614.8,657.8 L1616.0,656.9 L1617.2,656.1 L1618.4,655.2 L1619.7,654.3 L1620.9,653.5 L1622.2,652.7 L1623.4,651.8 L1624.7,651.0 L1626.0,650.2 L1627.2,649.4 L1628.5,648.7 L1629.8,647.9 L1631.1,647.1 L1632.4,646.4 L1633.7,645.7 L1635.1,645.0 L1636.4,644.3 L1637.7,643.6 L1639.1,642.9 L1640.4,642.2 L1641.7,641.5 L1643.1,640.8 L1644.4,640.1 L1645.7,639.4 L1647.1,638.7 L1648.4,638.0 L1649.7,637.3 L1651.0,636.5 L1652.3,635.7 L1653.6,635.0 L1654.8,634.1 L1656.1,633.3 L1657.3,632.5 L1658.6,631.6 L1659.8,630.7 L1661.0,629.8 L1662.1,628.9 L1663.3,627.9 L1664.4,626.9 L1665.5,625.9 L1666.6,624.9 L1667.7,623.9 L1668.8,622.8 L1669.8,621.7 L1670.8,620.6 L1671.9,619.5 L1672.8,618.3 L1673.8,617.2 L1674.7,616.0 L1675.7,614.8 L1676.6,613.6 L1677.5,612.4 L1678.3,611.2 L1679.2,610.0 L1680.0,608.7 L1680.9,607.5 L1681.7,606.2 L1682.5,604.9 L1683.2,603.7 L1684.0,602.4 L1684.8,601.1 L1685.5,599.7 L1686.2,598.4 L1686.9,597.1 L1687.6,595.8 L1688.3,594.4 L1689.0,593.1 L1689.7,591.8 L1690.3,590.4 L1691.0,589.0 L1691.6,587.7 L1692.2,586.3 L1692.9,585.0 L1693.5,583.6 L1694.1,582.2 L1694.7,580.8 L1695.3,579.4 L1695.8,578.1 L1696.4,576.7 L1697.0,575.3 L1697.5,573.9 L1698.1,572.5 L1698.6,571.1 L1699.2,569.7 L1699.7,568.3 L1700.3,566.9 L1700.8,565.5 L1701.3,564.1 L1701.8,562.6 L1702.3,561.2 L1702.8,559.8 L1703.3,558.4 L1703.8,557.0 L1704.3,555.6 L1704.8,554.1 L1705.3,552.7 L1705.8,551.3 L1706.3,549.9 L1706.8,548.5 L1707.2,547.0 L1707.7,545.6 L1708.2,544.2 L1708.6,542.7 L1709.1,541.3 L1709.5,539.9 L1710.0,538.4 L1710.4,537.0 L1710.9,535.6 L1711.3,534.1 L1711.8,532.7 L1712.2,531.3 L1712.6,529.8 L1713.1,528.4 L1713.5,526.9 L1713.9,525.5 L1714.4,524.1 L1714.8,522.6 L1715.2,521.2 L1715.6,519.7 L1716.0,518.3 L1716.5,516.9 L1716.9,515.4 L1717.3,514.0 L1717.7,512.5 L1718.1,511.1 L1718.5,509.6 L1718.9,508.2 L1719.3,506.7 L1719.7,505.3 L1720.1,503.8 L1720.5,502.4 L1720.9,500.9 L1721.3,499.5 L1721.7,498.0 L1722.0,496.6 L1722.4,495.1 L1722.8,493.7 L1723.2,492.2 L1723.6,490.8 L1724.0,489.3 L1724.3,487.9 L1724.7,486.4 L1725.1,484.9 L1725.5,483.5 L1725.8,482.0 L1726.2,480.6 L1726.6,479.1 L1726.9,477.7 L1727.3,476.2 L1727.7,474.7 L1728.0,473.3 L1728.4,471.8 L1728.8,470.4 L1729.1,468.9 L1729.5,467.5 L1729.8,466.0 L1730.2,464.5 L1730.5,463.1 L1730.9,461.6 L1731.3,460.2 L1731.6,458.7 L1732.0,457.2 L1732.3,455.8 L1732.7,454.3 L1733.0,452.8 L1733.3,451.4 L1733.7,449.9 L1734.0,448.5 L1734.4,447.0 L1734.7,445.5 L1735.1,444.1 L1735.4,442.6 L1735.7,441.1 L1736.1,439.7 L1736.4,438.2 L1736.8,436.7 L1737.1,435.3 L1737.4,433.8 L1737.8,432.4 L1738.1,430.9 L1738.4,429.4 L1738.8,428.0 L1739.1,426.5 L1739.4,425.0 L1739.8,423.6 L1740.1,422.1 L1740.4,420.6 L1740.8,419.2 L1741.1,417.7 L1741.4,416.2 L1741.8,414.8 L1742.1,413.3 L1742.4,411.8 L1742.8,410.4 L1743.1,408.9 L1743.5,407.4 L1743.8,406.0 L1744.1,404.5 L1744.5,403.1 L1744.8,401.6 L1745.1,400.1 L1745.5,398.7 L1745.8,397.2 L1746.1,395.7 L1746.5,394.3 L1746.8,392.8 L1747.2,391.3 L1747.5,389.9 L1747.8,388.4 L1748.2,387.0 L1748.5,385.5 L1748.9,384.0 L1749.2,382.6 L1749.6,381.1 L1749.9,379.6 L1750.3,378.2 L1750.6,376.7 L1751.0,375.3 L1751.3,373.8 L1751.7,372.3 L1752.0,370.9 L1752.4,369.4 L1752.7,368.0 L1753.1,366.5 L1753.5,365.0 L1753.8,363.6 L1754.2,362.1 L1754.6,360.7 L1754.9,359.2 L1755.3,357.8 L1755.7,356.3 L1756.0,354.8 L1756.4,353.4 L1756.8,351.9 L1757.2,350.5 L1757.6,349.0 L1758.0,347.6 L1758.4,346.1 L1758.8,344.7 L1759.2,343.2 L1759.6,341.8 L1760.0,340.3 L1760.4,338.9 L1760.8,337.4 L1761.2,336.0 L1761.7,334.6 L1762.1,333.1 L1762.5,331.7 L1763.0,330.3 L1763.4,328.8 L1763.9,327.4 L1764.3,326.0 L1764.8,324.5 L1765.3,323.1 L1765.8,321.7 L1766.3,320.3 L1766.8,318.8 L1767.3,317.4 L1767.8,316.0 L1768.3,314.6 L1768.9,313.2 L1769.4,311.8 L1770.0,310.4 L1770.6,309.1 L1771.2,307.7 L1771.9,306.3 L1772.5,305.0 L1773.2,303.7 L1773.9,302.3 L1774.7,301.0 L1775.5,299.7 L1776.3,298.5 L1777.1,297.2 L1778.0,296.0 L1778.9,294.8 L1779.9,293.7 L1780.9,292.6 L1782.1,291.6 L1783.2,290.6 L1784.5,289.8 L1785.8,289.0 L1787.1,288.4 L1788.6,288.0 L1790.0,287.7 L1791.5,287.5 L1793.0,287.5 L1794.5,287.7 L1796.0,288.0 L1797.4,288.5 L1798.8,289.0 L1800.2,289.6 L1801.5,290.3 L1802.9,291.0 L1804.1,291.8 L1805.4,292.6 L1806.6,293.5 L1807.9,294.3 L1809.1,295.2 L1810.2,296.2 L1811.4,297.1 L1812.5,298.1 L1813.6,299.1 L1814.7,300.2 L1815.8,301.2 L1816.9,302.2 L1817.9,303.3 L1819.0,304.4 L1820.0,305.5 L1821.0,306.6 L1822.0,307.7 L1823.0,308.9 L1824.0,310.0 L1825.0,311.1 L1825.9,312.3 L1826.9,313.5 L1827.8,314.6 L1828.8,315.8 L1829.7,317.0 L1830.6,318.2 L1831.5,319.4 L1832.4,320.6 L1833.3,321.8 L1834.2,323.0 L1835.0,324.2 L1835.9,325.5 L1836.8,326.7 L1837.6,327.9 L1838.5,329.2 L1839.3,330.4 L1840.2,331.7 L1841.0,332.9 L1841.8,334.2 L1842.7,335.4 L1843.5,336.7 L1844.3,337.9 L1845.1,339.2 L1845.9,340.5 L1846.7,341.7 L1847.5,343.0 L1848.3,344.3 L1849.1,345.5 L1849.9,346.8 L1850.7,348.1 L1851.5,349.4 L1852.3,350.7 L1853.1,351.9 L1853.9,353.2 L1854.6,354.5 L1855.4,355.8 L1856.2,357.1 L1856.9,358.4 L1857.7,359.7 L1858.5,361.0 L1859.2,362.3 L1860.0,363.6 L1860.7,364.9 L1861.5,366.2 L1862.2,367.5 L1863.0,368.8 L1863.7,370.1 L1864.5,371.4 L1865.2,372.7 L1866.0,374.0 L1866.7,375.3 L1867.4,376.6 L1868.2,377.9 L1868.9,379.2 L1869.6,380.6 L1870.4,381.9 L1871.1,383.2 L1871.8,384.5 L1872.6,385.8 L1873.3,387.1 L1874.0,388.4 L1874.7,389.8 L1875.4,391.1 L1876.2,392.4 L1876.9,393.7 L1877.6,395.0 L1878.3,396.4 L1879.0,397.7 L1879.8,399.0 L1880.5,400.3 L1881.2,401.6 L1881.9,403.0 L1882.6,404.3 L1883.3,405.6 L1884.0,406.9 L1884.8,408.3 L1885.5,409.6 L1886.2,410.9 L1886.9,412.2 L1887.6,413.6 L1888.3,414.9 L1889.0,416.2 L1889.7,417.5 L1890.4,418.9 L1891.1,420.2 L1891.8,421.5 L1892.5,422.8 L1893.3,424.2 L1894.0,425.5 L1894.7,426.8 L1895.4,428.1 L1896.1,429.5 L1896.8,430.8 L1897.5,432.1 L1898.2,433.4 L1898.9,434.8 L1899.6,436.1 L1900.3,437.4 L1901.0,438.7 L1901.7,440.1 L1902.5,441.4 L1903.2,442.7 L1903.9,444.0 L1904.6,445.4 L1905.3,446.7 L1906.0,448.0 L1906.7,449.3 L1907.4,450.7 L1908.1,452.0 L1908.9,453.3 L1909.6,454.6 L1910.3,455.9 L1911.0,457.3 L1911.7,458.6 L1912.4,459.9 L1913.1,461.2 L1913.9,462.5 L1914.6,463.9 L1915.3,465.2 L1916.0,466.5 L1916.8,467.8 L1917.5,469.1 L1918.2,470.5 L1918.9,471.8 L1919.7,473.1 L1920.4,474.4 L1921.1,475.7 L1921.9,477.0 L1922.6,478.3 L1923.3,479.6 L1924.1,480.9 L1924.8,482.3 L1925.6,483.6 L1926.3,484.9 L1927.0,486.2 L1927.8,487.5 L1928.5,488.8 L1929.3,490.1 L1930.0,491.4 L1930.8,492.7 L1931.6,494.0 L1932.3,495.3 L1933.1,496.6 L1933.8,497.9 L1934.6,499.2 L1935.4,500.4 L1936.2,501.7 L1936.9,503.0 L1937.7,504.3 L1938.5,505.6 L1939.3,506.9 L1940.1,508.1 L1940.9,509.4 L1941.6,510.7 L1942.4,512.0 L1943.2,513.3 L1944.0,514.5 L1944.8,515.8 L1945.6,517.1 L1946.4,518.3 L1947.3,519.6 L1948.1,520.9 L1948.9,522.1 L1949.7,523.4 L1950.5,524.6 L1951.3,525.9 L1952.2,527.2 L1953.0,528.4 L1953.8,529.7 L1954.7,530.9 L1955.5,532.2 L1956.4,533.4 L1957.2,534.6 L1958.0,535.9 L1958.9,537.1 L1959.8,538.4 L1960.6,539.6 L1961.5,540.8 L1962.3,542.1 L1963.2,543.3 L1964.1,544.5 L1964.9,545.7 L1965.8,546.9 L1966.7,548.2 L1967.6,549.4 L1968.5,550.6 L1969.4,551.8 L1970.3,553.0 L1971.1,554.2 L1972.0,555.4 L1973.0,556.6 L1973.9,557.8 L1974.8,559.0 L1975.7,560.2 L1976.6,561.4 L1977.5,562.6 L1978.4,563.8 L1979.4,565.0 L1980.3,566.1 L1981.2,567.3 L1982.2,568.5 L1983.1,569.7 L1984.1,570.8 L1985.0,572.0 L1986.0,573.2 L1986.9,574.3 L1987.9,575.5 L1988.8,576.6 L1989.8,577.8 L1990.8,578.9 L1991.8,580.1 L1992.7,581.2 L1993.7,582.3 L1994.7,583.5 L1995.7,584.6 L1996.7,585.7 L1997.7,586.9 L1998.7,588.0 L1999.7,589.1 L2000.7,590.2 L2001.7,591.3 L2002.7,592.4 L2003.8,593.5 L2004.8,594.6 L2005.8,595.7 L2006.9,596.8 L2007.9,597.9 L2009.0,599.0 L2010.0,600.0 L2011.1,601.1 L2012.1,602.2 L2013.2,603.2 L2014.2,604.3 L2015.3,605.3 L2016.4,606.4 L2017.5,607.4 L2018.5,608.5 L2019.6,609.5 L2020.7,610.6 L2021.8,611.6 L2022.9,612.6 L2024.0,613.6 L2025.1,614.6 L2026.3,615.6 L2027.4,616.6 L2028.5,617.6 L2029.6,618.6 L2030.8,619.6 L2031.9,620.6 L2033.0,621.6 L2034.2,622.6 L2035.3,623.5 L2036.5,624.5 L2037.6,625.4 L2038.8,626.4 L2040.0,627.3 L2041.2,628.3 L2042.3,629.2 L2043.5,630.1 L2044.7,631.0 L2045.9,632.0 L2047.1,632.9 L2048.3,633.8 L2049.5,634.7 L2050.7,635.5 L2051.9,636.4 L2053.2,637.3 L2054.4,638.2 L2055.6,639.0 L2056.9,639.9 L2058.1,640.7 L2059.3,641.6 L2060.6,642.4 L2061.8,643.2 L2063.1,644.1 L2064.4,644.9 L2065.6,645.7 L2066.9,646.5 L2068.2,647.3 L2069.5,648.1 L2070.7,648.8 L2072.0,649.6 L2073.3,650.4 L2074.6,651.1 L2075.9,651.9 L2077.2,652.6 L2078.6,653.3 L2079.9,654.1 L2081.2,654.8 L2082.5,655.5 L2083.8,656.2 L2085.2,656.9 L2086.5,657.6 L2087.9,658.2 L2089.2,658.9 L2090.6,659.6 L2091.9,660.2 L2093.3,660.9 L2094.6,661.5 L2096.0,662.1 L2097.4,662.7 L2098.7,663.3 L2100.1,663.9 L2101.5,664.5 L2102.9,665.1 L2104.3,665.7 L2105.7,666.2 L2107.1,666.8 L2108.5,667.3 L2109.9,667.9 L2111.3,668.4 L2112.7,668.9 L2114.1,669.4 L2115.5,669.9 L2116.9,670.4 L2118.4,670.9 L2119.8,671.4 L2121.2,671.9 L2122.6,672.3 L2124.1,672.8 L2125.5,673.2 L2127.0,673.6 L2128.4,674.1 L2129.8,674.5 L2131.3,674.9 L2132.7,675.3 L2134.2,675.7 L2135.7,676.0 L2137.1,676.4 L2138.6,676.8 L2140.0,677.1 L2141.5,677.4 L2143.0,677.8 L2144.4,678.1 L2145.9,678.4 L2147.4,678.7 L2148.8,679.0 L2150.3,679.3 L2151.8,679.6 L2153.3,679.9 L2154.7,680.1 L2156.2,680.4 L2157.7,680.6 L2159.2,680.9 L2160.7,681.1 L2162.2,681.3 L2163.7,681.5 L2165.1,681.7 L2166.6,681.9 L2168.1,682.1 L2169.6,682.3 L2171.1,682.5 L2172.6,682.6 L2174.1,682.8 L2175.6,682.9 L2177.1,683.1 L2178.6,683.2 L2180.1,683.3 L2181.6,683.4 L2183.1,683.6 L2184.6,683.7 L2186.1,683.8 L2187.6,683.9 L2189.1,683.9 L2190.6,684.0 L2192.1,684.1 L2193.6,684.1 L2195.1,684.2 L2196.6,684.2 L2198.1,684.3 L2199.6,684.3 L2201.1,684.4 L2202.6,684.4 L2204.1,684.4 L2205.6,684.4 L2207.1,684.4 L2208.6,684.4 L2210.1,684.4 L2211.6,684.4 L2213.1,684.4 L2214.6,684.3 L2216.1,684.3 L2217.6,684.3 L2219.1,684.2 L2220.6,684.2 L2222.1,684.1 L2223.6,684.1 L2225.1,684.0 L2226.6,684.0 L2228.1,683.9 L2229.6,683.8 L2231.1,683.7 L2232.6,683.6 L2234.1,683.6 L2235.6,683.5 L2237.1,683.4 L2238.6,683.3 L2240.1,683.2 L2241.6,683.1 L2243.1,682.9 L2244.6,682.8 L2246.1,682.7 L2247.6,682.6 L2249.1,682.4 L2250.6,682.3 L2252.1,682.2 L2253.6,682.0 L2255.1,681.9 L2256.6,681.8 L2258.1,681.6 L2259.6,681.5 L2261.1,681.3 L2262.6,681.1 L2264.1,681.0 L2265.6,680.8 L2267.1,680.7 L2268.6,680.5 L2270.0,680.3 L2271.5,680.2 L2273.0,680.0 L2274.5,679.8 L2276.0,679.6 L2277.5,679.5 L2279.0,679.3 L2280.5,679.1 L2282.0,678.9 L2283.5,678.7 L2285.0,678.5 L2286.5,678.3 L2287.9,678.2 L2289.4,678.0 L2290.9,677.8 L2292.4,677.6 L2293.9,677.4 L2295.4,677.2 L2296.9,677.0 L2298.4,676.8 L2299.9,676.6 L2301.4,676.4 L2302.8,676.2 L2304.3,676.0 L2305.8,675.8 L2307.3,675.6 L2308.8,675.4 L2310.3,675.2 L2311.8,675.0 L2313.3,674.8 L2314.8,674.6 L2316.3,674.4 L2317.7,674.2 L2319.2,674.0 L2320.7,673.8 L2322.2,673.6 L2323.7,673.4 L2325.2,673.3 L2326.7,673.1 L2328.2,672.9 L2329.7,672.7 L2331.2,672.5 L2332.6,672.3 L2334.1,672.1 L2335.6,671.9 L2337.1,671.7 L2338.6,671.6 L2340.1,671.4 L2341.6,671.2 L2343.1,671.0 L2344.6,670.8 L2346.1,670.7 L2347.6,670.5 L2349.1,670.3 L2350.6,670.2 L2352.0,670.0 L2353.5,669.8 L2355.0,669.7 L2356.5,669.5 L2358.0,669.4 L2359.5,669.2 L2361.0,669.1 L2362.5,668.9 L2364.0,668.8 L2365.5,668.6 L2367.0,668.5 L2368.5,668.4 L2370.0,668.2 L2371.5,668.1 L2373.0,668.0 L2374.5,667.9 L2376.0,667.8 L2377.5,667.6 L2379.0,667.5 L2380.5,667.4 L2382.0,667.3 L2383.5,667.2 L2385.0,667.1 L2386.5,667.1 L2388.0,667.0 L2389.5,666.9 L2391.0,666.8 L2392.5,666.8 L2394.0,666.7 L2395.5,666.6 L2397.0,666.6 L2398.5,666.5 L2400.0,666.5 L2401.5,666.5 L2403.0,666.4 L2404.5,666.4 L2406.0,666.4"/>
<path d="M1418.0,695.2 L1419.5,694.8 L1420.9,694.5 L1422.4,694.1 L1423.8,693.7 L1425.3,693.4 L1426.8,693.0 L1428.2,692.7 L1429.7,692.3 L1431.1,692.0 L1432.6,691.7 L1434.1,691.4 L1435.6,691.0 L1437.0,690.7 L1438.5,690.4 L1440.0,690.1 L1441.4,689.8 L1442.9,689.5 L1444.4,689.2 L1445.9,688.9 L1447.3,688.6 L1448.8,688.3 L1450.3,688.1 L1451.8,687.8 L1453.2,687.5 L1454.7,687.2 L1456.2,687.0 L1457.7,686.7 L1459.2,686.4 L1460.6,686.2 L1462.1,685.9 L1463.6,685.7 L1465.1,685.4 L1466.6,685.2 L1468.0,684.9 L1469.5,684.7 L1471.0,684.4 L1472.5,684.2 L1474.0,683.9 L1475.5,683.7 L1476.9,683.5 L1478.4,683.2 L1479.9,683.0 L1481.4,682.7 L1482.9,682.5 L1484.4,682.3 L1485.9,682.0 L1487.3,681.8 L1488.8,681.6 L1490.3,681.3 L1491.8,681.1 L1493.3,680.9 L1494.8,680.6 L1496.2,680.4 L1497.7,680.2 L1499.2,679.9 L1500.7,679.7 L1502.2,679.5 L1503.7,679.2 L1505.2,679.0 L1506.6,678.7 L1508.1,678.5 L1509.6,678.2 L1511.1,678.0 L1512.6,677.8 L1514.1,677.5 L1515.5,677.3 L1517.0,677.0 L1518.5,676.8 L1520.0,676.5 L1521.5,676.2 L1522.9,676.0 L1524.4,675.7 L1525.9,675.4 L1527.4,675.2 L1528.9,674.9 L1530.3,674.6 L1531.8,674.3 L1533.3,674.1 L1534.8,673.8 L1536.2,673.5 L1537.7,673.2 L1539.2,672.9 L1540.7,672.6 L1542.1,672.3 L1543.6,672.0 L1545.1,671.7 L1546.5,671.3 L1548.0,671.0 L1549.5,670.7 L1550.9,670.4 L1552.4,670.0 L1553.9,669.7 L1555.3,669.3 L1556.8,669.0 L1558.3,668.6 L1559.7,668.3 L1561.2,667.9 L1562.6,667.5 L1564.1,667.2 L1565.5,666.8 L1567.0,666.4 L1568.4,666.0 L1569.9,665.6 L1571.3,665.2 L1572.8,664.8 L1574.2,664.4 L1575.7,663.9 L1577.1,663.5 L1578.5,663.1 L1580.0,662.6 L1581.4,662.2 L1582.8,661.7 L1584.3,661.2 L1585.7,660.8 L1587.1,660.3 L1588.6,659.8 L1590.0,659.3 L1591.4,658.8 L1592.8,658.3 L1594.2,657.8 L1595.6,657.2 L1597.0,656.7 L1598.4,656.1 L1599.8,655.5 L1601.2,654.9 L1602.6,654.3 L1603.9,653.7 L1605.3,653.1 L1606.6,652.5 L1608.0,651.8 L1609.3,651.1 L1610.7,650.4 L1612.0,649.7 L1613.3,649.0 L1614.6,648.3 L1615.9,647.5 L1617.2,646.8 L1618.5,646.0 L1619.8,645.2 L1621.1,644.4 L1622.3,643.5 L1623.6,642.7 L1624.8,641.8 L1626.0,641.0 L1627.2,640.1 L1628.4,639.2 L1629.6,638.3 L1630.8,637.3 L1632.0,636.4 L1633.1,635.4 L1634.3,634.5 L1635.4,633.5 L1636.5,632.5 L1637.7,631.5 L1638.8,630.5 L1639.9,629.4 L1640.9,628.4 L1642.0,627.3 L1643.1,626.3 L1644.1,625.2 L1645.2,624.1 L1646.2,623.0 L1647.2,621.9 L1648.2,620.8 L1649.2,619.7 L1650.2,618.5 L1651.2,617.4 L1652.1,616.2 L1653.1,615.1 L1654.0,613.9 L1655.0,612.7 L1655.9,611.5 L1656.8,610.3 L1657.7,609.2 L1658.6,607.9 L1659.5,606.7 L1660.4,605.5 L1661.3,604.3 L1662.1,603.1 L1663.0,601.8 L1663.8,600.6 L1664.7,599.3 L1665.5,598.1 L1666.3,596.8 L1667.1,595.6 L1668.0,594.3 L1668.8,593.0 L1669.5,591.7 L1670.3,590.5 L1671.1,589.2 L1671.9,587.9 L1672.6,586.6 L1673.4,585.3 L1674.2,584.0 L1674.9,582.7 L1675.7,581.4 L1676.4,580.1 L1677.1,578.8 L1677.9,577.5 L1678.6,576.1 L1679.3,574.8 L1680.0,573.5 L1680.7,572.2 L1681.5,570.9 L1682.2,569.5 L1682.9,568.2 L1683.6,566.9 L1684.3,565.5 L1685.0,564.2 L1685.7,562.9 L1686.4,561.5 L1687.0,560.2 L1687.7,558.9 L1688.4,557.5 L1689.1,556.2 L1689.8,554.9 L1690.5,553.5 L1691.1,552.2 L1691.8,550.8 L1692.5,549.5 L1693.2,548.1 L1693.8,546.8 L1694.5,545.5 L1695.2,544.1 L1695.9,542.8 L1696.5,541.4 L1697.2,540.1 L1697.9,538.7 L1698.5,537.4 L1699.2,536.0 L1699.9,534.7 L1700.5,533.3 L1701.2,532.0 L1701.9,530.6 L1702.5,529.3 L1703.2,527.9 L1703.9,526.6 L1704.5,525.3 L1705.2,523.9 L1705.9,522.6 L1706.5,521.2 L1707.2,519.9 L1707.9,518.5 L1708.6,517.2 L1709.2,515.8 L1709.9,514.5 L1710.6,513.2 L1711.3,511.8 L1711.9,510.5 L1712.6,509.1 L1713.3,507.8 L1714.0,506.5 L1714.7,505.1 L1715.4,503.8 L1716.1,502.4 L1716.7,501.1 L1717.4,499.8 L1718.1,498.4 L1718.8,497.1 L1719.5,495.8 L1720.3,494.5 L1721.0,493.1 L1721.7,491.8 L1722.4,490.5 L1723.1,489.2 L1723.8,487.9 L1724.6,486.5 L1725.3,485.2 L1726.0,483.9 L1726.8,482.6 L1727.5,481.3 L1728.3,480.0 L1729.0,478.7 L1729.8,477.4 L1730.6,476.1 L1731.3,474.8 L1732.1,473.5 L1732.9,472.3 L1733.7,471.0 L1734.5,469.7 L1735.3,468.4 L1736.1,467.2 L1736.9,465.9 L1737.7,464.6 L1738.5,463.4 L1739.4,462.1 L1740.2,460.9 L1741.0,459.6 L1741.9,458.4 L1742.7,457.2 L1743.6,455.9 L1744.5,454.7 L1745.4,453.5 L1746.3,452.3 L1747.2,451.1 L1748.1,449.9 L1749.0,448.7 L1750.0,447.5 L1750.9,446.4 L1751.9,445.2 L1752.8,444.0 L1753.8,442.9 L1754.8,441.8 L1755.8,440.7 L1756.8,439.6 L1757.9,438.5 L1758.9,437.4 L1760.0,436.3 L1761.1,435.3 L1762.2,434.3 L1763.3,433.3 L1764.4,432.3 L1765.6,431.3 L1766.7,430.4 L1767.9,429.5 L1769.2,428.6 L1770.4,427.7 L1771.6,426.9 L1772.9,426.1 L1774.2,425.4 L1775.6,424.7 L1776.9,424.0 L1778.3,423.4 L1779.7,422.9 L1781.1,422.4 L1782.6,422.0 L1784.0,421.6 L1785.5,421.3 L1787.0,421.1 L1788.5,420.9 L1790.0,420.8 L1791.5,420.8 L1793.0,420.8 L1794.5,420.8 L1796.0,421.0 L1797.5,421.2 L1799.0,421.4 L1800.4,421.7 L1801.9,422.1 L1803.3,422.5 L1804.8,422.9 L1806.2,423.4 L1807.6,423.9 L1809.0,424.5 L1810.4,425.1 L1811.8,425.7 L1813.1,426.4 L1814.4,427.0 L1815.8,427.7 L1817.1,428.5 L1818.4,429.2 L1819.7,430.0 L1821.0,430.8 L1822.2,431.6 L1823.5,432.4 L1824.7,433.2 L1826.0,434.1 L1827.2,435.0 L1828.4,435.8 L1829.6,436.7 L1830.8,437.6 L1832.0,438.5 L1833.2,439.5 L1834.4,440.4 L1835.6,441.3 L1836.7,442.3 L1837.9,443.2 L1839.1,444.2 L1840.2,445.1 L1841.4,446.1 L1842.5,447.1 L1843.7,448.1 L1844.8,449.1 L1845.9,450.0 L1847.1,451.0 L1848.2,452.0 L1849.3,453.0 L1850.4,454.0 L1851.6,455.0 L1852.7,456.0 L1853.8,457.0 L1854.9,458.0 L1856.0,459.0 L1857.1,460.0 L1858.3,461.1 L1859.4,462.1 L1860.5,463.1 L1861.6,464.1 L1862.7,465.1 L1863.8,466.1 L1864.9,467.1 L1866.0,468.2 L1867.1,469.2 L1868.2,470.2 L1869.3,471.2 L1870.4,472.2 L1871.5,473.3 L1872.6,474.3 L1873.7,475.3 L1874.8,476.3 L1875.9,477.4 L1877.0,478.4 L1878.1,479.4 L1879.2,480.4 L1880.3,481.5 L1881.4,482.5 L1882.5,483.5 L1883.6,484.6 L1884.7,485.6 L1885.8,486.6 L1886.9,487.7 L1888.0,488.7 L1889.0,489.8 L1890.1,490.8 L1891.2,491.8 L1892.3,492.9 L1893.4,493.9 L1894.5,494.9 L1895.6,496.0 L1896.6,497.0 L1897.7,498.1 L1898.8,499.1 L1899.9,500.2 L1901.0,501.2 L1902.1,502.2 L1903.1,503.3 L1904.2,504.3 L1905.3,505.4 L1906.4,506.4 L1907.5,507.5 L1908.5,508.5 L1909.6,509.6 L1910.7,510.6 L1911.8,511.6 L1912.9,512.7 L1913.9,513.7 L1915.0,514.8 L1916.1,515.8 L1917.2,516.9 L1918.3,517.9 L1919.3,519.0 L1920.4,520.0 L1921.5,521.1 L1922.6,522.1 L1923.6,523.2 L1924.7,524.2 L1925.8,525.3 L1926.9,526.3 L1928.0,527.4 L1929.0,528.4 L1930.1,529.5 L1931.2,530.5 L1932.3,531.5 L1933.4,532.6 L1934.4,533.6 L1935.5,534.7 L1936.6,535.7 L1937.7,536.8 L1938.7,537.8 L1939.8,538.9 L1940.9,539.9 L1942.0,541.0 L1943.1,542.0 L1944.1,543.1 L1945.2,544.1 L1946.3,545.1 L1947.4,546.2 L1948.5,547.2 L1949.6,548.3 L1950.6,549.3 L1951.7,550.4 L1952.8,551.4 L1953.9,552.4 L1955.0,553.5 L1956.1,554.5 L1957.2,555.6 L1958.2,556.6 L1959.3,557.6 L1960.4,558.7 L1961.5,559.7 L1962.6,560.7 L1963.7,561.8 L1964.8,562.8 L1965.9,563.8 L1967.0,564.9 L1968.1,565.9 L1969.1,566.9 L1970.2,568.0 L1971.3,569.0 L1972.4,570.0 L1973.5,571.0 L1974.6,572.1 L1975.7,573.1 L1976.8,574.1 L1977.9,575.1 L1979.0,576.2 L1980.1,577.2 L1981.2,578.2 L1982.4,579.2 L1983.5,580.2 L1984.6,581.3 L1985.7,582.3 L1986.8,583.3 L1987.9,584.3 L1989.0,585.3 L1990.1,586.3 L1991.2,587.3 L1992.4,588.3 L1993.5,589.3 L1994.6,590.3 L1995.7,591.3 L1996.8,592.3 L1998.0,593.3 L1999.1,594.3 L2000.2,595.3 L2001.4,596.3 L2002.5,597.3 L2003.6,598.3 L2004.8,599.3 L2005.9,600.3 L2007.0,601.2 L2008.2,602.2 L2009.3,603.2 L2010.5,604.2 L2011.6,605.1 L2012.8,606.1 L2013.9,607.1 L2015.1,608.0 L2016.2,609.0 L2017.4,610.0 L2018.5,610.9 L2019.7,611.9 L2020.8,612.8 L2022.0,613.8 L2023.2,614.7 L2024.4,615.7 L2025.5,616.6 L2026.7,617.6 L2027.9,618.5 L2029.1,619.4 L2030.2,620.3 L2031.4,621.3 L2032.6,622.2 L2033.8,623.1 L2035.0,624.0 L2036.2,624.9 L2037.4,625.9 L2038.6,626.8 L2039.8,627.7 L2041.0,628.6 L2042.2,629.5 L2043.4,630.3 L2044.6,631.2 L2045.8,632.1 L2047.1,633.0 L2048.3,633.9 L2049.5,634.7 L2050.7,635.6 L2052.0,636.5 L2053.2,637.3 L2054.4,638.2 L2055.7,639.0 L2056.9,639.8 L2058.2,640.7 L2059.4,641.5 L2060.7,642.3 L2062.0,643.2 L2063.2,644.0 L2064.5,644.8 L2065.8,645.6 L2067.0,646.4 L2068.3,647.2 L2069.6,648.0 L2070.9,648.7 L2072.2,649.5 L2073.5,650.3 L2074.8,651.0 L2076.1,651.8 L2077.4,652.5 L2078.7,653.3 L2080.0,654.0 L2081.3,654.7 L2082.6,655.4 L2084.0,656.2 L2085.3,656.9 L2086.6,657.5 L2088.0,658.2 L2089.3,658.9 L2090.6,659.6 L2092.0,660.2 L2093.3,660.9 L2094.7,661.5 L2096.1,662.2 L2097.4,662.8 L2098.8,663.4 L2100.2,664.0 L2101.6,664.6 L2102.9,665.2 L2104.3,665.8 L2105.7,666.3 L2107.1,666.9 L2108.5,667.5 L2109.9,668.0 L2111.3,668.5 L2112.7,669.1 L2114.1,669.6 L2115.6,670.1 L2117.0,670.6 L2118.4,671.1 L2119.8,671.5 L2121.3,672.0 L2122.7,672.5 L2124.1,672.9 L2125.6,673.4 L2127.0,673.8 L2128.4,674.2 L2129.9,674.6 L2131.3,675.1 L2132.8,675.5 L2134.2,675.8 L2135.7,676.2 L2137.1,676.6 L2138.6,676.9 L2140.1,677.3 L2141.5,677.6 L2143.0,678.0 L2144.5,678.3 L2145.9,678.6 L2147.4,678.9 L2148.9,679.2 L2150.3,679.5 L2151.8,679.8 L2153.3,680.1 L2154.8,680.3 L2156.3,680.6 L2157.7,680.8 L2159.2,681.1 L2160.7,681.3 L2162.2,681.5 L2163.7,681.7 L2165.2,681.9 L2166.7,682.1 L2168.2,682.3 L2169.7,682.5 L2171.1,682.7 L2172.6,682.8 L2174.1,683.0 L2175.6,683.1 L2177.1,683.3 L2178.6,683.4 L2180.1,683.6 L2181.6,683.7 L2183.1,683.8 L2184.6,683.9 L2186.1,684.0 L2187.6,684.1 L2189.1,684.2 L2190.6,684.2 L2192.1,684.3 L2193.6,684.4 L2195.1,684.4 L2196.6,684.5 L2198.1,684.5 L2199.6,684.6 L2201.1,684.6 L2202.6,684.6 L2204.1,684.6 L2205.6,684.7 L2207.1,684.7 L2208.7,684.7 L2210.2,684.7 L2211.7,684.7 L2213.2,684.6 L2214.7,684.6 L2216.2,684.6 L2217.7,684.6 L2219.2,684.5 L2220.7,684.5 L2222.2,684.5 L2223.7,684.4 L2225.2,684.3 L2226.7,684.3 L2228.2,684.2 L2229.7,684.2 L2231.2,684.1 L2232.7,684.0 L2234.2,683.9 L2235.7,683.8 L2237.2,683.8 L2238.7,683.7 L2240.2,683.6 L2241.7,683.5 L2243.2,683.4 L2244.7,683.3 L2246.2,683.2 L2247.7,683.0 L2249.2,682.9 L2250.7,682.8 L2252.2,682.7 L2253.7,682.6 L2255.2,682.4 L2256.7,682.3 L2258.2,682.2 L2259.7,682.1 L2261.2,681.9 L2262.7,681.8 L2264.2,681.6 L2265.7,681.5 L2267.2,681.4 L2268.7,681.2 L2270.2,681.1 L2271.6,680.9 L2273.1,680.8 L2274.6,680.6 L2276.1,680.5 L2277.6,680.3 L2279.1,680.1 L2280.6,680.0 L2282.1,679.8 L2283.6,679.7 L2285.1,679.5 L2286.6,679.3 L2288.1,679.2 L2289.6,679.0 L2291.1,678.9 L2292.6,678.7 L2294.1,678.5 L2295.6,678.4 L2297.1,678.2 L2298.6,678.1 L2300.0,677.9 L2301.5,677.7 L2303.0,677.6 L2304.5,677.4 L2306.0,677.2 L2307.5,677.1 L2309.0,676.9 L2310.5,676.8 L2312.0,676.6 L2313.5,676.5 L2315.0,676.3 L2316.5,676.1 L2318.0,676.0 L2319.5,675.8 L2321.0,675.7 L2322.5,675.5 L2324.0,675.4 L2325.5,675.2 L2327.0,675.1 L2328.5,675.0 L2330.0,674.8 L2331.5,674.7 L2332.9,674.6 L2334.4,674.4 L2335.9,674.3 L2337.4,674.2 L2338.9,674.0 L2340.4,673.9 L2341.9,673.8 L2343.4,673.7 L2344.9,673.6 L2346.4,673.5 L2347.9,673.4 L2349.4,673.2 L2350.9,673.1 L2352.4,673.1 L2353.9,673.0 L2355.4,672.9 L2356.9,672.8 L2358.4,672.7 L2359.9,672.6 L2361.4,672.5 L2362.9,672.5 L2364.4,672.4 L2365.9,672.4 L2367.4,672.3 L2368.9,672.2 L2370.4,672.2 L2372.0,672.2 L2373.5,672.1 L2375.0,672.1 L2376.5,672.1 L2378.0,672.0 L2379.5,672.0 L2381.0,672.0 L2382.5,672.0 L2384.0,672.0 L2385.5,672.0 L2387.0,672.0 L2388.5,672.0 L2390.0,672.1 L2391.5,672.1 L2393.0,672.1 L2394.5,672.2 L2396.0,672.2"/>
<path d="M1418.0,697.1 L1419.4,696.5 L1420.8,696.0 L1422.2,695.4 L1423.6,694.9 L1425.0,694.4 L1426.5,693.9 L1427.9,693.5 L1429.3,693.0 L1430.8,692.6 L1432.2,692.2 L1433.7,691.8 L1435.1,691.4 L1436.6,691.0 L1438.0,690.6 L1439.5,690.3 L1440.9,689.9 L1442.4,689.6 L1443.9,689.3 L1445.4,689.0 L1446.8,688.7 L1448.3,688.4 L1449.8,688.1 L1451.3,687.9 L1452.8,687.7 L1454.2,687.4 L1455.7,687.2 L1457.2,687.0 L1458.7,686.8 L1460.2,686.6 L1461.7,686.4 L1463.2,686.3 L1464.7,686.1 L1466.2,685.9 L1467.7,685.8 L1469.2,685.6 L1470.7,685.5 L1472.2,685.4 L1473.7,685.3 L1475.2,685.2 L1476.7,685.0 L1478.2,684.9 L1479.7,684.8 L1481.2,684.7 L1482.7,684.7 L1484.2,684.6 L1485.7,684.5 L1487.2,684.4 L1488.7,684.3 L1490.2,684.2 L1491.7,684.2 L1493.2,684.1 L1494.7,684.0 L1496.2,684.0 L1497.7,683.9 L1499.2,683.8 L1500.7,683.7 L1502.2,683.7 L1503.7,683.6 L1505.2,683.5 L1506.7,683.4 L1508.2,683.3 L1509.7,683.3 L1511.2,683.2 L1512.7,683.1 L1514.2,683.0 L1515.7,682.9 L1517.2,682.8 L1518.7,682.6 L1520.2,682.5 L1521.7,682.4 L1523.2,682.3 L1524.7,682.1 L1526.2,682.0 L1527.7,681.8 L1529.2,681.7 L1530.6,681.5 L1532.1,681.3 L1533.6,681.1 L1535.1,680.9 L1536.6,680.7 L1538.1,680.5 L1539.6,680.3 L1541.1,680.0 L1542.6,679.8 L1544.0,679.5 L1545.5,679.2 L1547.0,678.9 L1548.5,678.6 L1549.9,678.3 L1551.4,678.0 L1552.9,677.7 L1554.3,677.3 L1555.8,677.0 L1557.2,676.6 L1558.7,676.2 L1560.1,675.8 L1561.6,675.4 L1563.0,674.9 L1564.4,674.5 L1565.9,674.0 L1567.3,673.5 L1568.7,673.0 L1570.1,672.5 L1571.5,672.0 L1572.9,671.4 L1574.3,670.9 L1575.7,670.3 L1577.1,669.7 L1578.5,669.1 L1579.9,668.5 L1581.2,667.9 L1582.6,667.2 L1583.9,666.6 L1585.3,665.9 L1586.6,665.2 L1588.0,664.5 L1589.3,663.8 L1590.6,663.1 L1591.9,662.3 L1593.2,661.6 L1594.5,660.8 L1595.8,660.0 L1597.0,659.2 L1598.3,658.4 L1599.6,657.6 L1600.8,656.8 L1602.1,655.9 L1603.3,655.1 L1604.5,654.2 L1605.7,653.3 L1606.9,652.4 L1608.1,651.5 L1609.3,650.6 L1610.5,649.7 L1611.7,648.7 L1612.9,647.8 L1614.0,646.8 L1615.2,645.8 L1616.3,644.9 L1617.4,643.9 L1618.6,642.9 L1619.7,641.9 L1620.8,640.9 L1621.9,639.8 L1623.0,638.8 L1624.1,637.8 L1625.2,636.7 L1626.2,635.7 L1627.3,634.6 L1628.4,633.5 L1629.4,632.5 L1630.5,631.4 L1631.5,630.3 L1632.5,629.2 L1633.6,628.1 L1634.6,627.0 L1635.6,625.9 L1636.7,624.8 L1637.7,623.7 L1638.7,622.6 L1639.7,621.5 L1640.7,620.4 L1641.7,619.3 L1642.7,618.2 L1643.7,617.0 L1644.7,615.9 L1645.7,614.8 L1646.7,613.7 L1647.7,612.5 L1648.7,611.4 L1649.7,610.3 L1650.7,609.2 L1651.7,608.0 L1652.7,606.9 L1653.7,605.8 L1654.7,604.7 L1655.7,603.5 L1656.7,602.4 L1657.7,601.3 L1658.7,600.2 L1659.7,599.0 L1660.7,597.9 L1661.7,596.8 L1662.7,595.7 L1663.7,594.5 L1664.7,593.4 L1665.7,592.3 L1666.7,591.2 L1667.7,590.1 L1668.7,589.0 L1669.8,587.9 L1670.8,586.8 L1671.8,585.7 L1672.8,584.6 L1673.9,583.5 L1674.9,582.4 L1676.0,581.3 L1677.0,580.3 L1678.1,579.2 L1679.1,578.1 L1680.2,577.1 L1681.3,576.0 L1682.3,574.9 L1683.4,573.9 L1684.5,572.9 L1685.6,571.8 L1686.7,570.8 L1687.8,569.8 L1688.9,568.7 L1690.0,567.7 L1691.1,566.7 L1692.2,565.7 L1693.4,564.7 L1694.5,563.7 L1695.6,562.8 L1696.8,561.8 L1697.9,560.8 L1699.1,559.9 L1700.2,558.9 L1701.4,558.0 L1702.6,557.0 L1703.8,556.1 L1705.0,555.2 L1706.1,554.3 L1707.3,553.3 L1708.5,552.4 L1709.8,551.6 L1711.0,550.7 L1712.2,549.8 L1713.4,548.9 L1714.7,548.1 L1715.9,547.2 L1717.2,546.4 L1718.4,545.6 L1719.7,544.8 L1720.9,543.9 L1722.2,543.2 L1723.5,542.4 L1724.8,541.6 L1726.1,540.8 L1727.4,540.1 L1728.7,539.3 L1730.0,538.6 L1731.3,537.9 L1732.7,537.2 L1734.0,536.5 L1735.4,535.8 L1736.7,535.2 L1738.1,534.5 L1739.4,533.9 L1740.8,533.3 L1742.2,532.7 L1743.6,532.1 L1744.9,531.5 L1746.3,531.0 L1747.7,530.4 L1749.2,529.9 L1750.6,529.4 L1752.0,528.9 L1753.4,528.4 L1754.8,528.0 L1756.3,527.5 L1757.7,527.1 L1759.2,526.7 L1760.6,526.3 L1762.1,525.9 L1763.5,525.6 L1765.0,525.3 L1766.5,525.0 L1768.0,524.7 L1769.4,524.4 L1770.9,524.2 L1772.4,523.9 L1773.9,523.7 L1775.4,523.6 L1776.9,523.4 L1778.4,523.3 L1779.9,523.1 L1781.4,523.0 L1782.9,523.0 L1784.4,522.9 L1785.9,522.9 L1787.4,522.9 L1788.9,522.9 L1790.4,522.9 L1791.9,523.0 L1793.4,523.1 L1794.9,523.2 L1796.4,523.3 L1797.9,523.4 L1799.4,523.6 L1800.9,523.7 L1802.4,523.9 L1803.9,524.1 L1805.4,524.4 L1806.8,524.6 L1808.3,524.9 L1809.8,525.2 L1811.3,525.5 L1812.7,525.8 L1814.2,526.1 L1815.7,526.5 L1817.1,526.9 L1818.6,527.2 L1820.0,527.6 L1821.5,528.0 L1822.9,528.5 L1824.4,528.9 L1825.8,529.3 L1827.2,529.8 L1828.6,530.3 L1830.1,530.8 L1831.5,531.3 L1832.9,531.8 L1834.3,532.3 L1835.7,532.8 L1837.1,533.4 L1838.5,533.9 L1839.9,534.5 L1841.3,535.1 L1842.7,535.7 L1844.1,536.3 L1845.4,536.9 L1846.8,537.5 L1848.2,538.1 L1849.5,538.7 L1850.9,539.3 L1852.3,540.0 L1853.6,540.6 L1855.0,541.3 L1856.3,542.0 L1857.7,542.6 L1859.0,543.3 L1860.3,544.0 L1861.7,544.7 L1863.0,545.4 L1864.3,546.1 L1865.7,546.8 L1867.0,547.5 L1868.3,548.3 L1869.6,549.0 L1870.9,549.7 L1872.2,550.5 L1873.5,551.2 L1874.9,551.9 L1876.2,552.7 L1877.5,553.4 L1878.8,554.2 L1880.0,555.0 L1881.3,555.7 L1882.6,556.5 L1883.9,557.3 L1885.2,558.1 L1886.5,558.8 L1887.8,559.6 L1889.0,560.4 L1890.3,561.2 L1891.6,562.0 L1892.9,562.8 L1894.1,563.6 L1895.4,564.4 L1896.7,565.2 L1898.0,566.0 L1899.2,566.8 L1900.5,567.6 L1901.8,568.5 L1903.0,569.3 L1904.3,570.1 L1905.5,570.9 L1906.8,571.7 L1908.1,572.5 L1909.3,573.4 L1910.6,574.2 L1911.8,575.0 L1913.1,575.8 L1914.3,576.7 L1915.6,577.5 L1916.9,578.3 L1918.1,579.2 L1919.4,580.0 L1920.6,580.8 L1921.9,581.7 L1923.1,582.5 L1924.4,583.3 L1925.6,584.1 L1926.9,585.0 L1928.1,585.8 L1929.4,586.6 L1930.6,587.5 L1931.9,588.3 L1933.1,589.1 L1934.4,590.0 L1935.6,590.8 L1936.9,591.6 L1938.2,592.4 L1939.4,593.3 L1940.7,594.1 L1941.9,594.9 L1943.2,595.7 L1944.4,596.6 L1945.7,597.4 L1947.0,598.2 L1948.2,599.0 L1949.5,599.8 L1950.8,600.6 L1952.0,601.5 L1953.3,602.3 L1954.6,603.1 L1955.8,603.9 L1957.1,604.7 L1958.4,605.5 L1959.6,606.3 L1960.9,607.1 L1962.2,607.9 L1963.5,608.7 L1964.8,609.4 L1966.0,610.2 L1967.3,611.0 L1968.6,611.8 L1969.9,612.6 L1971.2,613.3 L1972.5,614.1 L1973.8,614.9 L1975.1,615.6 L1976.4,616.4 L1977.7,617.1 L1979.0,617.9 L1980.3,618.6 L1981.6,619.4 L1982.9,620.1 L1984.2,620.9 L1985.5,621.6 L1986.8,622.3 L1988.1,623.1 L1989.5,623.8 L1990.8,624.5 L1992.1,625.2 L1993.4,626.0 L1994.7,626.7 L1996.1,627.4 L1997.4,628.1 L1998.7,628.8 L2000.1,629.5 L2001.4,630.2 L2002.7,630.9 L2004.1,631.6 L2005.4,632.2 L2006.7,632.9 L2008.1,633.6 L2009.4,634.3 L2010.8,634.9 L2012.1,635.6 L2013.5,636.3 L2014.8,636.9 L2016.2,637.6 L2017.5,638.2 L2018.9,638.9 L2020.2,639.5 L2021.6,640.1 L2023.0,640.8 L2024.3,641.4 L2025.7,642.0 L2027.1,642.7 L2028.4,643.3 L2029.8,643.9 L2031.2,644.5 L2032.6,645.1 L2033.9,645.7 L2035.3,646.3 L2036.7,646.9 L2038.1,647.5 L2039.5,648.0 L2040.9,648.6 L2042.3,649.2 L2043.7,649.8 L2045.0,650.3 L2046.4,650.9 L2047.8,651.4 L2049.2,652.0 L2050.6,652.5 L2052.0,653.1 L2053.5,653.6 L2054.9,654.1 L2056.3,654.7 L2057.7,655.2 L2059.1,655.7 L2060.5,656.2 L2061.9,656.7 L2063.3,657.2 L2064.8,657.7 L2066.2,658.2 L2067.6,658.7 L2069.0,659.1 L2070.5,659.6 L2071.9,660.1 L2073.3,660.5 L2074.8,661.0 L2076.2,661.4 L2077.6,661.9 L2079.1,662.3 L2080.5,662.8 L2081.9,663.2 L2083.4,663.6 L2084.8,664.0 L2086.3,664.4 L2087.7,664.8 L2089.2,665.2 L2090.6,665.6 L2092.1,666.0 L2093.5,666.4 L2095.0,666.8 L2096.4,667.1 L2097.9,667.5 L2099.4,667.9 L2100.8,668.2 L2102.3,668.6 L2103.8,668.9 L2105.2,669.2 L2106.7,669.6 L2108.2,669.9 L2109.6,670.2 L2111.1,670.5 L2112.6,670.8 L2114.0,671.1 L2115.5,671.4 L2117.0,671.7 L2118.5,672.0 L2119.9,672.3 L2121.4,672.5 L2122.9,672.8 L2124.4,673.1 L2125.9,673.3 L2127.3,673.6 L2128.8,673.8 L2130.3,674.1 L2131.8,674.3 L2133.3,674.5 L2134.8,674.8 L2136.3,675.0 L2137.7,675.2 L2139.2,675.4 L2140.7,675.6 L2142.2,675.8 L2143.7,676.0 L2145.2,676.2 L2146.7,676.4 L2148.2,676.6 L2149.7,676.7 L2151.2,676.9 L2152.7,677.1 L2154.2,677.2 L2155.6,677.4 L2157.1,677.5 L2158.6,677.7 L2160.1,677.8 L2161.6,678.0 L2163.1,678.1 L2164.6,678.2 L2166.1,678.4 L2167.6,678.5 L2169.1,678.6 L2170.6,678.7 L2172.1,678.8 L2173.6,678.9 L2175.1,679.0 L2176.6,679.1 L2178.1,679.2 L2179.6,679.3 L2181.1,679.4 L2182.6,679.5 L2184.1,679.6 L2185.6,679.6 L2187.1,679.7 L2188.6,679.8 L2190.1,679.8 L2191.6,679.9 L2193.1,680.0 L2194.6,680.0 L2196.1,680.1 L2197.6,680.1 L2199.1,680.1 L2200.6,680.2 L2202.2,680.2 L2203.7,680.3 L2205.2,680.3 L2206.7,680.3 L2208.2,680.3 L2209.7,680.4 L2211.2,680.4 L2212.7,680.4 L2214.2,680.4 L2215.7,680.4 L2217.2,680.4 L2218.7,680.4 L2220.2,680.4 L2221.7,680.4 L2223.2,680.4 L2224.7,680.4 L2226.2,680.4 L2227.7,680.4 L2229.2,680.4 L2230.7,680.4 L2232.2,680.3 L2233.7,680.3 L2235.2,680.3 L2236.7,680.3 L2238.2,680.3 L2239.7,680.2 L2241.2,680.2 L2242.7,680.2 L2244.2,680.1 L2245.7,680.1 L2247.2,680.1 L2248.8,680.0 L2250.3,680.0 L2251.8,679.9 L2253.3,679.9 L2254.8,679.9 L2256.3,679.8 L2257.8,679.8 L2259.3,679.7 L2260.8,679.7 L2262.3,679.6 L2263.8,679.6 L2265.3,679.5 L2266.8,679.4 L2268.3,679.4 L2269.8,679.3 L2271.3,679.3 L2272.8,679.2 L2274.3,679.2 L2275.8,679.1 L2277.3,679.0 L2278.8,679.0 L2280.3,678.9 L2281.8,678.8 L2283.3,678.8 L2284.8,678.7 L2286.3,678.7 L2287.8,678.6 L2289.3,678.5 L2290.8,678.5 L2292.3,678.4 L2293.8,678.3 L2295.3,678.3 L2296.8,678.2 L2298.3,678.1 L2299.8,678.1 L2301.3,678.0 L2302.8,677.9 L2304.3,677.9 L2305.8,677.8 L2307.3,677.7 L2308.8,677.7 L2310.3,677.6 L2311.8,677.5 L2313.3,677.5 L2314.8,677.4 L2316.3,677.3 L2317.9,677.3 L2319.4,677.2 L2320.9,677.2 L2322.4,677.1 L2323.9,677.0 L2325.4,677.0 L2326.9,676.9 L2328.4,676.9 L2329.9,676.8 L2331.4,676.7 L2332.9,676.7 L2334.4,676.6 L2335.9,676.6 L2337.4,676.5 L2338.9,676.5 L2340.4,676.4 L2341.9,676.4 L2343.4,676.3 L2344.9,676.3 L2346.4,676.3 L2347.9,676.2 L2349.4,676.2 L2350.9,676.1 L2352.4,676.1 L2353.9,676.1 L2355.4,676.0 L2356.9,676.0 L2358.4,676.0 L2359.9,675.9 L2361.4,675.9 L2362.9,675.9 L2364.4,675.9 L2365.9,675.9 L2367.4,675.8 L2368.9,675.8 L2370.4,675.8 L2371.9,675.8 L2373.5,675.8 L2375.0,675.8 L2376.5,675.8 L2378.0,675.8 L2379.5,675.8 L2381.0,675.8 L2382.5,675.8 L2384.0,675.8 L2385.5,675.8 L2387.0,675.8 L2388.5,675.9 L2390.0,675.9 L2391.5,675.9 L2393.0,675.9 L2394.5,676.0 L2396.0,676.0"/>
<path d="M1418.0,697.1 L1419.5,697.1 L1421.0,697.2 L1422.5,697.2 L1424.0,697.2 L1425.5,697.2 L1427.0,697.2 L1428.5,697.2 L1430.0,697.2 L1431.5,697.2 L1433.0,697.1 L1434.5,697.1 L1436.0,697.0 L1437.5,697.0 L1439.0,696.9 L1440.5,696.8 L1442.0,696.8 L1443.5,696.7 L1445.0,696.6 L1446.5,696.5 L1448.0,696.4 L1449.5,696.3 L1451.0,696.2 L1452.5,696.0 L1454.0,695.9 L1455.5,695.8 L1457.0,695.6 L1458.5,695.5 L1460.0,695.3 L1461.5,695.2 L1463.0,695.0 L1464.5,694.8 L1466.0,694.6 L1467.5,694.4 L1469.0,694.3 L1470.4,694.1 L1471.9,693.8 L1473.4,693.6 L1474.9,693.4 L1476.4,693.2 L1477.9,693.0 L1479.4,692.7 L1480.8,692.5 L1482.3,692.2 L1483.8,692.0 L1485.3,691.7 L1486.8,691.5 L1488.2,691.2 L1489.7,690.9 L1491.2,690.6 L1492.7,690.4 L1494.1,690.1 L1495.6,689.8 L1497.1,689.5 L1498.6,689.2 L1500.0,688.9 L1501.5,688.5 L1503.0,688.2 L1504.4,687.9 L1505.9,687.6 L1507.4,687.2 L1508.8,686.9 L1510.3,686.6 L1511.8,686.2 L1513.2,685.9 L1514.7,685.5 L1516.1,685.1 L1517.6,684.8 L1519.0,684.4 L1520.5,684.0 L1522.0,683.6 L1523.4,683.3 L1524.9,682.9 L1526.3,682.5 L1527.8,682.1 L1529.2,681.7 L1530.7,681.3 L1532.1,680.9 L1533.6,680.5 L1535.0,680.1 L1536.4,679.6 L1537.9,679.2 L1539.3,678.8 L1540.8,678.4 L1542.2,677.9 L1543.6,677.5 L1545.1,677.1 L1546.5,676.6 L1547.9,676.2 L1549.4,675.7 L1550.8,675.3 L1552.2,674.8 L1553.7,674.4 L1555.1,673.9 L1556.5,673.4 L1558.0,673.0 L1559.4,672.5 L1560.8,672.0 L1562.2,671.5 L1563.7,671.1 L1565.1,670.6 L1566.5,670.1 L1567.9,669.6 L1569.3,669.1 L1570.8,668.6 L1572.2,668.1 L1573.6,667.6 L1575.0,667.1 L1576.4,666.6 L1577.9,666.1 L1579.3,665.6 L1580.7,665.1 L1582.1,664.6 L1583.5,664.1 L1584.9,663.5 L1586.3,663.0 L1587.7,662.5 L1589.1,662.0 L1590.5,661.4 L1592.0,660.9 L1593.4,660.4 L1594.8,659.9 L1596.2,659.3 L1597.6,658.8 L1599.0,658.2 L1600.4,657.7 L1601.8,657.2 L1603.2,656.6 L1604.6,656.1 L1606.0,655.5 L1607.4,655.0 L1608.8,654.4 L1610.2,653.9 L1611.6,653.3 L1613.0,652.7 L1614.4,652.2 L1615.7,651.6 L1617.1,651.1 L1618.5,650.5 L1619.9,649.9 L1621.3,649.4 L1622.7,648.8 L1624.1,648.2 L1625.5,647.7 L1626.9,647.1 L1628.3,646.5 L1629.7,646.0 L1631.0,645.4 L1632.4,644.8 L1633.8,644.2 L1635.2,643.7 L1636.6,643.1 L1638.0,642.5 L1639.4,641.9 L1640.8,641.3 L1642.1,640.8 L1643.5,640.2 L1644.9,639.6 L1646.3,639.0 L1647.7,638.4 L1649.1,637.8 L1650.4,637.2 L1651.8,636.6 L1653.2,636.1 L1654.6,635.5 L1656.0,634.9 L1657.4,634.3 L1658.7,633.7 L1660.1,633.1 L1661.5,632.5 L1662.9,631.9 L1664.3,631.3 L1665.6,630.7 L1667.0,630.2 L1668.4,629.6 L1669.8,629.0 L1671.2,628.4 L1672.6,627.8 L1673.9,627.2 L1675.3,626.6 L1676.7,626.0 L1678.1,625.4 L1679.5,624.9 L1680.9,624.3 L1682.2,623.7 L1683.6,623.1 L1685.0,622.5 L1686.4,622.0 L1687.8,621.4 L1689.2,620.8 L1690.6,620.2 L1691.9,619.7 L1693.3,619.1 L1694.7,618.5 L1696.1,618.0 L1697.5,617.4 L1698.9,616.8 L1700.3,616.3 L1701.7,615.7 L1703.1,615.2 L1704.5,614.6 L1705.9,614.1 L1707.3,613.5 L1708.7,613.0 L1710.1,612.4 L1711.5,611.9 L1712.9,611.4 L1714.3,610.8 L1715.7,610.3 L1717.1,609.8 L1718.5,609.3 L1719.9,608.7 L1721.4,608.2 L1722.8,607.7 L1724.2,607.2 L1725.6,606.7 L1727.0,606.2 L1728.4,605.7 L1729.9,605.2 L1731.3,604.8 L1732.7,604.3 L1734.1,603.8 L1735.6,603.4 L1737.0,602.9 L1738.4,602.4 L1739.9,602.0 L1741.3,601.5 L1742.7,601.1 L1744.2,600.7 L1745.6,600.2 L1747.1,599.8 L1748.5,599.4 L1749.9,599.0 L1751.4,598.6 L1752.8,598.2 L1754.3,597.8 L1755.7,597.4 L1757.2,597.1 L1758.7,596.7 L1760.1,596.3 L1761.6,596.0 L1763.0,595.6 L1764.5,595.3 L1766.0,595.0 L1767.4,594.6 L1768.9,594.3 L1770.4,594.0 L1771.9,593.7 L1773.3,593.4 L1774.8,593.2 L1776.3,592.9 L1777.8,592.6 L1779.2,592.4 L1780.7,592.1 L1782.2,591.9 L1783.7,591.7 L1785.2,591.5 L1786.7,591.3 L1788.2,591.1 L1789.7,590.9 L1791.2,590.8 L1792.6,590.6 L1794.1,590.4 L1795.6,590.3 L1797.1,590.2 L1798.6,590.1 L1800.1,590.0 L1801.6,589.9 L1803.1,589.8 L1804.6,589.7 L1806.1,589.7 L1807.6,589.7 L1809.1,589.6 L1810.6,589.6 L1812.1,589.6 L1813.6,589.6 L1815.2,589.6 L1816.7,589.7 L1818.2,589.7 L1819.7,589.8 L1821.2,589.9 L1822.7,590.0 L1824.2,590.1 L1825.7,590.2 L1827.2,590.3 L1828.6,590.4 L1830.1,590.6 L1831.6,590.7 L1833.1,590.9 L1834.6,591.0 L1836.1,591.2 L1837.6,591.4 L1839.1,591.6 L1840.6,591.8 L1842.1,592.1 L1843.6,592.3 L1845.0,592.5 L1846.5,592.8 L1848.0,593.1 L1849.5,593.3 L1851.0,593.6 L1852.4,593.9 L1853.9,594.2 L1855.4,594.5 L1856.8,594.8 L1858.3,595.1 L1859.8,595.4 L1861.2,595.8 L1862.7,596.1 L1864.2,596.5 L1865.6,596.8 L1867.1,597.2 L1868.5,597.5 L1870.0,597.9 L1871.5,598.3 L1872.9,598.7 L1874.4,599.1 L1875.8,599.5 L1877.3,599.9 L1878.7,600.3 L1880.1,600.7 L1881.6,601.1 L1883.0,601.5 L1884.5,601.9 L1885.9,602.4 L1887.4,602.8 L1888.8,603.2 L1890.2,603.7 L1891.7,604.1 L1893.1,604.6 L1894.5,605.0 L1896.0,605.5 L1897.4,606.0 L1898.8,606.4 L1900.2,606.9 L1901.7,607.4 L1903.1,607.9 L1904.5,608.3 L1905.9,608.8 L1907.4,609.3 L1908.8,609.8 L1910.2,610.3 L1911.6,610.8 L1913.0,611.3 L1914.5,611.8 L1915.9,612.2 L1917.3,612.7 L1918.7,613.2 L1920.1,613.8 L1921.5,614.3 L1923.0,614.8 L1924.4,615.3 L1925.8,615.8 L1927.2,616.3 L1928.6,616.8 L1930.0,617.3 L1931.4,617.8 L1932.9,618.3 L1934.3,618.8 L1935.7,619.3 L1937.1,619.9 L1938.5,620.4 L1939.9,620.9 L1941.3,621.4 L1942.7,621.9 L1944.2,622.4 L1945.6,622.9 L1947.0,623.4 L1948.4,623.9 L1949.8,624.4 L1951.2,624.9 L1952.6,625.5 L1954.1,626.0 L1955.5,626.5 L1956.9,627.0 L1958.3,627.5 L1959.7,628.0 L1961.1,628.5 L1962.6,628.9 L1964.0,629.4 L1965.4,629.9 L1966.8,630.4 L1968.2,630.9 L1969.7,631.4 L1971.1,631.9 L1972.5,632.4 L1973.9,632.8 L1975.4,633.3 L1976.8,633.8 L1978.2,634.3 L1979.6,634.7 L1981.1,635.2 L1982.5,635.7 L1983.9,636.1 L1985.4,636.6 L1986.8,637.1 L1988.2,637.5 L1989.6,638.0 L1991.1,638.4 L1992.5,638.9 L1993.9,639.3 L1995.4,639.8 L1996.8,640.2 L1998.2,640.7 L1999.7,641.1 L2001.1,641.6 L2002.6,642.0 L2004.0,642.5 L2005.4,642.9 L2006.9,643.3 L2008.3,643.8 L2009.7,644.2 L2011.2,644.6 L2012.6,645.0 L2014.1,645.5 L2015.5,645.9 L2017.0,646.3 L2018.4,646.7 L2019.8,647.1 L2021.3,647.6 L2022.7,648.0 L2024.2,648.4 L2025.6,648.8 L2027.1,649.2 L2028.5,649.6 L2030.0,650.0 L2031.4,650.4 L2032.9,650.8 L2034.3,651.2 L2035.8,651.6 L2037.2,652.0 L2038.7,652.4 L2040.1,652.8 L2041.6,653.2 L2043.0,653.5 L2044.5,653.9 L2045.9,654.3 L2047.4,654.7 L2048.8,655.1 L2050.3,655.4 L2051.7,655.8 L2053.2,656.2 L2054.7,656.5 L2056.1,656.9 L2057.6,657.3 L2059.0,657.6 L2060.5,658.0 L2061.9,658.3 L2063.4,658.7 L2064.9,659.0 L2066.3,659.4 L2067.8,659.7 L2069.3,660.1 L2070.7,660.4 L2072.2,660.8 L2073.6,661.1 L2075.1,661.5 L2076.6,661.8 L2078.0,662.1 L2079.5,662.4 L2081.0,662.8 L2082.4,663.1 L2083.9,663.4 L2085.4,663.7 L2086.8,664.1 L2088.3,664.4 L2089.8,664.7 L2091.2,665.0 L2092.7,665.3 L2094.2,665.6 L2095.7,665.9 L2097.1,666.2 L2098.6,666.5 L2100.1,666.8 L2101.5,667.1 L2103.0,667.4 L2104.5,667.7 L2106.0,668.0 L2107.4,668.3 L2108.9,668.6 L2110.4,668.9 L2111.9,669.2 L2113.3,669.4 L2114.8,669.7 L2116.3,670.0 L2117.8,670.3 L2119.3,670.5 L2120.7,670.8 L2122.2,671.1 L2123.7,671.3 L2125.2,671.6 L2126.6,671.9 L2128.1,672.1 L2129.6,672.4 L2131.1,672.6 L2132.6,672.9 L2134.1,673.1 L2135.5,673.4 L2137.0,673.6 L2138.5,673.8 L2140.0,674.1 L2141.5,674.3 L2143.0,674.6 L2144.4,674.8 L2145.9,675.0 L2147.4,675.2 L2148.9,675.5 L2150.4,675.7 L2151.9,675.9 L2153.4,676.1 L2154.8,676.3 L2156.3,676.5 L2157.8,676.8 L2159.3,677.0 L2160.8,677.2 L2162.3,677.4 L2163.8,677.6 L2165.3,677.8 L2166.8,678.0 L2168.2,678.2 L2169.7,678.3 L2171.2,678.5 L2172.7,678.7 L2174.2,678.9 L2175.7,679.1 L2177.2,679.3 L2178.7,679.4 L2180.2,679.6 L2181.7,679.8 L2183.2,680.0 L2184.7,680.1 L2186.1,680.3 L2187.6,680.5 L2189.1,680.6 L2190.6,680.8 L2192.1,680.9 L2193.6,681.1 L2195.1,681.2 L2196.6,681.4 L2198.1,681.5 L2199.6,681.7 L2201.1,681.8 L2202.6,681.9 L2204.1,682.1 L2205.6,682.2 L2207.1,682.3 L2208.6,682.5 L2210.1,682.6 L2211.6,682.7 L2213.1,682.8 L2214.6,682.9 L2216.1,683.1 L2217.6,683.2 L2219.1,683.3 L2220.6,683.4 L2222.1,683.5 L2223.6,683.6 L2225.1,683.7 L2226.6,683.8 L2228.1,683.9 L2229.6,684.0 L2231.1,684.1 L2232.6,684.2 L2234.1,684.3 L2235.6,684.3 L2237.1,684.4 L2238.6,684.5 L2240.1,684.6 L2241.6,684.6 L2243.1,684.7 L2244.6,684.8 L2246.1,684.8 L2247.6,684.9 L2249.1,685.0 L2250.6,685.0 L2252.1,685.1 L2253.6,685.1 L2255.1,685.2 L2256.6,685.2 L2258.1,685.3 L2259.6,685.3 L2261.1,685.4 L2262.6,685.4 L2264.1,685.4 L2265.6,685.5 L2267.1,685.5 L2268.6,685.5 L2270.1,685.6 L2271.6,685.6 L2273.1,685.6 L2274.6,685.6 L2276.1,685.6 L2277.6,685.6 L2279.1,685.7 L2280.6,685.7 L2282.1,685.7 L2283.6,685.7 L2285.1,685.7 L2286.6,685.7 L2288.1,685.7 L2289.6,685.6 L2291.1,685.6 L2292.6,685.6 L2294.1,685.6 L2295.6,685.6 L2297.1,685.6 L2298.6,685.5 L2300.1,685.5 L2301.6,685.5 L2303.1,685.5 L2304.6,685.4 L2306.1,685.4 L2307.7,685.4 L2309.2,685.3 L2310.7,685.3 L2312.2,685.2 L2313.7,685.2 L2315.2,685.1 L2316.7,685.1 L2318.2,685.0 L2319.7,685.0 L2321.2,684.9 L2322.7,684.8 L2324.2,684.8 L2325.7,684.7 L2327.2,684.6 L2328.7,684.5 L2330.2,684.5 L2331.7,684.4 L2333.2,684.3 L2334.7,684.2 L2336.2,684.1 L2337.7,684.0 L2339.2,683.9 L2340.7,683.9 L2342.2,683.8 L2343.7,683.7 L2345.2,683.6 L2346.7,683.4 L2348.2,683.3 L2349.7,683.2 L2351.2,683.1 L2352.7,683.0 L2354.2,682.9 L2355.7,682.8 L2357.2,682.6 L2358.7,682.5 L2360.1,682.4 L2361.6,682.2 L2363.1,682.1 L2364.6,682.0 L2366.1,681.8 L2367.6,681.7 L2369.1,681.6 L2370.6,681.4 L2372.1,681.3 L2373.6,681.1 L2375.1,681.0 L2376.6,680.8 L2378.1,680.6 L2379.6,680.5 L2381.1,680.3 L2382.6,680.1 L2384.1,680.0 L2385.6,679.8 L2387.1,679.6 L2388.5,679.5 L2390.0,679.3 L2391.5,679.1 L2393.0,678.9 L2394.5,678.7 L2396.0,678.5"/>
<path d="M1418.0,700.4 L1419.5,700.2 L1421.0,700.0 L1422.5,699.8 L1424.0,699.5 L1425.4,699.3 L1426.9,699.1 L1428.4,698.8 L1429.9,698.6 L1431.4,698.3 L1432.9,698.1 L1434.3,697.9 L1435.8,697.6 L1437.3,697.4 L1438.8,697.1 L1440.3,696.9 L1441.8,696.6 L1443.2,696.3 L1444.7,696.1 L1446.2,695.8 L1447.7,695.6 L1449.2,695.3 L1450.7,695.0 L1452.1,694.8 L1453.6,694.5 L1455.1,694.2 L1456.6,693.9 L1458.1,693.7 L1459.5,693.4 L1461.0,693.1 L1462.5,692.8 L1464.0,692.5 L1465.4,692.3 L1466.9,692.0 L1468.4,691.7 L1469.9,691.4 L1471.3,691.1 L1472.8,690.8 L1474.3,690.5 L1475.8,690.2 L1477.2,689.9 L1478.7,689.6 L1480.2,689.3 L1481.7,689.1 L1483.1,688.8 L1484.6,688.5 L1486.1,688.1 L1487.6,687.8 L1489.0,687.5 L1490.5,687.2 L1492.0,686.9 L1493.5,686.6 L1494.9,686.3 L1496.4,686.0 L1497.9,685.7 L1499.4,685.4 L1500.8,685.1 L1502.3,684.8 L1503.8,684.5 L1505.2,684.1 L1506.7,683.8 L1508.2,683.5 L1509.7,683.2 L1511.1,682.9 L1512.6,682.6 L1514.1,682.3 L1515.5,681.9 L1517.0,681.6 L1518.5,681.3 L1519.9,681.0 L1521.4,680.7 L1522.9,680.3 L1524.4,680.0 L1525.8,679.7 L1527.3,679.4 L1528.8,679.1 L1530.2,678.8 L1531.7,678.4 L1533.2,678.1 L1534.6,677.8 L1536.1,677.5 L1537.6,677.2 L1539.1,676.8 L1540.5,676.5 L1542.0,676.2 L1543.5,675.9 L1544.9,675.6 L1546.4,675.2 L1547.9,674.9 L1549.3,674.6 L1550.8,674.3 L1552.3,674.0 L1553.8,673.6 L1555.2,673.3 L1556.7,673.0 L1558.2,672.7 L1559.6,672.4 L1561.1,672.1 L1562.6,671.8 L1564.1,671.4 L1565.5,671.1 L1567.0,670.8 L1568.5,670.5 L1569.9,670.2 L1571.4,669.9 L1572.9,669.6 L1574.4,669.3 L1575.8,668.9 L1577.3,668.6 L1578.8,668.3 L1580.3,668.0 L1581.7,667.7 L1583.2,667.4 L1584.7,667.1 L1586.1,666.8 L1587.6,666.5 L1589.1,666.2 L1590.6,665.9 L1592.0,665.6 L1593.5,665.3 L1595.0,665.0 L1596.5,664.7 L1597.9,664.4 L1599.4,664.1 L1600.9,663.9 L1602.4,663.6 L1603.8,663.3 L1605.3,663.0 L1606.8,662.7 L1608.3,662.4 L1609.8,662.2 L1611.2,661.9 L1612.7,661.6 L1614.2,661.3 L1615.7,661.0 L1617.2,660.8 L1618.6,660.5 L1620.1,660.2 L1621.6,660.0 L1623.1,659.7 L1624.6,659.4 L1626.0,659.2 L1627.5,658.9 L1629.0,658.7 L1630.5,658.4 L1632.0,658.1 L1633.4,657.9 L1634.9,657.6 L1636.4,657.4 L1637.9,657.2 L1639.4,656.9 L1640.9,656.7 L1642.4,656.4 L1643.8,656.2 L1645.3,656.0 L1646.8,655.7 L1648.3,655.5 L1649.8,655.3 L1651.3,655.0 L1652.8,654.8 L1654.2,654.6 L1655.7,654.4 L1657.2,654.1 L1658.7,653.9 L1660.2,653.7 L1661.7,653.5 L1663.2,653.3 L1664.7,653.1 L1666.2,652.9 L1667.6,652.6 L1669.1,652.4 L1670.6,652.2 L1672.1,652.0 L1673.6,651.8 L1675.1,651.6 L1676.6,651.5 L1678.1,651.3 L1679.6,651.1 L1681.1,650.9 L1682.6,650.7 L1684.1,650.5 L1685.6,650.3 L1687.0,650.2 L1688.5,650.0 L1690.0,649.8 L1691.5,649.6 L1693.0,649.5 L1694.5,649.3 L1696.0,649.1 L1697.5,649.0 L1699.0,648.8 L1700.5,648.6 L1702.0,648.5 L1703.5,648.3 L1705.0,648.2 L1706.5,648.0 L1708.0,647.9 L1709.5,647.7 L1711.0,647.6 L1712.5,647.4 L1714.0,647.3 L1715.5,647.1 L1717.0,647.0 L1718.5,646.9 L1720.0,646.7 L1721.5,646.6 L1723.0,646.5 L1724.5,646.3 L1726.0,646.2 L1727.5,646.1 L1729.0,646.0 L1730.5,645.9 L1732.0,645.7 L1733.5,645.6 L1735.0,645.5 L1736.5,645.4 L1738.0,645.3 L1739.5,645.2 L1741.0,645.1 L1742.5,645.0 L1744.0,644.9 L1745.5,644.8 L1747.0,644.7 L1748.5,644.6 L1750.0,644.5 L1751.5,644.4 L1753.0,644.3 L1754.5,644.3 L1756.0,644.2 L1757.5,644.1 L1759.0,644.0 L1760.5,643.9 L1762.0,643.9 L1763.5,643.8 L1765.0,643.7 L1766.5,643.7 L1768.0,643.6 L1769.5,643.5 L1771.0,643.5 L1772.5,643.4 L1774.0,643.4 L1775.5,643.3 L1777.0,643.3 L1778.5,643.2 L1780.0,643.2 L1781.5,643.1 L1783.0,643.1 L1784.5,643.1 L1786.0,643.0 L1787.5,643.0 L1789.0,642.9 L1790.6,642.9 L1792.1,642.9 L1793.6,642.9 L1795.1,642.8 L1796.6,642.8 L1798.1,642.8 L1799.6,642.8 L1801.1,642.8 L1802.6,642.8 L1804.1,642.7 L1805.6,642.7 L1807.1,642.7 L1808.6,642.7 L1810.1,642.7 L1811.6,642.7 L1813.1,642.7 L1814.6,642.7 L1816.1,642.7 L1817.6,642.8 L1819.1,642.8 L1820.6,642.8 L1822.1,642.8 L1823.6,642.8 L1825.2,642.8 L1826.7,642.9 L1828.2,642.9 L1829.7,642.9 L1831.2,642.9 L1832.7,643.0 L1834.2,643.0 L1835.7,643.0 L1837.2,643.1 L1838.7,643.1 L1840.2,643.2 L1841.7,643.2 L1843.2,643.3 L1844.7,643.3 L1846.2,643.4 L1847.7,643.4 L1849.2,643.5 L1850.7,643.5 L1852.2,643.6 L1853.7,643.6 L1855.2,643.7 L1856.7,643.8 L1858.2,643.8 L1859.7,643.9 L1861.2,644.0 L1862.7,644.0 L1864.2,644.1 L1865.7,644.2 L1867.2,644.3 L1868.8,644.3 L1870.3,644.4 L1871.8,644.5 L1873.3,644.6 L1874.8,644.7 L1876.3,644.8 L1877.8,644.8 L1879.3,644.9 L1880.8,645.0 L1882.3,645.1 L1883.8,645.2 L1885.3,645.3 L1886.8,645.4 L1888.3,645.5 L1889.8,645.6 L1891.3,645.7 L1892.8,645.8 L1894.3,645.9 L1895.8,646.0 L1897.3,646.1 L1898.8,646.3 L1900.3,646.4 L1901.8,646.5 L1903.3,646.6 L1904.8,646.7 L1906.3,646.8 L1907.8,647.0 L1909.3,647.1 L1910.8,647.2 L1912.3,647.3 L1913.8,647.4 L1915.3,647.6 L1916.8,647.7 L1918.3,647.8 L1919.8,648.0 L1921.3,648.1 L1922.8,648.2 L1924.3,648.4 L1925.8,648.5 L1927.3,648.6 L1928.8,648.8 L1930.3,648.9 L1931.8,649.1 L1933.3,649.2 L1934.8,649.3 L1936.2,649.5 L1937.7,649.6 L1939.2,649.8 L1940.7,649.9 L1942.2,650.1 L1943.7,650.2 L1945.2,650.4 L1946.7,650.5 L1948.2,650.7 L1949.7,650.8 L1951.2,651.0 L1952.7,651.1 L1954.2,651.3 L1955.7,651.5 L1957.2,651.6 L1958.7,651.8 L1960.2,651.9 L1961.7,652.1 L1963.2,652.3 L1964.7,652.4 L1966.2,652.6 L1967.7,652.7 L1969.2,652.9 L1970.7,653.1 L1972.2,653.2 L1973.7,653.4 L1975.1,653.6 L1976.6,653.8 L1978.1,653.9 L1979.6,654.1 L1981.1,654.3 L1982.6,654.4 L1984.1,654.6 L1985.6,654.8 L1987.1,655.0 L1988.6,655.1 L1990.1,655.3 L1991.6,655.5 L1993.1,655.7 L1994.6,655.8 L1996.1,656.0 L1997.6,656.2 L1999.1,656.4 L2000.5,656.6 L2002.0,656.7 L2003.5,656.9 L2005.0,657.1 L2006.5,657.3 L2008.0,657.5 L2009.5,657.7 L2011.0,657.8 L2012.5,658.0 L2014.0,658.2 L2015.5,658.4 L2017.0,658.6 L2018.5,658.8 L2020.0,658.9 L2021.5,659.1 L2022.9,659.3 L2024.4,659.5 L2025.9,659.7 L2027.4,659.9 L2028.9,660.1 L2030.4,660.3 L2031.9,660.4 L2033.4,660.6 L2034.9,660.8 L2036.4,661.0 L2037.9,661.2 L2039.4,661.4 L2040.9,661.6 L2042.3,661.8 L2043.8,662.0 L2045.3,662.2 L2046.8,662.3 L2048.3,662.5 L2049.8,662.7 L2051.3,662.9 L2052.8,663.1 L2054.3,663.3 L2055.8,663.5 L2057.3,663.7 L2058.8,663.9 L2060.3,664.1 L2061.7,664.3 L2063.2,664.5 L2064.7,664.6 L2066.2,664.8 L2067.7,665.0 L2069.2,665.2 L2070.7,665.4 L2072.2,665.6 L2073.7,665.8 L2075.2,666.0 L2076.7,666.2 L2078.2,666.4 L2079.7,666.6 L2081.1,666.7 L2082.6,666.9 L2084.1,667.1 L2085.6,667.3 L2087.1,667.5 L2088.6,667.7 L2090.1,667.9 L2091.6,668.1 L2093.1,668.3 L2094.6,668.4 L2096.1,668.6 L2097.6,668.8 L2099.1,669.0 L2100.5,669.2 L2102.0,669.4 L2103.5,669.6 L2105.0,669.8 L2106.5,669.9 L2108.0,670.1 L2109.5,670.3 L2111.0,670.5 L2112.5,670.7 L2114.0,670.9 L2115.5,671.0 L2117.0,671.2 L2118.5,671.4 L2120.0,671.6 L2121.4,671.8 L2122.9,672.0 L2124.4,672.1 L2125.9,672.3 L2127.4,672.5 L2128.9,672.7 L2130.4,672.8 L2131.9,673.0 L2133.4,673.2 L2134.9,673.4 L2136.4,673.5 L2137.9,673.7 L2139.4,673.9 L2140.9,674.1 L2142.4,674.2 L2143.9,674.4 L2145.4,674.6 L2146.8,674.8 L2148.3,674.9 L2149.8,675.1 L2151.3,675.3 L2152.8,675.4 L2154.3,675.6 L2155.8,675.8 L2157.3,675.9 L2158.8,676.1 L2160.3,676.2 L2161.8,676.4 L2163.3,676.6 L2164.8,676.7 L2166.3,676.9 L2167.8,677.0 L2169.3,677.2 L2170.8,677.4 L2172.3,677.5 L2173.8,677.7 L2175.3,677.8 L2176.8,678.0 L2178.3,678.1 L2179.8,678.3 L2181.3,678.4 L2182.8,678.6 L2184.2,678.7 L2185.7,678.9 L2187.2,679.0 L2188.7,679.1 L2190.2,679.3 L2191.7,679.4 L2193.2,679.6 L2194.7,679.7 L2196.2,679.8 L2197.7,680.0 L2199.2,680.1 L2200.7,680.2 L2202.2,680.4 L2203.7,680.5 L2205.2,680.6 L2206.7,680.8 L2208.2,680.9 L2209.7,681.0 L2211.2,681.1 L2212.7,681.3 L2214.2,681.4 L2215.7,681.5 L2217.2,681.6 L2218.7,681.7 L2220.2,681.9 L2221.7,682.0 L2223.2,682.1 L2224.7,682.2 L2226.2,682.3 L2227.7,682.4 L2229.2,682.5 L2230.7,682.6 L2232.2,682.7 L2233.7,682.8 L2235.2,682.9 L2236.7,683.0 L2238.2,683.1 L2239.7,683.2 L2241.2,683.3 L2242.7,683.4 L2244.2,683.5 L2245.7,683.6 L2247.2,683.7 L2248.7,683.8 L2250.2,683.9 L2251.7,683.9 L2253.2,684.0 L2254.7,684.1 L2256.2,684.2 L2257.8,684.2 L2259.3,684.3 L2260.8,684.4 L2262.3,684.5 L2263.8,684.5 L2265.3,684.6 L2266.8,684.7 L2268.3,684.7 L2269.8,684.8 L2271.3,684.8 L2272.8,684.9 L2274.3,685.0 L2275.8,685.0 L2277.3,685.1 L2278.8,685.1 L2280.3,685.2 L2281.8,685.2 L2283.3,685.2 L2284.8,685.3 L2286.3,685.3 L2287.8,685.4 L2289.3,685.4 L2290.8,685.4 L2292.3,685.5 L2293.8,685.5 L2295.3,685.5 L2296.8,685.5 L2298.3,685.5 L2299.8,685.6 L2301.4,685.6 L2302.9,685.6 L2304.4,685.6 L2305.9,685.6 L2307.4,685.6 L2308.9,685.6 L2310.4,685.6 L2311.9,685.6 L2313.4,685.6 L2314.9,685.6 L2316.4,685.6 L2317.9,685.6 L2319.4,685.6 L2320.9,685.6 L2322.4,685.6 L2323.9,685.6 L2325.4,685.5 L2326.9,685.5 L2328.4,685.5 L2329.9,685.5 L2331.4,685.4 L2332.9,685.4 L2334.4,685.4 L2336.0,685.3 L2337.5,685.3 L2339.0,685.3 L2340.5,685.2 L2342.0,685.2 L2343.5,685.1 L2345.0,685.1 L2346.5,685.0 L2348.0,684.9 L2349.5,684.9 L2351.0,684.8 L2352.5,684.8 L2354.0,684.7 L2355.5,684.6 L2357.0,684.5 L2358.5,684.5 L2360.0,684.4 L2361.5,684.3 L2363.0,684.2 L2364.5,684.1 L2366.0,684.0 L2367.5,684.0 L2369.0,683.9 L2370.5,683.8 L2372.0,683.7 L2373.5,683.5 L2375.0,683.4 L2376.5,683.3 L2378.0,683.2 L2379.5,683.1 L2381.0,683.0 L2382.5,682.9 L2384.0,682.7 L2385.5,682.6 L2387.0,682.5 L2388.5,682.3 L2390.0,682.2 L2391.5,682.1 L2393.0,681.9 L2394.5,681.8 L2396.0,681.6"/>
<path d="M1418.0,699.3 L1419.5,699.1 L1421.0,698.8 L1422.4,698.6 L1423.9,698.3 L1425.4,698.1 L1426.9,697.8 L1428.4,697.6 L1429.9,697.3 L1431.3,697.1 L1432.8,696.8 L1434.3,696.6 L1435.8,696.4 L1437.3,696.1 L1438.8,695.9 L1440.2,695.6 L1441.7,695.4 L1443.2,695.2 L1444.7,694.9 L1446.2,694.7 L1447.7,694.4 L1449.2,694.2 L1450.6,694.0 L1452.1,693.8 L1453.6,693.5 L1455.1,693.3 L1456.6,693.1 L1458.1,692.8 L1459.6,692.6 L1461.0,692.4 L1462.5,692.2 L1464.0,692.0 L1465.5,691.7 L1467.0,691.5 L1468.5,691.3 L1470.0,691.1 L1471.5,690.9 L1472.9,690.6 L1474.4,690.4 L1475.9,690.2 L1477.4,690.0 L1478.9,689.8 L1480.4,689.6 L1481.9,689.4 L1483.4,689.2 L1484.9,689.0 L1486.3,688.8 L1487.8,688.6 L1489.3,688.4 L1490.8,688.2 L1492.3,688.0 L1493.8,687.8 L1495.3,687.6 L1496.8,687.4 L1498.3,687.2 L1499.8,687.0 L1501.2,686.8 L1502.7,686.6 L1504.2,686.4 L1505.7,686.2 L1507.2,686.0 L1508.7,685.8 L1510.2,685.6 L1511.7,685.4 L1513.2,685.3 L1514.7,685.1 L1516.2,684.9 L1517.7,684.7 L1519.2,684.5 L1520.6,684.4 L1522.1,684.2 L1523.6,684.0 L1525.1,683.8 L1526.6,683.6 L1528.1,683.5 L1529.6,683.3 L1531.1,683.1 L1532.6,683.0 L1534.1,682.8 L1535.6,682.6 L1537.1,682.4 L1538.6,682.3 L1540.1,682.1 L1541.6,681.9 L1543.0,681.8 L1544.5,681.6 L1546.0,681.5 L1547.5,681.3 L1549.0,681.1 L1550.5,681.0 L1552.0,680.8 L1553.5,680.7 L1555.0,680.5 L1556.5,680.3 L1558.0,680.2 L1559.5,680.0 L1561.0,679.9 L1562.5,679.7 L1564.0,679.6 L1565.5,679.4 L1567.0,679.3 L1568.5,679.1 L1570.0,679.0 L1571.5,678.9 L1573.0,678.7 L1574.5,678.6 L1576.0,678.4 L1577.5,678.3 L1578.9,678.1 L1580.4,678.0 L1581.9,677.9 L1583.4,677.7 L1584.9,677.6 L1586.4,677.5 L1587.9,677.3 L1589.4,677.2 L1590.9,677.1 L1592.4,676.9 L1593.9,676.8 L1595.4,676.7 L1596.9,676.5 L1598.4,676.4 L1599.9,676.3 L1601.4,676.2 L1602.9,676.0 L1604.4,675.9 L1605.9,675.8 L1607.4,675.7 L1608.9,675.5 L1610.4,675.4 L1611.9,675.3 L1613.4,675.2 L1614.9,675.1 L1616.4,675.0 L1617.9,674.8 L1619.4,674.7 L1620.9,674.6 L1622.4,674.5 L1623.9,674.4 L1625.4,674.3 L1626.9,674.2 L1628.4,674.1 L1629.9,673.9 L1631.4,673.8 L1632.9,673.7 L1634.4,673.6 L1635.9,673.5 L1637.4,673.4 L1638.9,673.3 L1640.4,673.2 L1641.9,673.1 L1643.4,673.0 L1644.9,672.9 L1646.4,672.8 L1647.9,672.7 L1649.4,672.6 L1650.9,672.5 L1652.4,672.4 L1653.9,672.3 L1655.4,672.3 L1656.9,672.2 L1658.4,672.1 L1659.9,672.0 L1661.4,671.9 L1662.9,671.8 L1664.4,671.7 L1665.9,671.6 L1667.4,671.5 L1668.9,671.5 L1670.4,671.4 L1671.9,671.3 L1673.4,671.2 L1674.9,671.1 L1676.4,671.0 L1677.9,671.0 L1679.4,670.9 L1680.9,670.8 L1682.4,670.7 L1683.9,670.7 L1685.4,670.6 L1686.9,670.5 L1688.4,670.4 L1689.9,670.4 L1691.4,670.3 L1692.9,670.2 L1694.4,670.1 L1695.9,670.1 L1697.4,670.0 L1698.9,669.9 L1700.4,669.9 L1701.9,669.8 L1703.4,669.7 L1704.9,669.7 L1706.4,669.6 L1708.0,669.5 L1709.5,669.5 L1711.0,669.4 L1712.5,669.4 L1714.0,669.3 L1715.5,669.2 L1717.0,669.2 L1718.5,669.1 L1720.0,669.1 L1721.5,669.0 L1723.0,668.9 L1724.5,668.9 L1726.0,668.8 L1727.5,668.8 L1729.0,668.7 L1730.5,668.7 L1732.0,668.6 L1733.5,668.6 L1735.0,668.5 L1736.5,668.5 L1738.0,668.4 L1739.5,668.4 L1741.0,668.3 L1742.5,668.3 L1744.0,668.2 L1745.5,668.2 L1747.0,668.2 L1748.5,668.1 L1750.0,668.1 L1751.5,668.0 L1753.0,668.0 L1754.5,668.0 L1756.0,667.9 L1757.5,667.9 L1759.0,667.8 L1760.5,667.8 L1762.0,667.8 L1763.6,667.7 L1765.1,667.7 L1766.6,667.7 L1768.1,667.6 L1769.6,667.6 L1771.1,667.6 L1772.6,667.5 L1774.1,667.5 L1775.6,667.5 L1777.1,667.4 L1778.6,667.4 L1780.1,667.4 L1781.6,667.4 L1783.1,667.3 L1784.6,667.3 L1786.1,667.3 L1787.6,667.3 L1789.1,667.2 L1790.6,667.2 L1792.1,667.2 L1793.6,667.2 L1795.1,667.1 L1796.6,667.1 L1798.1,667.1 L1799.6,667.1 L1801.1,667.1 L1802.6,667.0 L1804.1,667.0 L1805.6,667.0 L1807.1,667.0 L1808.7,667.0 L1810.2,667.0 L1811.7,666.9 L1813.2,666.9 L1814.7,666.9 L1816.2,666.9 L1817.7,666.9 L1819.2,666.9 L1820.7,666.9 L1822.2,666.9 L1823.7,666.9 L1825.2,666.8 L1826.7,666.8 L1828.2,666.8 L1829.7,666.8 L1831.2,666.8 L1832.7,666.8 L1834.2,666.8 L1835.7,666.8 L1837.2,666.8 L1838.7,666.8 L1840.2,666.8 L1841.7,666.8 L1843.2,666.8 L1844.7,666.8 L1846.2,666.8 L1847.7,666.8 L1849.2,666.8 L1850.7,666.8 L1852.3,666.8 L1853.8,666.8 L1855.3,666.8 L1856.8,666.8 L1858.3,666.8 L1859.8,666.8 L1861.3,666.8 L1862.8,666.8 L1864.3,666.9 L1865.8,666.9 L1867.3,666.9 L1868.8,666.9 L1870.3,666.9 L1871.8,666.9 L1873.3,666.9 L1874.8,666.9 L1876.3,666.9 L1877.8,667.0 L1879.3,667.0 L1880.8,667.0 L1882.3,667.0 L1883.8,667.0 L1885.3,667.0 L1886.8,667.0 L1888.3,667.1 L1889.8,667.1 L1891.3,667.1 L1892.8,667.1 L1894.3,667.1 L1895.9,667.2 L1897.4,667.2 L1898.9,667.2 L1900.4,667.2 L1901.9,667.3 L1903.4,667.3 L1904.9,667.3 L1906.4,667.3 L1907.9,667.3 L1909.4,667.4 L1910.9,667.4 L1912.4,667.4 L1913.9,667.5 L1915.4,667.5 L1916.9,667.5 L1918.4,667.5 L1919.9,667.6 L1921.4,667.6 L1922.9,667.6 L1924.4,667.7 L1925.9,667.7 L1927.4,667.7 L1928.9,667.8 L1930.4,667.8 L1931.9,667.8 L1933.4,667.9 L1934.9,667.9 L1936.4,667.9 L1937.9,668.0 L1939.4,668.0 L1941.0,668.1 L1942.5,668.1 L1944.0,668.1 L1945.5,668.2 L1947.0,668.2 L1948.5,668.3 L1950.0,668.3 L1951.5,668.3 L1953.0,668.4 L1954.5,668.4 L1956.0,668.5 L1957.5,668.5 L1959.0,668.6 L1960.5,668.6 L1962.0,668.7 L1963.5,668.7 L1965.0,668.7 L1966.5,668.8 L1968.0,668.8 L1969.5,668.9 L1971.0,668.9 L1972.5,669.0 L1974.0,669.0 L1975.5,669.1 L1977.0,669.1 L1978.5,669.2 L1980.0,669.3 L1981.5,669.3 L1983.0,669.4 L1984.5,669.4 L1986.0,669.5 L1987.5,669.5 L1989.0,669.6 L1990.5,669.6 L1992.0,669.7 L1993.5,669.8 L1995.0,669.8 L1996.6,669.9 L1998.1,669.9 L1999.6,670.0 L2001.1,670.0 L2002.6,670.1 L2004.1,670.2 L2005.6,670.2 L2007.1,670.3 L2008.6,670.4 L2010.1,670.4 L2011.6,670.5 L2013.1,670.6 L2014.6,670.6 L2016.1,670.7 L2017.6,670.8 L2019.1,670.8 L2020.6,670.9 L2022.1,671.0 L2023.6,671.0 L2025.1,671.1 L2026.6,671.2 L2028.1,671.2 L2029.6,671.3 L2031.1,671.4 L2032.6,671.4 L2034.1,671.5 L2035.6,671.6 L2037.1,671.7 L2038.6,671.7 L2040.1,671.8 L2041.6,671.9 L2043.1,672.0 L2044.6,672.0 L2046.1,672.1 L2047.6,672.2 L2049.1,672.3 L2050.6,672.3 L2052.1,672.4 L2053.6,672.5 L2055.1,672.6 L2056.6,672.7 L2058.1,672.7 L2059.6,672.8 L2061.1,672.9 L2062.6,673.0 L2064.1,673.1 L2065.6,673.2 L2067.1,673.2 L2068.6,673.3 L2070.1,673.4 L2071.6,673.5 L2073.1,673.6 L2074.6,673.7 L2076.1,673.7 L2077.6,673.8 L2079.1,673.9 L2080.6,674.0 L2082.1,674.1 L2083.6,674.2 L2085.1,674.3 L2086.6,674.4 L2088.1,674.5 L2089.7,674.5 L2091.2,674.6 L2092.7,674.7 L2094.2,674.8 L2095.7,674.9 L2097.2,675.0 L2098.7,675.1 L2100.2,675.2 L2101.7,675.3 L2103.2,675.4 L2104.7,675.5 L2106.2,675.6 L2107.7,675.7 L2109.2,675.8 L2110.7,675.9 L2112.2,676.0 L2113.7,676.1 L2115.2,676.2 L2116.7,676.3 L2118.2,676.4 L2119.7,676.5 L2121.2,676.6 L2122.7,676.6 L2124.2,676.7 L2125.7,676.8 L2127.2,676.9 L2128.7,677.0 L2130.2,677.1 L2131.7,677.2 L2133.2,677.3 L2134.7,677.4 L2136.2,677.5 L2137.7,677.6 L2139.2,677.7 L2140.7,677.8 L2142.2,677.9 L2143.7,678.0 L2145.2,678.1 L2146.7,678.2 L2148.2,678.3 L2149.7,678.4 L2151.2,678.6 L2152.7,678.7 L2154.2,678.8 L2155.7,678.9 L2157.2,679.0 L2158.7,679.1 L2160.2,679.2 L2161.7,679.3 L2163.2,679.4 L2164.7,679.5 L2166.2,679.6 L2167.7,679.7 L2169.2,679.7 L2170.7,679.8 L2172.2,679.9 L2173.7,680.0 L2175.2,680.1 L2176.7,680.2 L2178.2,680.3 L2179.7,680.4 L2181.2,680.5 L2182.7,680.6 L2184.2,680.7 L2185.7,680.8 L2187.2,680.9 L2188.7,681.0 L2190.2,681.1 L2191.7,681.2 L2193.2,681.3 L2194.7,681.4 L2196.2,681.5 L2197.7,681.6 L2199.2,681.7 L2200.7,681.8 L2202.2,681.9 L2203.7,682.0 L2205.2,682.0 L2206.7,682.1 L2208.2,682.2 L2209.7,682.3 L2211.2,682.4 L2212.7,682.5 L2214.2,682.6 L2215.7,682.7 L2217.2,682.8 L2218.7,682.8 L2220.2,682.9 L2221.7,683.0 L2223.2,683.1 L2224.7,683.2 L2226.2,683.3 L2227.7,683.4 L2229.2,683.4 L2230.7,683.5 L2232.2,683.6 L2233.7,683.7 L2235.2,683.8 L2236.7,683.8 L2238.2,683.9 L2239.7,684.0 L2241.2,684.1 L2242.7,684.1 L2244.2,684.2 L2245.7,684.3 L2247.2,684.4 L2248.7,684.4 L2250.2,684.5 L2251.7,684.6 L2253.2,684.6 L2254.7,684.7 L2256.2,684.8 L2257.7,684.9 L2259.2,684.9 L2260.7,685.0 L2262.2,685.0 L2263.7,685.1 L2265.2,685.2 L2266.7,685.2 L2268.2,685.3 L2269.7,685.4 L2271.2,685.4 L2272.7,685.5 L2274.3,685.5 L2275.8,685.6 L2277.3,685.6 L2278.8,685.7 L2280.3,685.7 L2281.8,685.8 L2283.3,685.8 L2284.8,685.9 L2286.3,685.9 L2287.8,686.0 L2289.3,686.0 L2290.8,686.1 L2292.3,686.1 L2293.8,686.1 L2295.3,686.2 L2296.8,686.2 L2298.3,686.3 L2299.8,686.3 L2301.3,686.3 L2302.8,686.4 L2304.3,686.4 L2305.8,686.4 L2307.3,686.5 L2308.8,686.5 L2310.3,686.5 L2311.8,686.5 L2313.3,686.6 L2314.8,686.6 L2316.3,686.6 L2317.8,686.6 L2319.3,686.6 L2320.8,686.7 L2322.3,686.7 L2323.9,686.7 L2325.4,686.7 L2326.9,686.7 L2328.4,686.7 L2329.9,686.7 L2331.4,686.7 L2332.9,686.7 L2334.4,686.7 L2335.9,686.7 L2337.4,686.7 L2338.9,686.7 L2340.4,686.7 L2341.9,686.7 L2343.4,686.7 L2344.9,686.7 L2346.4,686.7 L2347.9,686.7 L2349.4,686.7 L2350.9,686.7 L2352.4,686.7 L2353.9,686.6 L2355.4,686.6 L2356.9,686.6 L2358.4,686.6 L2359.9,686.5 L2361.4,686.5 L2362.9,686.5 L2364.4,686.5 L2365.9,686.4 L2367.5,686.4 L2369.0,686.4 L2370.5,686.3 L2372.0,686.3 L2373.5,686.2 L2375.0,686.2 L2376.5,686.1 L2378.0,686.1 L2379.5,686.0 L2381.0,686.0 L2382.5,685.9 L2384.0,685.9 L2385.5,685.8 L2387.0,685.8 L2388.5,685.7 L2390.0,685.6 L2391.5,685.6 L2393.0,685.5 L2394.5,685.4 L2396.0,685.4"/>
<path d="M1414.0,699.5 L1415.5,699.4 L1417.0,699.4 L1418.5,699.3 L1420.0,699.2 L1421.5,699.2 L1423.0,699.1 L1424.5,699.0 L1426.0,699.0 L1427.5,698.9 L1429.0,698.9 L1430.5,698.8 L1432.0,698.7 L1433.5,698.7 L1435.0,698.6 L1436.5,698.5 L1438.0,698.5 L1439.5,698.4 L1441.1,698.4 L1442.6,698.3 L1444.1,698.2 L1445.6,698.2 L1447.1,698.1 L1448.6,698.0 L1450.1,698.0 L1451.6,697.9 L1453.1,697.9 L1454.6,697.8 L1456.1,697.7 L1457.6,697.7 L1459.1,697.6 L1460.6,697.6 L1462.1,697.5 L1463.6,697.4 L1465.1,697.4 L1466.6,697.3 L1468.1,697.3 L1469.6,697.2 L1471.1,697.1 L1472.6,697.1 L1474.1,697.0 L1475.6,697.0 L1477.1,696.9 L1478.6,696.9 L1480.1,696.8 L1481.6,696.7 L1483.1,696.7 L1484.6,696.6 L1486.1,696.6 L1487.6,696.5 L1489.1,696.5 L1490.6,696.4 L1492.2,696.3 L1493.7,696.3 L1495.2,696.2 L1496.7,696.2 L1498.2,696.1 L1499.7,696.1 L1501.2,696.0 L1502.7,696.0 L1504.2,695.9 L1505.7,695.8 L1507.2,695.8 L1508.7,695.7 L1510.2,695.7 L1511.7,695.6 L1513.2,695.6 L1514.7,695.5 L1516.2,695.5 L1517.7,695.4 L1519.2,695.4 L1520.7,695.3 L1522.2,695.3 L1523.7,695.2 L1525.2,695.1 L1526.7,695.1 L1528.2,695.0 L1529.7,695.0 L1531.2,694.9 L1532.7,694.9 L1534.2,694.8 L1535.7,694.8 L1537.2,694.7 L1538.8,694.7 L1540.3,694.6 L1541.8,694.6 L1543.3,694.5 L1544.8,694.5 L1546.3,694.4 L1547.8,694.4 L1549.3,694.3 L1550.8,694.3 L1552.3,694.2 L1553.8,694.2 L1555.3,694.1 L1556.8,694.1 L1558.3,694.0 L1559.8,694.0 L1561.3,693.9 L1562.8,693.9 L1564.3,693.8 L1565.8,693.8 L1567.3,693.7 L1568.8,693.7 L1570.3,693.7 L1571.8,693.6 L1573.3,693.6 L1574.8,693.5 L1576.3,693.5 L1577.8,693.4 L1579.3,693.4 L1580.8,693.3 L1582.3,693.3 L1583.9,693.2 L1585.4,693.2 L1586.9,693.1 L1588.4,693.1 L1589.9,693.0 L1591.4,693.0 L1592.9,693.0 L1594.4,692.9 L1595.9,692.9 L1597.4,692.8 L1598.9,692.8 L1600.4,692.7 L1601.9,692.7 L1603.4,692.6 L1604.9,692.6 L1606.4,692.6 L1607.9,692.5 L1609.4,692.5 L1610.9,692.4 L1612.4,692.4 L1613.9,692.3 L1615.4,692.3 L1616.9,692.3 L1618.4,692.2 L1619.9,692.2 L1621.4,692.1 L1622.9,692.1 L1624.4,692.0 L1626.0,692.0 L1627.5,692.0 L1629.0,691.9 L1630.5,691.9 L1632.0,691.8 L1633.5,691.8 L1635.0,691.8 L1636.5,691.7 L1638.0,691.7 L1639.5,691.6 L1641.0,691.6 L1642.5,691.6 L1644.0,691.5 L1645.5,691.5 L1647.0,691.4 L1648.5,691.4 L1650.0,691.4 L1651.5,691.3 L1653.0,691.3 L1654.5,691.2 L1656.0,691.2 L1657.5,691.2 L1659.0,691.1 L1660.5,691.1 L1662.0,691.1 L1663.5,691.0 L1665.0,691.0 L1666.6,690.9 L1668.1,690.9 L1669.6,690.9 L1671.1,690.8 L1672.6,690.8 L1674.1,690.8 L1675.6,690.7 L1677.1,690.7 L1678.6,690.7 L1680.1,690.6 L1681.6,690.6 L1683.1,690.5 L1684.6,690.5 L1686.1,690.5 L1687.6,690.4 L1689.1,690.4 L1690.6,690.4 L1692.1,690.3 L1693.6,690.3 L1695.1,690.3 L1696.6,690.2 L1698.1,690.2 L1699.6,690.2 L1701.1,690.1 L1702.6,690.1 L1704.1,690.1 L1705.6,690.0 L1707.2,690.0 L1708.7,690.0 L1710.2,689.9 L1711.7,689.9 L1713.2,689.9 L1714.7,689.8 L1716.2,689.8 L1717.7,689.8 L1719.2,689.7 L1720.7,689.7 L1722.2,689.7 L1723.7,689.6 L1725.2,689.6 L1726.7,689.6 L1728.2,689.6 L1729.7,689.5 L1731.2,689.5 L1732.7,689.5 L1734.2,689.4 L1735.7,689.4 L1737.2,689.4 L1738.7,689.3 L1740.2,689.3 L1741.7,689.3 L1743.2,689.2 L1744.7,689.2 L1746.3,689.2 L1747.8,689.2 L1749.3,689.1 L1750.8,689.1 L1752.3,689.1 L1753.8,689.0 L1755.3,689.0 L1756.8,689.0 L1758.3,689.0 L1759.8,688.9 L1761.3,688.9 L1762.8,688.9 L1764.3,688.9 L1765.8,688.8 L1767.3,688.8 L1768.8,688.8 L1770.3,688.7 L1771.8,688.7 L1773.3,688.7 L1774.8,688.7 L1776.3,688.6 L1777.8,688.6 L1779.3,688.6 L1780.8,688.6 L1782.3,688.5 L1783.8,688.5 L1785.4,688.5 L1786.9,688.5 L1788.4,688.4 L1789.9,688.4 L1791.4,688.4 L1792.9,688.4 L1794.4,688.3 L1795.9,688.3 L1797.4,688.3 L1798.9,688.3 L1800.4,688.2 L1801.9,688.2 L1803.4,688.2 L1804.9,688.2 L1806.4,688.1 L1807.9,688.1 L1809.4,688.1 L1810.9,688.1 L1812.4,688.0 L1813.9,688.0 L1815.4,688.0 L1816.9,688.0 L1818.4,688.0 L1819.9,687.9 L1821.4,687.9 L1823.0,687.9 L1824.5,687.9 L1826.0,687.9 L1827.5,687.8 L1829.0,687.8 L1830.5,687.8 L1832.0,687.8 L1833.5,687.7 L1835.0,687.7 L1836.5,687.7 L1838.0,687.7 L1839.5,687.7 L1841.0,687.6 L1842.5,687.6 L1844.0,687.6 L1845.5,687.6 L1847.0,687.6 L1848.5,687.5 L1850.0,687.5 L1851.5,687.5 L1853.0,687.5 L1854.5,687.5 L1856.0,687.4 L1857.5,687.4 L1859.0,687.4 L1860.6,687.4 L1862.1,687.4 L1863.6,687.4 L1865.1,687.3 L1866.6,687.3 L1868.1,687.3 L1869.6,687.3 L1871.1,687.3 L1872.6,687.3 L1874.1,687.2 L1875.6,687.2 L1877.1,687.2 L1878.6,687.2 L1880.1,687.2 L1881.6,687.2 L1883.1,687.1 L1884.6,687.1 L1886.1,687.1 L1887.6,687.1 L1889.1,687.1 L1890.6,687.1 L1892.1,687.0 L1893.6,687.0 L1895.1,687.0 L1896.7,687.0 L1898.2,687.0 L1899.7,687.0 L1901.2,687.0 L1902.7,686.9 L1904.2,686.9 L1905.7,686.9 L1907.2,686.9 L1908.7,686.9 L1910.2,686.9 L1911.7,686.9 L1913.2,686.8 L1914.7,686.8 L1916.2,686.8 L1917.7,686.8 L1919.2,686.8 L1920.7,686.8 L1922.2,686.8 L1923.7,686.7 L1925.2,686.7 L1926.7,686.7 L1928.2,686.7 L1929.7,686.7 L1931.2,686.7 L1932.7,686.7 L1934.3,686.7 L1935.8,686.7 L1937.3,686.6 L1938.8,686.6 L1940.3,686.6 L1941.8,686.6 L1943.3,686.6 L1944.8,686.6 L1946.3,686.6 L1947.8,686.6 L1949.3,686.6 L1950.8,686.5 L1952.3,686.5 L1953.8,686.5 L1955.3,686.5 L1956.8,686.5 L1958.3,686.5 L1959.8,686.5 L1961.3,686.5 L1962.8,686.5 L1964.3,686.5 L1965.8,686.4 L1967.3,686.4 L1968.8,686.4 L1970.4,686.4 L1971.9,686.4 L1973.4,686.4 L1974.9,686.4 L1976.4,686.4 L1977.9,686.4 L1979.4,686.4 L1980.9,686.4 L1982.4,686.4 L1983.9,686.3 L1985.4,686.3 L1986.9,686.3 L1988.4,686.3 L1989.9,686.3 L1991.4,686.3 L1992.9,686.3 L1994.4,686.3 L1995.9,686.3 L1997.4,686.3 L1998.9,686.3 L2000.4,686.3 L2001.9,686.3 L2003.4,686.3 L2004.9,686.3 L2006.5,686.3 L2008.0,686.2 L2009.5,686.2 L2011.0,686.2 L2012.5,686.2 L2014.0,686.2 L2015.5,686.2 L2017.0,686.2 L2018.5,686.2 L2020.0,686.2 L2021.5,686.2 L2023.0,686.2 L2024.5,686.2 L2026.0,686.2 L2027.5,686.2 L2029.0,686.2 L2030.5,686.2 L2032.0,686.2 L2033.5,686.2 L2035.0,686.2 L2036.5,686.2 L2038.0,686.2 L2039.5,686.2 L2041.0,686.2 L2042.6,686.2 L2044.1,686.2 L2045.6,686.2 L2047.1,686.2 L2048.6,686.1 L2050.1,686.1 L2051.6,686.1 L2053.1,686.1 L2054.6,686.1 L2056.1,686.1 L2057.6,686.1 L2059.1,686.1 L2060.6,686.1 L2062.1,686.1 L2063.6,686.1 L2065.1,686.1 L2066.6,686.1 L2068.1,686.1 L2069.6,686.1 L2071.1,686.1 L2072.6,686.1 L2074.1,686.1 L2075.6,686.1 L2077.1,686.1 L2078.7,686.1 L2080.2,686.1 L2081.7,686.1 L2083.2,686.1 L2084.7,686.1 L2086.2,686.1 L2087.7,686.1 L2089.2,686.1 L2090.7,686.1 L2092.2,686.1 L2093.7,686.1 L2095.2,686.1 L2096.7,686.1 L2098.2,686.1 L2099.7,686.2 L2101.2,686.2 L2102.7,686.2 L2104.2,686.2 L2105.7,686.2 L2107.2,686.2 L2108.7,686.2 L2110.2,686.2 L2111.7,686.2 L2113.2,686.2 L2114.8,686.2 L2116.3,686.2 L2117.8,686.2 L2119.3,686.2 L2120.8,686.2 L2122.3,686.2 L2123.8,686.2 L2125.3,686.2 L2126.8,686.2 L2128.3,686.2 L2129.8,686.2 L2131.3,686.2 L2132.8,686.2 L2134.3,686.2 L2135.8,686.2 L2137.3,686.2 L2138.8,686.2 L2140.3,686.2 L2141.8,686.3 L2143.3,686.3 L2144.8,686.3 L2146.3,686.3 L2147.8,686.3 L2149.3,686.3 L2150.9,686.3 L2152.4,686.3 L2153.9,686.3 L2155.4,686.3 L2156.9,686.3 L2158.4,686.3 L2159.9,686.3 L2161.4,686.3 L2162.9,686.3 L2164.4,686.3 L2165.9,686.4 L2167.4,686.4 L2168.9,686.4 L2170.4,686.4 L2171.9,686.4 L2173.4,686.4 L2174.9,686.4 L2176.4,686.4 L2177.9,686.4 L2179.4,686.4 L2180.9,686.4 L2182.4,686.4 L2183.9,686.4 L2185.4,686.5 L2187.0,686.5 L2188.5,686.5 L2190.0,686.5 L2191.5,686.5 L2193.0,686.5 L2194.5,686.5 L2196.0,686.5 L2197.5,686.5 L2199.0,686.5 L2200.5,686.5 L2202.0,686.6 L2203.5,686.6 L2205.0,686.6 L2206.5,686.6 L2208.0,686.6 L2209.5,686.6 L2211.0,686.6 L2212.5,686.6 L2214.0,686.6 L2215.5,686.6 L2217.0,686.7 L2218.5,686.7 L2220.0,686.7 L2221.5,686.7 L2223.0,686.7 L2224.6,686.7 L2226.1,686.7 L2227.6,686.7 L2229.1,686.7 L2230.6,686.8 L2232.1,686.8 L2233.6,686.8 L2235.1,686.8 L2236.6,686.8 L2238.1,686.8 L2239.6,686.8 L2241.1,686.8 L2242.6,686.9 L2244.1,686.9 L2245.6,686.9 L2247.1,686.9 L2248.6,686.9 L2250.1,686.9 L2251.6,686.9 L2253.1,686.9 L2254.6,687.0 L2256.1,687.0 L2257.6,687.0 L2259.1,687.0 L2260.7,687.0 L2262.2,687.0 L2263.7,687.0 L2265.2,687.1 L2266.7,687.1 L2268.2,687.1 L2269.7,687.1 L2271.2,687.1 L2272.7,687.1 L2274.2,687.1 L2275.7,687.2 L2277.2,687.2 L2278.7,687.2 L2280.2,687.2 L2281.7,687.2 L2283.2,687.2 L2284.7,687.2 L2286.2,687.3 L2287.7,687.3 L2289.2,687.3 L2290.7,687.3 L2292.2,687.3 L2293.7,687.3 L2295.2,687.4 L2296.7,687.4 L2298.3,687.4 L2299.8,687.4 L2301.3,687.4 L2302.8,687.4 L2304.3,687.5 L2305.8,687.5 L2307.3,687.5 L2308.8,687.5 L2310.3,687.5 L2311.8,687.5 L2313.3,687.6 L2314.8,687.6 L2316.3,687.6 L2317.8,687.6 L2319.3,687.6 L2320.8,687.6 L2322.3,687.7 L2323.8,687.7 L2325.3,687.7 L2326.8,687.7 L2328.3,687.7 L2329.8,687.8 L2331.3,687.8 L2332.8,687.8 L2334.4,687.8 L2335.9,687.8 L2337.4,687.8 L2338.9,687.9 L2340.4,687.9 L2341.9,687.9 L2343.4,687.9 L2344.9,687.9 L2346.4,688.0 L2347.9,688.0 L2349.4,688.0 L2350.9,688.0 L2352.4,688.0 L2353.9,688.1 L2355.4,688.1 L2356.9,688.1 L2358.4,688.1 L2359.9,688.1 L2361.4,688.2 L2362.9,688.2 L2364.4,688.2 L2365.9,688.2 L2367.4,688.2 L2368.9,688.3 L2370.4,688.3 L2372.0,688.3 L2373.5,688.3 L2375.0,688.3 L2376.5,688.4 L2378.0,688.4 L2379.5,688.4 L2381.0,688.4 L2382.5,688.5 L2384.0,688.5 L2385.5,688.5 L2387.0,688.5 L2388.5,688.5 L2390.0,688.6"/>
</g>
<line x1="205.8" y1="44.3" x2="1187.5" y2="44.3" stroke="#000" stroke-width="5.4"/>
<line x1="205.8" y1="42.3" x2="205.8" y2="777" stroke="#2a2a2a" stroke-width="2.6"/>
<line x1="1187.5" y1="42.0" x2="1187.5" y2="792" stroke="#000" stroke-width="5"/>
<line x1="199.8" y1="777" x2="1187.5" y2="777" stroke="#000" stroke-width="5.6"/>
<line x1="190.8" y1="693.5" x2="205.8" y2="693.5" stroke="#333" stroke-width="2.6"/>
<line x1="190.8" y1="531.5" x2="205.8" y2="531.5" stroke="#333" stroke-width="2.6"/>
<line x1="190.8" y1="369.5" x2="205.8" y2="369.5" stroke="#333" stroke-width="2.6"/>
<line x1="190.8" y1="207.5" x2="205.8" y2="207.5" stroke="#333" stroke-width="2.6"/>
<line x1="190.8" y1="45.5" x2="205.8" y2="45.5" stroke="#333" stroke-width="2.6"/>
<line x1="197.8" y1="774.5" x2="205.8" y2="774.5" stroke="#333" stroke-width="2.4"/>
<line x1="197.8" y1="612.5" x2="205.8" y2="612.5" stroke="#333" stroke-width="2.4"/>
<line x1="197.8" y1="450.5" x2="205.8" y2="450.5" stroke="#333" stroke-width="2.4"/>
<line x1="197.8" y1="288.5" x2="205.8" y2="288.5" stroke="#333" stroke-width="2.4"/>
<line x1="197.8" y1="126.5" x2="205.8" y2="126.5" stroke="#333" stroke-width="2.4"/>
<text x="180.8" y="712.0" text-anchor="end" class="tl">0</text>
<text x="180.8" y="550.0" text-anchor="end" class="tl">5</text>
<text x="180.8" y="388.0" text-anchor="end" class="tl">10</text>
<text x="180.8" y="226.0" text-anchor="end" class="tl">15</text>
<text x="180.8" y="64.0" text-anchor="end" class="tl">20</text>
<line x1="205.8" y1="777" x2="205.8" y2="792" stroke="#000" stroke-width="5"/>
<text x="205.8" y="847" text-anchor="middle" class="tl">0.0</text>
<line x1="451.23" y1="777" x2="451.23" y2="792" stroke="#000" stroke-width="5"/>
<text x="448.4" y="847" text-anchor="middle" class="tl">0.1</text>
<line x1="696.6600000000001" y1="777" x2="696.6600000000001" y2="792" stroke="#000" stroke-width="5"/>
<text x="696.7" y="847" text-anchor="middle" class="tl">0.2</text>
<line x1="942.0899999999999" y1="777" x2="942.0899999999999" y2="792" stroke="#000" stroke-width="5"/>
<text x="941.5" y="847" text-anchor="middle" class="tl">0.3</text>
<line x1="1187.52" y1="777" x2="1187.52" y2="792" stroke="#000" stroke-width="5"/>
<text x="1185.7" y="847" text-anchor="middle" class="tl">0.4</text>
<line x1="328.515" y1="777" x2="328.515" y2="786" stroke="#000" stroke-width="4"/>
<line x1="573.9449999999999" y1="777" x2="573.9449999999999" y2="786" stroke="#000" stroke-width="4"/>
<line x1="819.375" y1="777" x2="819.375" y2="786" stroke="#000" stroke-width="4"/>
<line x1="1064.805" y1="777" x2="1064.805" y2="786" stroke="#000" stroke-width="4"/>
<line x1="1417.3" y1="44.5" x2="2399.6" y2="44.5" stroke="#000" stroke-width="5.4"/>
<line x1="1417.3" y1="42.5" x2="1417.3" y2="777" stroke="#2a2a2a" stroke-width="2.6"/>
<line x1="2399.6" y1="42.2" x2="2399.6" y2="792" stroke="#000" stroke-width="5"/>
<line x1="1411.3" y1="777" x2="2399.6" y2="777" stroke="#000" stroke-width="5.6"/>
<line x1="1402.3" y1="658.2" x2="1417.3" y2="658.2" stroke="#333" stroke-width="2.6"/>
<line x1="1402.3" y1="422.45000000000005" x2="1417.3" y2="422.45000000000005" stroke="#333" stroke-width="2.6"/>
<line x1="1402.3" y1="186.70000000000005" x2="1417.3" y2="186.70000000000005" stroke="#333" stroke-width="2.6"/>
<line x1="1409.3" y1="776.075" x2="1417.3" y2="776.075" stroke="#333" stroke-width="2.4"/>
<line x1="1409.3" y1="540.325" x2="1417.3" y2="540.325" stroke="#333" stroke-width="2.4"/>
<line x1="1409.3" y1="304.57500000000005" x2="1417.3" y2="304.57500000000005" stroke="#333" stroke-width="2.4"/>
<line x1="1409.3" y1="68.82500000000005" x2="1417.3" y2="68.82500000000005" stroke="#333" stroke-width="2.4"/>
<text x="1393.8" y="676.7" text-anchor="end" class="tl">0</text>
<text x="1393.8" y="440.95000000000005" text-anchor="end" class="tl">5</text>
<text x="1393.8" y="205.20000000000005" text-anchor="end" class="tl">10</text>
<line x1="1417.3" y1="777" x2="1417.3" y2="792" stroke="#000" stroke-width="5"/>
<text x="1417.3" y="847" text-anchor="middle" class="tl">0.0</text>
<line x1="1662.8799999999999" y1="777" x2="1662.8799999999999" y2="792" stroke="#000" stroke-width="5"/>
<text x="1660.1" y="847" text-anchor="middle" class="tl">0.1</text>
<line x1="1908.46" y1="777" x2="1908.46" y2="792" stroke="#000" stroke-width="5"/>
<text x="1908.5" y="847" text-anchor="middle" class="tl">0.2</text>
<line x1="2154.04" y1="777" x2="2154.04" y2="792" stroke="#000" stroke-width="5"/>
<text x="2153.4" y="847" text-anchor="middle" class="tl">0.3</text>
<line x1="2399.62" y1="777" x2="2399.62" y2="792" stroke="#000" stroke-width="5"/>
<text x="2397.8" y="847" text-anchor="middle" class="tl">0.4</text>
<line x1="1540.09" y1="777" x2="1540.09" y2="786" stroke="#000" stroke-width="4"/>
<line x1="1785.67" y1="777" x2="1785.67" y2="786" stroke="#000" stroke-width="4"/>
<line x1="2031.25" y1="777" x2="2031.25" y2="786" stroke="#000" stroke-width="4"/>
<line x1="2276.83" y1="777" x2="2276.83" y2="786" stroke="#000" stroke-width="4"/>
<text x="224" y="128" class="pl">A</text>
<text x="1444" y="129.5" class="pl" style="font-size:78px">B</text>
<text transform="translate(57.5,449) rotate(-90)" text-anchor="middle" class="ti">Current (μA)</text>
<text transform="translate(1269.5,451) rotate(-90)" text-anchor="middle" class="ti">Current (μA)</text>
<text x="696" y="946.4" text-anchor="middle" class="ti">Potential (V)</text>
<text x="1908" y="946.4" text-anchor="middle" class="ti">Potential (V)</text>
<line x1="842" y1="588.8" x2="842" y2="200" stroke="#000" stroke-width="3"/>
<polygon points="842,188 834.5,203.5 849.5,203.5" fill="#000"/>
<text x="884.8" y="210.2" class="lg">2000</text>
<text x="884.8" y="268.6" class="lg">1000</text>
<text x="884.8" y="327.0" class="lg">500</text>
<text x="884.8" y="385.4" class="lg">100</text>
<text x="884.8" y="443.8" class="lg">10</text>
<text x="884.8" y="502.2" class="lg">1</text>
<text x="884.8" y="560.6" class="lg">0.1</text>
<text x="884.8" y="619.0" class="lg">0</text>
<text x="1001" y="399.6" class="un">ng/mL</text>
<line x1="2088.5" y1="611.1999999999999" x2="2088.5" y2="222.4" stroke="#000" stroke-width="3"/>
<polygon points="2088.5,210.4 2081.0,225.9 2096.0,225.9" fill="#000"/>
<text x="2131.3" y="232.6" class="lg">2000</text>
<text x="2131.3" y="291.0" class="lg">1000</text>
<text x="2131.3" y="349.4" class="lg">500</text>
<text x="2131.3" y="407.8" class="lg">100</text>
<text x="2131.3" y="466.2" class="lg">10</text>
<text x="2131.3" y="524.6" class="lg">1</text>
<text x="2131.3" y="583.0" class="lg">0.1</text>
<text x="2131.3" y="641.4" class="lg">0</text>
<text x="2247.5" y="422.0" class="un">ng/mL</text>
</svg>
</body></html>
